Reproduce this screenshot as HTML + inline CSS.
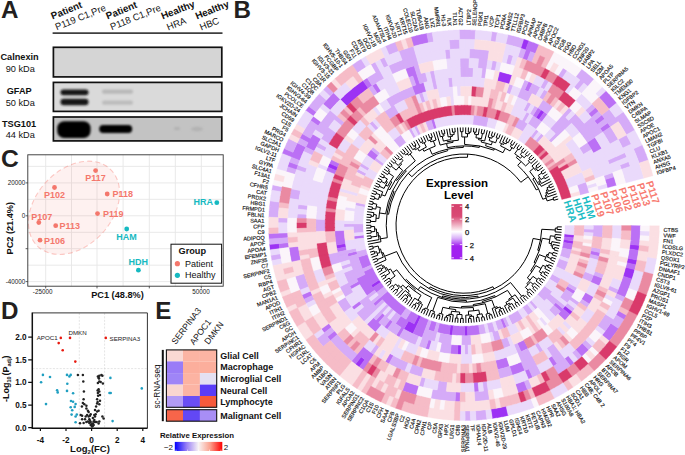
<!DOCTYPE html><html><head><meta charset="utf-8"><style>html,body{margin:0;padding:0;background:#fff;}svg{display:block;font-family:"Liberation Sans",sans-serif;}</style></head><body><svg width="685" height="455" viewBox="0 0 685 455" font-family="Liberation Sans, sans-serif">
<rect width="685" height="455" fill="#fff"/>

<text x="0.9" y="17.9" font-size="24.2" font-weight="bold" fill="#231f20">A</text>
<g font-size="9.5" fill="#111">
<text transform="translate(52.6 19.6) rotate(-22)" font-weight="bold" font-size="9.8">Patient</text>
<text transform="translate(56.8 30.3) rotate(-22)">P119 C1,Pre</text>
<text transform="translate(107.6 19.6) rotate(-22)" font-weight="bold" font-size="9.8">Patient</text>
<text transform="translate(111.8 30.3) rotate(-22)">P118 C1,Pre</text>
<text transform="translate(162.8 19.6) rotate(-22)" font-weight="bold" font-size="9.8">Healthy</text>
<text transform="translate(168.3 30.6) rotate(-22)">HRA</text>
<text transform="translate(196.9 19.6) rotate(-22)" font-weight="bold" font-size="9.8">Healthy</text>
<text transform="translate(201.3 30.6) rotate(-22)">HBC</text>
</g>
<rect x="52.6" y="32.4" width="169.9" height="1.4" fill="#111"/>
<defs>
<filter id="blur1" x="-20%" y="-50%" width="140%" height="200%"><feGaussianBlur stdDeviation="1.2"/></filter>
<filter id="blur2" x="-20%" y="-50%" width="140%" height="200%"><feGaussianBlur stdDeviation="0.9"/></filter>
</defs>
<rect x="53.4" y="47.3" width="168.4" height="29.6" fill="#d5d5d5" stroke="#111" stroke-width="1.7"/>
<rect x="53.4" y="82.4" width="168.4" height="29.0" fill="#dadada" stroke="#111" stroke-width="1.7"/>
<rect x="53.4" y="117.0" width="168.4" height="23.9" fill="#c3c3c3" stroke="#111" stroke-width="1.7"/>
<g filter="url(#blur2)">
<rect x="60.5" y="89.4" width="28" height="5.8" rx="2.9" fill="#151515"/>
<rect x="60.5" y="98.8" width="28" height="6.4" rx="3.2" fill="#151515"/>
<rect x="102" y="89.6" width="31" height="4.2" rx="2" fill="#b8b8b8"/>
<rect x="102" y="100.4" width="31" height="4.4" rx="2" fill="#bcbcbc"/>
</g>
<g filter="url(#blur1)">
<rect x="57.2" y="121.2" width="33.4" height="16.8" rx="7" fill="#000"/>
<rect x="99.2" y="125.1" width="33" height="8" rx="4" fill="#050505"/>
<ellipse cx="177" cy="128.5" rx="3" ry="1.6" fill="#b0b0b0"/>
<ellipse cx="197" cy="129" rx="6" ry="2.2" fill="#b2b2b2"/>
</g>
<g font-size="9.2" fill="#111" text-anchor="middle">
<text x="19.6" y="59.8" font-weight="bold">Calnexin</text>
<text x="20.2" y="71.5">90 kDa</text>
<text x="19.2" y="94.4" font-weight="bold">GFAP</text>
<text x="20.2" y="105.8">50 kDa</text>
<text x="19.1" y="127.1" font-weight="bold">TSG101</text>
<text x="20.2" y="138">44 kDa</text>
</g>

<text x="1.0" y="167.1" font-size="24.6" font-weight="bold" fill="#231f20">C</text>
<rect x="27.8" y="154.8" width="195.39999999999998" height="131.39999999999998" fill="#fff"/>
<path d="M45.7 154.8V286.2M97.0 154.8V286.2M149.3 154.8V286.2M201.3 154.8V286.2M71.5 154.8V286.2M123.1 154.8V286.2M175.3 154.8V286.2M27.8 166.4H223.2M27.8 182.9H223.2M27.8 199.3H223.2M27.8 215.8H223.2M27.8 232.3H223.2M27.8 248.7H223.2M27.8 265.2H223.2M27.8 281.6H223.2" stroke="#e6e6e6" stroke-width="0.9" fill="none"/>
<ellipse cx="74" cy="207.8" rx="53" ry="38" transform="rotate(-47 74 207.8)" fill="#f8766d" fill-opacity="0.1" stroke="#f8766d" stroke-opacity="0.38" stroke-width="1.1" stroke-dasharray="5 3.2"/>
<rect x="27.8" y="154.8" width="195.39999999999998" height="131.39999999999998" fill="none" stroke="#333" stroke-width="0.9"/>
<g font-size="6.3" fill="#222" text-anchor="end"><text x="25.3" y="185.1">20000</text><text x="25.3" y="218">0</text><text x="25.3" y="284">-40000</text></g>
<path d="M25.6 182.9H27.8M25.6 215.8H27.8M25.6 248.7H27.8M25.6 281.6H27.8M45.7 286.2V288.4M97 286.2V288.4M149.3 286.2V288.4M201.3 286.2V288.4" stroke="#333" stroke-width="0.8"/>
<g font-size="6.3" fill="#222" text-anchor="middle"><text x="42.6" y="294">-25000</text><text x="201.1" y="293.8">50000</text></g>
<text x="117.5" y="298" font-size="9.2" font-weight="bold" text-anchor="middle" fill="#111">PC1 (48.8%)</text>
<text transform="translate(13.0 228.2) rotate(-90)" font-size="9.2" font-weight="bold" text-anchor="middle" fill="#111">PC2 (21.4%)</text>
<g fill="#f4776c" font-size="9" font-weight="bold">
<circle cx="95.6" cy="170.6" r="2.4"/><text x="95.5" y="181.4" text-anchor="middle">P117</text>
<circle cx="54.5" cy="187.5" r="2.4"/><text x="54.6" y="198.4" text-anchor="middle">P102</text>
<circle cx="107.2" cy="194" r="2.4"/><text x="112.5" y="197.1" text-anchor="start">P118</text>
<circle cx="97.5" cy="213.6" r="2.4"/><text x="102.9" y="217.2" text-anchor="start">P119</text>
<circle cx="38.8" cy="222.5" r="2.4"/><text x="41.7" y="219.6" text-anchor="middle">P107</text>
<circle cx="55.7" cy="225.7" r="2.4"/><text x="59.6" y="229" text-anchor="start">P113</text>
<circle cx="40.0" cy="240.2" r="2.4"/><text x="43.9" y="243.6" text-anchor="start">P106</text>
</g>
<g fill="#16b9c1" font-size="9" font-weight="bold">
<circle cx="126.7" cy="229" r="2.4"/><text x="126.5" y="240" text-anchor="middle">HAM</text>
<circle cx="216.8" cy="202.7" r="2.4"/><text x="213" y="205.2" text-anchor="end">HRA</text>
<circle cx="138.4" cy="270.2" r="2.4"/><text x="138.3" y="265.2" text-anchor="middle">HDH</text>
</g>
<rect x="171" y="244.2" width="50.6" height="39" fill="#fff" stroke="#111" stroke-width="1"/>
<text x="192.3" y="253.8" font-size="9.2" font-weight="bold" text-anchor="middle" fill="#111">Group</text>
<circle cx="177.4" cy="263.7" r="2.6" fill="#f4776c"/><circle cx="177.4" cy="275.3" r="2.6" fill="#16b9c1"/>
<g font-size="9" fill="#111"><text x="184.9" y="266.8">Patient</text><text x="184.9" y="278.4">Healthy</text></g>
<text x="1.0" y="318.7" font-size="24.2" font-weight="bold" fill="#231f20">D</text>
<path d="M79.3 313V428M104.6 313V428M32.5 368.6H147.6" stroke="#d2d2d2" stroke-width="0.6" stroke-dasharray="2 1.4" fill="none"/>
<path d="M32.5 312.9H147.4V428.3" stroke="#333" stroke-width="1" fill="none"/>
<path d="M32.3 312.4V428.3H147.5" stroke="#111" stroke-width="1.5" fill="none"/>
<path d="M28.2 337.1H32.3M28.2 359.8H32.3M28.2 382.4H32.3M28.2 405.1H32.3M28.2 427.7H32.3M40.4 428.3V431M66.0 428.3V431M91.6 428.3V431M117.2 428.3V431M142.8 428.3V431" stroke="#111" stroke-width="1.2"/>
<g font-size="8.2" font-weight="bold" fill="#111" text-anchor="end">
<text x="26.6" y="340.1">2.0</text>
<text x="26.6" y="362.8">1.5</text>
<text x="26.6" y="385.4">1.0</text>
<text x="26.6" y="408.1">0.5</text>
<text x="26.6" y="430.7">0.0</text>
</g><g font-size="8.2" font-weight="bold" fill="#111" text-anchor="middle">
<text x="40.4" y="442.6">-4</text>
<text x="66.0" y="442.6">-2</text>
<text x="91.6" y="442.6">0</text>
<text x="117.2" y="442.6">2</text>
<text x="142.8" y="442.6">4</text>
</g>
<text x="90" y="451.5" font-size="9.5" font-weight="bold" text-anchor="middle" fill="#111">Log<tspan font-size="6" dy="2">2</tspan><tspan dy="-2">(FC)</tspan></text>
<text transform="translate(9.0 378.8) rotate(-90)" font-size="9" font-weight="bold" text-anchor="middle" fill="#111">-Log<tspan font-size="5.6" dy="2">10</tspan><tspan dy="-2" dx="0.8">(P</tspan><tspan font-size="5.6" dy="2">adj</tspan><tspan dy="-2">)</tspan></text>
<g fill="#e8190f"><circle cx="60.8" cy="337.9" r="1.3"/><circle cx="58.7" cy="343.1" r="1.3"/><circle cx="62.7" cy="350.2" r="1.3"/><circle cx="70" cy="337.9" r="1.3"/><circle cx="75.3" cy="361.6" r="1.3"/><circle cx="105.8" cy="337.9" r="1.3"/></g>
<g fill="#1f9fc1"><circle cx="42.9" cy="374.9" r="1.3"/><circle cx="41.1" cy="382.3" r="1.3"/><circle cx="50" cy="377" r="1.3"/><circle cx="46" cy="404.1" r="1.3"/><circle cx="57.1" cy="390.3" r="1.3"/><circle cx="57.7" cy="392.4" r="1.3"/><circle cx="67" cy="374.9" r="1.3"/><circle cx="69.4" cy="376.4" r="1.3"/><circle cx="70.7" cy="374.9" r="1.3"/><circle cx="67.3" cy="383.8" r="1.3"/><circle cx="67" cy="390.9" r="1.3"/><circle cx="73.1" cy="393.3" r="1.3"/><circle cx="71" cy="401" r="1.3"/><circle cx="73.1" cy="401.7" r="1.3"/><circle cx="75.6" cy="404.1" r="1.3"/><circle cx="74.7" cy="406.9" r="1.3"/><circle cx="70.7" cy="407.2" r="1.3"/><circle cx="72.2" cy="410.3" r="1.3"/><circle cx="71.6" cy="414.6" r="1.3"/><circle cx="75.6" cy="416.5" r="1.3"/><circle cx="76.8" cy="414.6" r="1.3"/><circle cx="75.6" cy="422.3" r="1.3"/><circle cx="110.4" cy="377.9" r="1.3"/><circle cx="110.7" cy="393" r="1.3"/><circle cx="109.5" cy="393" r="1.3"/><circle cx="141.8" cy="388.4" r="1.3"/><circle cx="112.6" cy="421.1" r="1.3"/></g>
<g fill="#222"><circle cx="77.9" cy="375.0" r="1.25"/><circle cx="82.9" cy="375.0" r="1.25"/><circle cx="83.3" cy="381.4" r="1.25"/><circle cx="83.9" cy="391.4" r="1.25"/><circle cx="83.6" cy="399.3" r="1.25"/><circle cx="82.9" cy="402.9" r="1.25"/><circle cx="84.3" cy="404.3" r="1.25"/><circle cx="86.4" cy="405.7" r="1.25"/><circle cx="87.9" cy="410.7" r="1.25"/><circle cx="88.6" cy="412.1" r="1.25"/><circle cx="87.1" cy="415.0" r="1.25"/><circle cx="88.6" cy="416.4" r="1.25"/><circle cx="90.0" cy="415.7" r="1.25"/><circle cx="89.3" cy="419.3" r="1.25"/><circle cx="87.9" cy="421.4" r="1.25"/><circle cx="86.4" cy="422.1" r="1.25"/><circle cx="83.6" cy="422.9" r="1.25"/><circle cx="80.0" cy="423.3" r="1.25"/><circle cx="90.7" cy="422.1" r="1.25"/><circle cx="91.4" cy="424.3" r="1.25"/><circle cx="92.1" cy="426.4" r="1.25"/><circle cx="92.9" cy="423.6" r="1.25"/><circle cx="93.6" cy="421.4" r="1.25"/><circle cx="94.3" cy="420.0" r="1.25"/><circle cx="95.0" cy="416.4" r="1.25"/><circle cx="95.7" cy="414.3" r="1.25"/><circle cx="95.0" cy="410.0" r="1.25"/><circle cx="97.1" cy="411.4" r="1.25"/><circle cx="98.6" cy="410.7" r="1.25"/><circle cx="96.1" cy="406.4" r="1.25"/><circle cx="97.1" cy="403.6" r="1.25"/><circle cx="99.3" cy="404.3" r="1.25"/><circle cx="100.0" cy="400.7" r="1.25"/><circle cx="97.1" cy="399.3" r="1.25"/><circle cx="97.9" cy="392.9" r="1.25"/><circle cx="99.3" cy="391.4" r="1.25"/><circle cx="98.6" cy="389.3" r="1.25"/><circle cx="100.0" cy="395.0" r="1.25"/><circle cx="97.9" cy="382.9" r="1.25"/><circle cx="99.3" cy="381.4" r="1.25"/><circle cx="100.7" cy="382.1" r="1.25"/><circle cx="102.9" cy="383.6" r="1.25"/><circle cx="98.6" cy="377.9" r="1.25"/><circle cx="99.3" cy="375.7" r="1.25"/><circle cx="101.4" cy="375.0" r="1.25"/><circle cx="97.9" cy="376.4" r="1.25"/><circle cx="102.4" cy="416.4" r="1.25"/><circle cx="103.6" cy="418.6" r="1.25"/><circle cx="99.3" cy="421.4" r="1.25"/><circle cx="98.6" cy="423.6" r="1.25"/><circle cx="82.1" cy="415.7" r="1.25"/><circle cx="80.7" cy="415.0" r="1.25"/><circle cx="85.0" cy="419.3" r="1.25"/><circle cx="90.7" cy="425.0" r="1.25"/><circle cx="91.9" cy="425.7" r="1.25"/><circle cx="92.9" cy="425.7" r="1.25"/><circle cx="93.6" cy="425.0" r="1.25"/><circle cx="89.3" cy="422.9" r="1.25"/><circle cx="95.0" cy="422.1" r="1.25"/><circle cx="96.7" cy="422.1" r="1.25"/><circle cx="82.1" cy="419.3" r="1.25"/><circle cx="85.7" cy="416.4" r="1.25"/><circle cx="90.7" cy="414.3" r="1.25"/><circle cx="94.3" cy="415.0" r="1.25"/><circle cx="97.6" cy="402.1" r="1.25"/><circle cx="98.1" cy="395.7" r="1.25"/><circle cx="97.6" cy="390.4" r="1.25"/><circle cx="81.9" cy="406.4" r="1.25"/><circle cx="86.4" cy="408.6" r="1.25"/><circle cx="92.9" cy="417.9" r="1.25"/><circle cx="90.0" cy="420.7" r="1.25"/><circle cx="99.0" cy="378.6" r="1.25"/><circle cx="102.4" cy="375.7" r="1.25"/></g>
<g font-size="6.2" fill="#222"><text x="57.7" y="340" text-anchor="end">APOC1</text><text x="68.5" y="334.5">DMKN</text><text x="109.5" y="340.7">SERPINA3</text></g>
<text x="155.2" y="318.5" font-size="24.2" font-weight="bold" fill="#231f20">E</text>
<g font-size="8.7" fill="#111">
<text transform="translate(175.8 345.0) rotate(-53)">SERPINA3</text>
<text transform="translate(194.0 345.6) rotate(-53)">APOC1</text>
<text transform="translate(208.6 345.0) rotate(-53)">DMKN</text>
</g>
<rect x="166.4" y="349.9" width="16.65" height="11.55" fill="#fad9d3"/>
<rect x="183.0" y="349.9" width="16.95" height="11.55" fill="#fcb4a3"/>
<rect x="199.9" y="349.9" width="16.85" height="11.55" fill="#fcb4a3"/>
<rect x="166.4" y="361.4" width="16.65" height="11.75" fill="#9a7cf7"/>
<rect x="183.0" y="361.4" width="16.95" height="11.75" fill="#fcae9c"/>
<rect x="199.9" y="361.4" width="16.85" height="11.75" fill="#fcae9c"/>
<rect x="166.4" y="373.1" width="16.65" height="11.55" fill="#9f85f7"/>
<rect x="183.0" y="373.1" width="16.95" height="11.55" fill="#fcb3a2"/>
<rect x="199.9" y="373.1" width="16.85" height="11.55" fill="#e4e0f2"/>
<rect x="166.4" y="384.6" width="16.65" height="11.45" fill="#f9d6d0"/>
<rect x="183.0" y="384.6" width="16.95" height="11.45" fill="#fcb4a4"/>
<rect x="199.9" y="384.6" width="16.85" height="11.45" fill="#5a3cf8"/>
<rect x="166.4" y="396.0" width="16.65" height="11.35" fill="#b29bf6"/>
<rect x="183.0" y="396.0" width="16.95" height="11.35" fill="#6a4ef5"/>
<rect x="199.9" y="396.0" width="16.85" height="11.35" fill="#f65a3c"/>
<rect x="166.4" y="409.7" width="16.65" height="11.5" fill="#f7654a"/>
<rect x="183.0" y="409.7" width="16.95" height="11.5" fill="#6248f5"/>
<rect x="199.9" y="409.7" width="16.85" height="11.5" fill="#a88ef6"/>
<rect x="166.4" y="349.9" width="50.3" height="57.4" fill="none" stroke="#111" stroke-width="1.1"/>
<rect x="166.4" y="409.7" width="50.3" height="11.5" fill="none" stroke="#111" stroke-width="1.1"/>
<rect x="161.8" y="349.9" width="2" height="71.3" fill="#111"/>
<text transform="translate(159.5 386.5) rotate(-90)" font-size="8.2" text-anchor="middle" fill="#111">sc-RNA-seq</text>
<g font-size="9" font-weight="bold" fill="#111">
<text x="220.2" y="358.8">Glial Cell</text>
<text x="220.2" y="370.4">Macrophage</text>
<text x="220.2" y="382.1">Microglial Cell</text>
<text x="220.2" y="393.5">Neural Cell</text>
<text x="220.2" y="404.9">Lymphocyte</text>
<text x="220.2" y="418.6">Malignant Cell</text>
</g>
<defs><linearGradient id="gE" x1="0" x2="1" y1="0" y2="0">
<stop offset="0" stop-color="#0000ff"/><stop offset="0.25" stop-color="#9a80f5"/><stop offset="0.5" stop-color="#f8f4f4"/>
<stop offset="0.75" stop-color="#fb9e8a"/><stop offset="1" stop-color="#ff0000"/></linearGradient></defs>
<text x="159.9" y="438.2" font-size="7.8" font-weight="bold" fill="#111">Relative Expression</text>
<rect x="174.8" y="441.9" width="47.5" height="9.1" fill="url(#gE)"/>
<path d="M176 451V449.6M187.6 451V449.6M198.5 451V449.6M209.5 451V449.6M221 451V449.6" stroke="#fff" stroke-width="0.6"/>
<g font-size="8" fill="#111"><text x="163.9" y="449.6">−2</text><text x="223.7" y="449.6">2</text></g>
<text x="233.6" y="18.1" font-size="24.2" font-weight="bold" fill="#231f20">B</text>
<g><path d="M564.7 233.9L574.2 234.7L573.8 238.0L564.4 236.9ZM564.0 239.5L573.5 240.9L572.9 244.1L563.6 242.5ZM467.5 326.2L467.8 335.7L464.5 335.8L464.5 326.2ZM453.4 325.7L452.4 335.2L449.2 334.8L450.4 325.3ZM421.0 316.6L417.0 325.3L414.0 323.8L418.3 315.3ZM380.7 282.4L372.8 287.8L371.0 285.0L379.0 279.9ZM417.0 325.2L412.9 333.8L409.7 332.2L414.1 323.7ZM414.2 323.8L409.9 332.3L406.8 330.7L411.3 322.3ZM411.5 322.4L407.0 330.8L403.9 329.0L408.6 320.8ZM461.5 345.1L461.2 354.6L457.4 354.4L457.9 344.9ZM346.1 247.0L336.8 248.8L336.1 245.0L345.5 243.5ZM565.2 305.7L572.7 311.6L570.1 314.8L562.8 308.7ZM535.8 117.6L541.0 109.7L544.4 112.0L538.9 119.8ZM336.4 170.9L327.6 167.1L329.4 163.1L338.0 167.1ZM497.2 80.8L499.3 71.5L503.8 72.6L501.4 81.9ZM501.2 81.8L503.6 72.6L508.1 73.8L505.4 83.0ZM505.2 82.9L507.8 73.7L512.3 75.1L509.4 84.2ZM629.9 244.2L639.4 245.3L638.7 250.5L629.3 249.1ZM627.7 258.0L637.1 259.9L636.0 265.0L626.7 262.9ZM625.6 267.1L634.9 269.5L633.5 274.5L624.3 271.9ZM624.4 271.6L633.6 274.2L632.0 279.2L623.0 276.3ZM365.0 359.7L359.3 367.3L355.2 364.2L361.0 356.7ZM346.8 106.3L340.1 99.5L343.9 95.9L350.4 102.8ZM350.2 103.0L343.7 96.1L347.5 92.6L353.8 99.7ZM353.6 99.9L347.3 92.8L351.3 89.4L357.4 96.7ZM357.1 96.9L351.1 89.6L355.1 86.3L361.0 93.8ZM360.8 93.9L354.9 86.5L359.0 83.3L364.7 90.9ZM364.5 91.1L358.8 83.5L363.0 80.4L368.5 88.2ZM506.3 406.1L508.5 415.4L502.8 416.7L500.9 407.3ZM501.3 407.3L503.2 416.6L497.5 417.7L495.8 408.3ZM496.2 408.2L497.8 417.6L492.1 418.5L490.7 409.1ZM279.7 248.8L270.2 250.0L269.6 244.3L279.1 243.3ZM520.6 48.2L523.5 39.1L529.0 41.0L525.8 50.0Z" fill="#9c32f4" stroke="#9c32f4" stroke-width="0.3" stroke-linejoin="round"/>
<path d="M564.4 236.7L573.9 237.8L573.4 241.0L564.0 239.7ZM563.6 242.3L573.0 243.9L572.4 247.1L563.0 245.2ZM563.1 245.1L572.4 246.9L571.7 250.1L562.4 248.0ZM503.1 318.4L506.8 327.2L503.7 328.4L500.3 319.5ZM478.7 325.2L480.1 334.6L476.8 335.0L475.7 325.6ZM475.9 325.5L477.0 335.0L473.8 335.3L472.9 325.9ZM473.1 325.8L474.0 335.3L470.7 335.6L470.1 326.1ZM470.3 326.1L470.9 335.6L467.6 335.7L467.3 326.2ZM464.7 326.2L464.7 335.8L461.5 335.7L461.7 326.2ZM461.9 326.2L461.6 335.7L458.4 335.6L458.9 326.1ZM459.0 326.1L458.6 335.6L455.3 335.4L456.0 325.9ZM456.2 326.0L455.5 335.4L452.2 335.1L453.2 325.7ZM450.6 325.4L449.4 334.8L446.1 334.3L447.7 324.9ZM447.8 324.9L446.3 334.3L443.1 333.8L444.9 324.4ZM445.1 324.5L443.3 333.8L440.1 333.1L442.1 323.9ZM442.3 323.9L440.3 333.2L437.1 332.4L439.4 323.2ZM436.8 322.5L434.3 331.7L431.1 330.8L434.0 321.7ZM434.1 321.7L431.3 330.8L428.2 329.8L431.3 320.8ZM428.8 319.9L425.5 328.8L422.4 327.7L426.0 318.8ZM426.2 318.9L422.6 327.7L419.6 326.5L423.4 317.7ZM423.6 317.8L419.8 326.5L416.8 325.2L420.8 316.6ZM418.5 315.4L414.2 323.9L411.3 322.4L415.8 314.0ZM416.0 314.1L411.4 322.5L408.6 320.9L413.4 312.6ZM413.5 312.7L408.8 321.0L405.9 319.3L410.9 311.2ZM406.4 308.2L400.9 316.0L398.3 314.1L403.9 306.5ZM404.1 306.6L398.4 314.2L395.8 312.3L401.7 304.8ZM401.8 304.9L396.0 312.4L393.4 310.3L399.5 303.0ZM399.6 303.1L393.6 310.4L391.1 308.3L397.4 301.2ZM397.5 301.3L391.2 308.4L388.8 306.3L395.3 299.3ZM395.4 299.4L388.9 306.4L386.6 304.1L393.2 297.3ZM393.4 297.5L386.7 304.3L384.4 301.9L391.2 295.3ZM391.4 295.5L384.5 302.1L382.3 299.7L389.3 293.3ZM389.4 293.4L382.4 299.8L380.2 297.4L387.4 291.2ZM384.0 286.9L376.5 292.7L374.5 290.1L382.2 284.5ZM382.3 284.7L374.6 290.3L372.7 287.6L380.6 282.2ZM379.1 280.0L371.1 285.2L369.4 282.4L377.5 277.5ZM377.6 277.6L369.5 282.6L367.8 279.8L376.1 275.1ZM376.2 275.2L367.9 279.9L366.3 277.1L374.8 272.6ZM374.8 272.7L366.4 277.2L364.9 274.3L373.5 270.1ZM373.5 270.2L365.0 274.5L363.6 271.5L372.3 267.5ZM371.2 265.1L362.4 268.9L361.2 265.9L370.0 262.4ZM370.1 262.5L361.3 266.0L360.1 263.0L369.0 259.7ZM369.1 259.9L360.2 263.2L359.1 260.1L368.1 257.1ZM368.2 257.2L359.1 260.3L358.1 257.1L367.3 254.4ZM363.8 238.0L354.3 239.2L354.0 236.0L363.4 235.1ZM433.8 128.8L430.9 119.7L434.0 118.8L436.6 127.9ZM425.5 328.7L422.2 337.7L418.9 336.4L422.5 327.6ZM422.6 327.6L419.1 336.5L415.8 335.1L419.6 326.4ZM419.8 326.4L416.0 335.2L412.8 333.7L416.8 325.1ZM408.8 320.9L404.0 329.1L401.0 327.3L406.0 319.2ZM406.2 319.3L401.2 327.4L398.2 325.5L403.4 317.6ZM403.6 317.7L398.3 325.6L395.4 323.6L400.8 315.8ZM382.5 299.8L375.5 306.2L373.1 303.5L380.3 297.3ZM374.7 290.2L367.0 295.8L364.9 292.9L372.8 287.5ZM372.9 287.7L365.1 293.1L363.1 290.1L371.1 285.0ZM371.2 285.1L363.2 290.3L361.3 287.3L369.5 282.4ZM369.6 282.5L361.4 287.5L359.6 284.4L367.9 279.7ZM368.0 279.9L359.7 284.6L358.0 281.5L366.4 277.0ZM366.5 277.2L358.1 281.7L356.5 278.5L365.0 274.3ZM357.4 254.3L348.3 256.8L347.4 253.4L356.6 251.2ZM374.4 160.5L366.7 154.9L368.9 152.1L376.4 157.9ZM376.3 158.0L368.7 152.3L370.9 149.5L378.3 155.5ZM567.3 286.1L575.5 290.9L573.5 294.2L565.4 289.1ZM555.7 302.4L563.0 308.5L560.5 311.4L553.4 305.1ZM458.1 344.9L457.6 354.5L453.8 354.2L454.6 344.7ZM454.8 344.7L454.0 354.2L450.2 353.9L451.2 344.4ZM431.8 340.7L429.2 349.8L425.5 348.8L428.4 339.7ZM404.1 329.1L399.3 337.3L396.0 335.3L401.0 327.2ZM392.9 321.7L387.3 329.4L384.2 327.1L390.1 319.6ZM385.1 315.5L378.8 322.6L376.0 320.1L382.5 313.1ZM359.8 284.5L351.6 289.3L349.7 285.9L358.1 281.4ZM346.8 250.3L337.5 252.3L336.7 248.6L346.1 246.8ZM345.6 243.7L336.1 245.2L335.6 241.4L345.1 240.2ZM345.1 240.4L335.6 241.6L335.2 237.8L344.7 236.9ZM344.7 237.1L335.2 238.1L334.9 234.2L344.4 233.6ZM344.4 233.8L334.9 234.5L334.7 230.6L344.2 230.2ZM590.8 250.6L600.1 252.5L599.3 256.5L590.0 254.4ZM562.9 308.5L570.2 314.6L567.5 317.7L560.4 311.4ZM560.6 311.2L567.7 317.5L564.9 320.6L558.0 314.0ZM523.8 339.9L528.2 348.3L524.5 350.1L520.4 341.6ZM520.6 341.5L524.7 350.0L521.0 351.8L517.1 343.1ZM381.6 324.9L375.6 332.2L372.4 329.6L378.7 322.4ZM378.9 322.6L372.6 329.7L369.6 327.0L376.0 320.0ZM376.2 320.1L369.7 327.1L366.8 324.3L373.4 317.5ZM361.6 304.2L354.1 310.0L351.6 306.7L359.3 301.1ZM532.7 115.7L537.8 107.6L541.3 109.8L536.0 117.8ZM538.7 119.7L544.2 111.9L547.6 114.3L541.8 121.9ZM593.6 274.7L602.5 278.1L600.8 282.2L592.1 278.6ZM592.2 278.3L600.9 282.0L599.2 286.0L590.5 282.1ZM585.4 292.3L593.8 296.9L591.6 300.7L583.4 295.8ZM583.5 295.6L591.7 300.5L589.4 304.2L581.4 299.1ZM506.8 357.2L509.7 366.2L505.5 367.5L502.8 358.4ZM503.1 358.3L505.7 367.5L501.5 368.6L499.1 359.4ZM499.3 359.4L501.8 368.6L497.5 369.6L495.4 360.3ZM334.9 174.4L326.0 171.0L327.7 166.9L336.4 170.6ZM337.9 167.3L329.3 163.4L331.2 159.4L339.7 163.6ZM415.2 95.3L411.8 86.4L415.9 85.0L419.0 94.0ZM418.8 94.0L415.7 85.0L419.9 83.7L422.7 92.8ZM422.5 92.8L419.6 83.7L423.8 82.5L426.4 91.7ZM521.3 361.8L525.0 370.6L520.6 372.3L517.2 363.5ZM517.5 363.4L520.9 372.2L516.5 373.9L513.3 364.9ZM513.6 364.8L516.8 373.8L512.3 375.3L509.4 366.2ZM393.6 355.5L389.1 363.9L385.0 361.6L389.8 353.4ZM415.7 85.1L412.6 76.1L417.1 74.7L419.9 83.8ZM524.6 90.0L528.4 81.3L532.7 83.3L528.5 91.8ZM586.9 142.5L594.8 137.2L597.4 141.1L589.3 146.2ZM589.2 146.0L597.2 140.9L599.7 144.9L591.5 149.7ZM591.4 149.5L599.5 144.6L601.9 148.7L593.5 153.3ZM604.9 179.6L614.0 176.6L615.4 181.1L606.2 183.7ZM606.2 183.5L615.3 180.8L616.5 185.3L607.3 187.7ZM552.0 355.9L557.3 363.8L553.1 366.5L548.0 358.5ZM529.0 368.8L532.9 377.4L528.3 379.4L524.7 370.6ZM478.2 382.1L479.1 391.6L474.1 392.0L473.6 382.5ZM374.1 354.6L368.7 362.5L364.7 359.6L370.3 351.9ZM370.6 352.1L364.9 359.7L361.0 356.8L366.8 349.3ZM367.1 349.4L361.2 356.9L357.4 353.8L363.4 346.5ZM377.3 93.6L372.0 85.7L376.2 83.0L381.2 91.1ZM408.5 77.7L405.2 68.8L409.8 67.1L412.9 76.1ZM412.7 76.2L409.6 67.2L414.3 65.7L417.1 74.8ZM631.0 225.6L640.5 225.7L640.4 230.9L630.9 230.6ZM630.9 230.3L640.4 230.6L640.2 235.8L630.7 235.2ZM630.7 234.9L640.2 235.5L639.8 240.7L630.3 239.9ZM630.4 239.6L639.9 240.4L639.3 245.6L629.9 244.5ZM629.3 248.8L638.7 250.2L637.9 255.4L628.5 253.7ZM628.6 253.4L638.0 255.0L637.0 260.2L627.7 258.3ZM626.8 262.6L636.0 264.7L634.8 269.8L625.6 267.4ZM623.1 276.0L632.1 278.9L630.5 283.9L621.5 280.7ZM621.6 280.5L630.6 283.6L628.8 288.5L619.9 285.1ZM620.0 284.8L628.9 288.2L626.9 293.1L618.1 289.4ZM618.3 289.2L627.1 292.8L625.0 297.6L616.3 293.7ZM582.3 343.0L589.1 349.8L585.3 353.4L578.8 346.5ZM579.0 346.3L585.5 353.2L581.7 356.7L575.3 349.6ZM568.5 355.5L574.4 362.9L570.3 366.1L564.6 358.5ZM524.3 380.9L527.7 389.8L522.8 391.6L519.6 382.7ZM519.9 382.6L523.1 391.5L518.1 393.2L515.2 384.1ZM460.5 392.2L460.2 401.7L455.0 401.5L455.5 392.0ZM419.1 386.0L416.5 395.2L411.5 393.7L414.4 384.6ZM414.6 384.7L411.8 393.8L406.8 392.2L409.9 383.2ZM410.2 383.3L407.1 392.3L402.2 390.5L405.5 381.6ZM368.8 362.4L363.3 370.2L359.1 367.1L364.7 359.5ZM361.3 356.9L355.4 364.4L351.3 361.1L357.4 353.8ZM337.7 334.4L330.5 340.7L327.1 336.6L334.5 330.6ZM331.8 327.2L324.3 333.0L321.1 328.8L328.8 323.3ZM312.5 295.4L303.9 299.4L301.7 294.7L310.5 290.9ZM300.7 260.2L291.4 262.2L290.4 257.0L299.8 255.3ZM299.8 255.6L290.4 257.4L289.6 252.2L299.0 250.7ZM299.0 251.0L289.6 252.5L288.9 247.3L298.3 246.1ZM314.2 151.3L305.7 147.1L308.1 142.5L316.5 146.9ZM316.4 147.2L307.9 142.7L310.4 138.2L318.7 142.9ZM318.6 143.1L310.3 138.4L312.9 133.9L321.1 138.8ZM368.2 88.4L362.8 80.6L367.1 77.7L372.3 85.6ZM588.3 113.7L595.4 107.3L598.8 111.2L591.5 117.4ZM594.3 120.8L601.7 114.8L604.9 118.9L597.3 124.7ZM599.9 128.2L607.7 122.7L610.6 127.0L602.7 132.3ZM618.4 310.5L626.8 315.1L624.0 319.9L615.8 315.0ZM610.8 323.1L618.7 328.4L615.6 332.9L607.8 327.4ZM608.0 327.1L615.7 332.6L612.5 337.1L604.9 331.4ZM605.1 331.1L612.7 336.8L609.3 341.2L601.9 335.2ZM289.0 247.6L279.6 248.8L279.0 243.4L288.4 242.4ZM288.0 237.8L278.5 238.5L278.2 233.0L287.7 232.6ZM296.5 169.9L287.4 166.9L289.2 161.7L298.2 165.0ZM299.8 160.7L291.0 157.2L293.0 152.1L301.8 155.8ZM301.7 156.1L292.9 152.4L295.2 147.3L303.8 151.3ZM303.7 151.6L295.0 147.6L297.4 142.7L305.9 146.9ZM308.0 142.8L299.6 138.3L302.2 133.5L310.5 138.2ZM318.2 125.9L310.3 120.6L313.5 116.1L321.2 121.7ZM330.1 110.3L322.9 104.1L326.5 100.0L333.6 106.4ZM333.4 106.6L326.3 100.2L330.1 96.2L336.9 102.8ZM336.7 103.0L329.9 96.4L333.7 92.5L340.4 99.3ZM522.4 58.7L525.5 49.8L530.7 51.7L527.3 60.5ZM278.6 238.5L269.2 239.2L268.8 233.4L278.3 233.0ZM291.1 157.2L282.2 153.7L284.4 148.4L293.1 152.1ZM313.4 116.4L305.6 110.8L309.1 106.2L316.6 112.0ZM413.3 46.4L410.8 37.2L416.3 35.8L418.7 45.0ZM418.4 45.1L416.0 35.8L421.6 34.5L423.7 43.8ZM423.4 43.9L421.3 34.6L427.0 33.4L428.8 42.7ZM525.5 49.8L528.7 40.9L534.1 42.9L530.7 51.7ZM530.4 51.6L533.8 42.7L539.2 44.9L535.5 53.7ZM598.8 97.3L605.7 90.7L609.6 95.0L602.5 101.3ZM602.3 101.1L609.4 94.7L613.2 99.1L605.9 105.2ZM605.7 105.0L613.0 98.8L616.6 103.3L609.2 109.2Z" fill="#bb70f5" stroke="#bb70f5" stroke-width="0.3" stroke-linejoin="round"/>
<path d="M562.5 247.8L571.8 249.9L571.0 253.1L561.8 250.7ZM561.8 250.6L571.0 252.9L570.2 256.1L561.0 253.4ZM561.1 253.3L570.2 255.9L569.3 259.0L560.2 256.1ZM559.4 258.6L568.3 261.8L567.2 264.9L558.3 261.4ZM558.4 261.3L567.3 264.7L566.1 267.7L557.3 264.1ZM557.3 263.9L566.1 267.5L564.8 270.6L556.2 266.6ZM552.5 274.0L560.8 278.7L559.2 281.5L551.0 276.6ZM551.1 276.5L559.3 281.3L557.6 284.1L549.5 279.1ZM544.8 285.9L552.4 291.6L550.4 294.2L543.0 288.2ZM543.1 288.1L550.5 294.0L548.5 296.6L541.2 290.4ZM541.3 290.3L548.6 296.4L546.4 298.9L539.3 292.5ZM539.5 292.4L546.6 298.7L544.4 301.2L537.4 294.6ZM531.5 300.4L537.9 307.5L535.4 309.6L529.3 302.4ZM527.2 304.0L533.2 311.5L530.6 313.5L524.9 305.9ZM525.0 305.8L530.7 313.4L528.1 315.3L522.6 307.5ZM518.0 310.6L523.1 318.6L520.3 320.3L515.5 312.1ZM515.6 312.1L520.5 320.2L517.7 321.9L513.0 313.5ZM513.2 313.5L517.8 321.8L515.0 323.3L510.6 314.9ZM510.7 314.8L515.1 323.2L512.2 324.7L508.0 316.1ZM505.7 317.3L509.6 325.9L506.6 327.2L502.9 318.5ZM500.5 319.4L503.9 328.3L500.8 329.5L497.7 320.5ZM497.8 320.4L501.0 329.4L497.9 330.4L495.0 321.4ZM492.5 322.2L495.1 331.3L492.0 332.2L489.6 323.0ZM489.7 322.9L492.2 332.1L489.0 332.9L486.8 323.6ZM484.3 324.2L486.2 333.5L482.9 334.1L481.3 324.8ZM481.5 324.7L483.1 334.1L479.9 334.6L478.5 325.2ZM439.6 323.2L437.3 332.5L434.1 331.6L436.7 322.5ZM431.4 320.9L428.4 329.9L425.3 328.8L428.6 319.9ZM411.1 311.3L406.1 319.4L403.3 317.6L408.6 309.7ZM408.7 309.8L403.5 317.8L400.8 315.9L406.2 308.1ZM387.6 291.3L380.4 297.5L378.3 295.0L385.6 289.0ZM385.8 289.1L378.4 295.2L376.3 292.6L383.9 286.8ZM372.3 267.7L363.7 271.7L362.4 268.7L371.1 265.0ZM367.3 254.6L358.2 257.3L357.3 254.2L366.5 251.7ZM366.5 251.8L357.3 254.4L356.5 251.2L365.8 248.9ZM363.2 232.4L353.7 233.1L353.5 229.8L363.0 229.4ZM363.0 229.6L353.5 230.0L353.4 226.8L363.0 226.6ZM363.0 226.8L353.4 227.0L353.4 223.7L363.0 223.8ZM364.6 207.2L355.2 205.5L355.8 202.3L365.1 204.2ZM382.1 166.0L374.4 160.5L376.3 157.8L383.9 163.6ZM399.3 147.5L393.2 140.2L395.8 138.2L401.7 145.7ZM401.5 145.8L395.6 138.3L398.2 136.3L403.9 144.0ZM403.8 144.1L398.1 136.4L400.8 134.5L406.2 142.3ZM413.2 137.9L408.4 129.6L411.2 128.0L415.8 136.4ZM418.1 135.2L413.8 126.7L416.7 125.2L420.8 133.8ZM428.4 130.6L425.1 121.7L428.2 120.6L431.2 129.6ZM431.1 129.7L428.0 120.7L431.1 119.6L433.9 128.7ZM472.7 124.5L473.5 115.0L476.8 115.4L475.7 124.8ZM475.5 124.8L476.6 115.4L479.9 115.8L478.5 125.2ZM478.3 125.2L479.7 115.7L482.9 116.3L481.3 125.6ZM481.1 125.6L482.7 116.2L485.9 116.8L484.0 126.2ZM483.9 126.1L485.7 116.8L488.9 117.5L486.8 126.8ZM550.5 294.0L557.9 299.9L555.7 302.6L548.4 296.5ZM548.5 296.3L555.8 302.5L553.5 305.2L546.4 298.8ZM498.1 330.3L501.0 339.3L497.6 340.4L494.9 331.3ZM495.1 331.2L497.8 340.3L494.4 341.3L492.0 332.1ZM470.9 335.5L471.5 345.0L467.9 345.1L467.6 335.6ZM467.8 335.6L468.1 345.1L464.6 345.2L464.5 335.7ZM464.7 335.7L464.8 345.2L461.2 345.2L461.5 335.6ZM452.4 335.1L451.4 344.5L447.9 344.1L449.2 334.7ZM449.4 334.7L448.1 344.1L444.6 343.6L446.1 334.2ZM446.3 334.2L444.8 343.6L441.3 343.0L443.1 333.7ZM443.3 333.7L441.5 343.1L438.0 342.3L440.1 333.1ZM437.3 332.4L435.0 341.6L431.5 340.7L434.1 331.6ZM434.3 331.6L431.7 340.8L428.3 339.8L431.2 330.7ZM431.3 330.7L428.5 339.8L425.1 338.7L428.2 329.7ZM428.4 329.8L425.3 338.8L422.0 337.6L425.3 328.7ZM401.0 315.9L395.6 323.8L392.7 321.7L398.3 314.0ZM398.5 314.2L392.9 321.8L390.0 319.7L395.9 312.2ZM393.6 310.4L387.6 317.7L384.9 315.4L391.1 308.2ZM389.0 306.3L382.5 313.3L380.0 310.8L386.6 304.1ZM384.6 302.0L377.8 308.6L375.3 306.0L382.4 299.6ZM380.4 297.5L373.2 303.7L371.0 301.0L378.3 295.0ZM376.5 292.7L369.0 298.5L366.9 295.7L374.6 290.1ZM365.1 274.4L356.6 278.7L355.1 275.5L363.7 271.5ZM363.8 271.7L355.1 275.7L353.7 272.4L362.4 268.7ZM362.5 268.9L353.8 272.6L352.4 269.3L361.3 265.8ZM361.3 266.0L352.5 269.5L351.2 266.2L360.2 262.9ZM360.2 263.1L351.3 266.4L350.1 263.0L359.2 260.0ZM359.2 260.2L350.2 263.2L349.1 259.9L358.2 257.1ZM358.3 257.3L349.2 260.1L348.2 256.6L357.4 254.1ZM356.7 251.3L347.4 253.6L346.6 250.1L355.9 248.2ZM353.5 227.0L344.0 227.1L344.0 223.5L353.5 223.7ZM364.9 176.3L356.4 172.1L358.0 169.0L366.4 173.4ZM367.8 170.9L359.5 166.2L361.3 163.1L369.5 168.1ZM378.2 155.6L370.8 149.6L373.1 146.9L380.3 153.1ZM514.7 127.1L519.1 118.6L522.2 120.3L517.6 128.6ZM517.4 128.5L522.0 120.2L525.1 121.9L520.3 130.1ZM520.1 130.0L524.9 121.8L528.0 123.7L522.9 131.7ZM530.3 136.9L536.1 129.3L538.9 131.4L532.9 138.9ZM535.2 140.7L541.3 133.4L544.0 135.7L537.6 142.8ZM583.8 228.9L593.3 229.1L593.2 233.0L583.7 232.4ZM569.0 283.2L577.3 287.8L575.4 291.1L567.2 286.2ZM565.6 288.9L573.6 294.0L571.5 297.2L563.6 291.9ZM563.7 291.7L571.7 297.0L569.5 300.2L561.7 294.6ZM561.8 294.5L569.6 300.0L567.4 303.1L559.8 297.3ZM557.8 299.8L565.3 305.7L562.9 308.7L555.6 302.6ZM553.5 304.9L560.6 311.3L558.0 314.1L551.1 307.6ZM551.3 307.4L558.2 313.9L555.5 316.7L548.8 310.0ZM507.3 337.0L510.7 345.9L507.1 347.2L503.9 338.2ZM504.1 338.2L507.3 347.1L503.7 348.4L500.8 339.3ZM468.1 345.0L468.5 354.5L464.6 354.6L464.6 345.1ZM451.4 344.4L450.4 353.9L446.6 353.4L447.9 344.0ZM448.1 344.0L446.9 353.5L443.1 352.9L444.6 343.5ZM444.8 343.5L443.3 352.9L439.5 352.3L441.3 342.9ZM428.6 339.7L425.7 348.8L422.1 347.6L425.2 338.6ZM425.4 338.7L422.3 347.7L418.7 346.4L422.0 337.5ZM419.1 336.4L415.5 345.2L412.0 343.7L415.8 335.0ZM416.0 335.1L412.2 343.8L408.7 342.2L412.8 333.6ZM413.0 333.7L408.9 342.3L405.5 340.6L409.8 332.1ZM410.0 332.2L405.7 340.7L402.3 339.0L406.8 330.6ZM407.0 330.7L402.5 339.1L399.1 337.2L403.9 328.9ZM401.2 327.3L396.2 335.5L393.0 333.4L398.2 325.4ZM398.4 325.6L393.2 333.5L390.0 331.4L395.5 323.6ZM395.6 323.7L390.2 331.5L387.1 329.3L392.7 321.6ZM390.2 319.7L384.4 327.2L381.4 324.8L387.5 317.5ZM387.6 317.6L381.6 325.0L378.7 322.5L384.9 315.3ZM382.6 313.2L376.1 320.2L373.4 317.6L380.0 310.8ZM377.8 308.6L371.0 315.2L368.4 312.4L375.4 306.0ZM375.5 306.1L368.5 312.5L366.0 309.7L373.2 303.5ZM373.3 303.6L366.1 309.8L363.6 306.9L371.0 300.9ZM371.2 301.1L363.8 307.1L361.4 304.1L369.0 298.3ZM369.1 298.4L361.5 304.3L359.2 301.2L367.0 295.6ZM358.2 281.6L349.8 286.1L348.1 282.7L356.6 278.5ZM356.7 278.6L348.2 282.9L346.5 279.4L355.1 275.4ZM355.2 275.6L346.6 279.6L345.0 276.1L353.8 272.4ZM353.9 272.6L345.1 276.3L343.7 272.8L352.5 269.3ZM351.4 266.4L342.5 269.6L341.2 266.0L350.2 263.0ZM349.3 260.0L340.2 262.8L339.1 259.1L348.3 256.6ZM348.4 256.8L339.2 259.3L338.2 255.6L347.5 253.4ZM347.5 253.6L338.3 255.8L337.4 252.1L346.7 250.1ZM522.0 120.3L526.6 111.9L529.9 113.8L525.1 122.0ZM527.7 123.7L532.8 115.6L536.0 117.7L530.7 125.6ZM530.5 125.5L535.8 117.5L539.0 119.7L533.5 127.5ZM533.3 127.4L538.8 119.6L541.9 121.9L536.2 129.5ZM548.6 140.3L555.3 133.5L558.0 136.3L551.1 142.8ZM577.0 185.1L586.0 181.9L587.2 185.5L578.1 188.5ZM578.1 188.3L587.1 185.3L588.2 189.0L579.1 191.7ZM579.0 191.5L588.2 188.8L589.2 192.5L580.0 194.9ZM593.3 225.5L602.8 225.6L602.8 229.7L593.2 229.4ZM593.2 229.1L602.8 229.4L602.6 233.5L593.1 233.0ZM593.1 232.7L602.6 233.3L602.3 237.4L592.8 236.6ZM591.4 247.1L600.8 248.7L600.1 252.7L590.7 250.8ZM590.0 254.1L599.3 256.3L598.3 260.3L589.1 257.9ZM584.8 271.4L593.7 274.8L592.2 278.6L583.4 274.9ZM583.5 274.7L592.2 278.4L590.6 282.1L581.9 278.2ZM571.6 296.9L579.5 302.2L577.2 305.6L569.4 300.1ZM567.4 302.8L575.0 308.6L572.5 311.8L565.1 305.9ZM517.3 343.0L521.2 351.7L517.5 353.3L513.8 344.5ZM371.1 315.1L364.2 321.7L361.4 318.7L368.4 312.3ZM368.6 312.5L361.6 318.9L358.8 315.8L366.0 309.6ZM366.2 309.8L359.0 316.0L356.3 312.9L363.7 306.8ZM353.5 292.3L345.3 297.3L343.2 293.7L351.5 289.0ZM351.6 289.2L343.4 293.9L341.4 290.3L349.8 285.8ZM349.9 286.0L341.5 290.5L339.6 286.9L348.1 282.6ZM340.3 262.8L331.2 265.5L330.0 261.6L339.2 259.1ZM339.3 259.3L330.1 261.8L329.1 257.8L338.3 255.6ZM338.4 255.8L329.1 258.1L328.2 254.0L337.5 252.1ZM375.8 130.6L369.4 123.6L372.4 120.9L378.7 128.0ZM389.8 119.3L384.4 111.5L387.8 109.2L393.0 117.1ZM392.8 117.2L387.6 109.3L391.1 107.1L396.1 115.2ZM395.9 115.3L390.9 107.2L394.4 105.1L399.2 113.3ZM421.9 102.9L418.8 93.9L422.7 92.7L425.5 101.8ZM523.3 110.3L527.7 101.9L531.3 103.8L526.7 112.1ZM529.7 113.8L534.5 105.6L538.0 107.7L532.9 115.8ZM550.0 128.7L556.4 121.5L559.4 124.3L552.8 131.2ZM552.7 131.1L559.2 124.2L562.2 127.0L555.4 133.8ZM555.3 133.6L562.0 126.9L564.9 129.8L557.9 136.3ZM594.9 271.1L603.9 274.3L602.4 278.4L593.5 275.0ZM581.5 298.9L589.6 304.0L587.2 307.7L579.3 302.4ZM538.2 342.4L543.3 350.5L539.5 352.8L534.7 344.6ZM528.1 348.2L532.5 356.7L528.6 358.6L524.5 350.1ZM524.7 350.0L528.9 358.5L524.9 360.4L521.0 351.7ZM521.2 351.6L525.1 360.3L521.1 362.0L517.4 353.2ZM351.8 306.9L344.2 312.5L341.6 308.9L349.5 303.5ZM349.6 303.7L341.8 309.1L339.3 305.4L347.3 300.3ZM347.5 300.5L339.5 305.6L337.1 301.9L345.3 297.0ZM325.4 231.3L315.9 231.7L315.8 227.3L325.3 227.2ZM325.3 227.4L315.8 227.6L315.8 223.2L325.3 223.3ZM325.3 223.5L315.8 223.4L315.9 219.0L325.4 219.4ZM390.9 107.3L385.9 99.2L389.7 96.9L394.4 105.2ZM394.2 105.3L389.4 97.1L393.3 94.9L397.8 103.3ZM397.6 103.4L393.0 95.0L396.9 93.0L401.2 101.5ZM401.0 101.6L396.7 93.1L400.6 91.2L404.7 99.8ZM404.5 99.9L400.4 91.3L404.4 89.5L408.2 98.2ZM408.0 98.3L404.2 89.6L408.2 87.9L411.8 96.7ZM411.6 96.8L408.0 87.9L412.1 86.3L415.4 95.3ZM433.7 89.8L431.6 80.5L435.9 79.6L437.7 89.0ZM448.9 87.3L447.9 77.8L452.3 77.4L453.0 86.9ZM506.3 93.1L509.2 84.0L513.3 85.4L510.2 94.4ZM517.1 97.1L520.8 88.3L524.8 90.0L520.9 98.7ZM520.7 98.6L524.6 89.9L528.6 91.8L524.4 100.3ZM524.2 100.2L528.3 91.6L532.3 93.6L527.9 102.1ZM537.7 107.7L542.8 99.6L546.5 102.0L541.2 109.9ZM541.0 109.8L546.3 101.9L549.9 104.4L544.4 112.1ZM544.2 112.0L549.7 104.2L553.2 106.8L547.5 114.4ZM556.3 121.6L562.6 114.5L565.9 117.5L559.3 124.4ZM559.1 124.2L565.7 117.3L568.8 120.4L562.1 127.1ZM561.9 126.9L568.6 120.2L571.7 123.3L564.8 129.9ZM579.1 147.8L587.0 142.5L589.4 146.1L581.4 151.2ZM581.2 151.0L589.3 145.9L591.6 149.7L583.4 154.5ZM553.4 343.3L559.2 350.9L555.4 353.7L549.9 345.9ZM550.1 345.8L555.6 353.5L551.8 356.2L546.5 348.3ZM532.5 356.6L536.9 365.0L532.7 367.1L528.6 358.5ZM528.8 358.4L533.0 367.0L528.7 369.0L524.8 360.3ZM525.1 360.2L529.0 368.9L524.7 370.7L521.0 361.9ZM509.7 366.1L512.6 375.2L508.1 376.6L505.5 367.4ZM505.7 367.4L508.4 376.5L503.9 377.7L501.5 368.5ZM501.7 368.5L504.2 377.7L499.6 378.8L497.5 369.5ZM424.2 367.9L421.6 377.1L417.1 375.7L420.0 366.7ZM420.2 366.7L417.4 375.8L412.9 374.4L416.0 365.4ZM416.3 365.5L413.2 374.5L408.8 372.9L412.1 364.0ZM408.5 362.6L405.0 371.4L400.7 369.6L404.5 360.9ZM404.7 361.0L400.9 369.7L396.7 367.8L400.7 359.2ZM401.0 359.3L396.9 367.9L392.7 365.8L397.0 357.3ZM397.2 357.5L393.0 366.0L388.8 363.8L393.4 355.4ZM379.5 346.9L374.1 354.7L370.3 352.0L375.9 344.3ZM411.8 86.5L408.5 77.6L412.9 76.0L416.0 85.0ZM419.7 83.8L416.8 74.8L421.3 73.4L423.9 82.6ZM423.6 82.7L421.0 73.5L425.5 72.3L427.9 81.5ZM431.6 80.6L429.5 71.3L434.1 70.4L435.9 79.7ZM460.3 77.1L460.0 67.6L464.7 67.5L464.7 77.1ZM464.4 77.1L464.4 67.5L469.1 67.6L468.8 77.1ZM468.5 77.1L468.8 67.6L473.5 67.8L472.9 77.3ZM480.9 78.0L482.0 68.6L486.6 69.2L485.3 78.6ZM520.8 88.4L524.4 79.6L528.7 81.4L524.8 90.1ZM528.3 91.7L532.4 83.2L536.6 85.2L532.2 93.7ZM532.0 93.6L536.4 85.1L540.5 87.3L535.9 95.6ZM539.2 97.6L544.1 89.4L548.0 91.8L543.0 99.9ZM562.6 114.6L568.9 107.5L572.3 110.6L565.8 117.6ZM568.6 120.2L575.3 113.5L578.5 116.9L571.6 123.4ZM571.4 123.2L578.4 116.7L581.5 120.1L574.4 126.4ZM574.3 126.2L581.3 119.9L584.4 123.4L577.1 129.5ZM577.0 129.4L584.2 123.2L587.2 126.8L579.8 132.7ZM579.6 132.5L587.0 126.6L589.9 130.3L582.3 136.0ZM582.1 135.8L589.7 130.1L592.5 133.8L584.7 139.3ZM584.6 139.1L592.3 133.6L595.0 137.4L587.1 142.7ZM603.6 175.6L612.6 172.5L614.1 176.9L605.0 179.8ZM609.6 285.5L618.4 289.2L616.4 293.7L607.7 289.8ZM559.1 350.8L564.9 358.4L560.9 361.4L555.3 353.6ZM555.6 353.4L561.1 361.2L557.0 364.0L551.7 356.1ZM536.9 364.9L541.3 373.4L536.8 375.6L532.7 367.0ZM532.9 366.9L537.1 375.5L532.6 377.6L528.7 368.9ZM486.9 381.1L488.3 390.5L483.4 391.2L482.3 381.7ZM447.5 381.9L446.5 391.4L441.6 390.8L442.9 381.3ZM443.1 381.4L441.9 390.8L437.0 390.1L438.5 380.7ZM425.9 378.1L423.6 387.3L418.8 386.1L421.4 376.9ZM306.6 218.9L297.0 218.5L297.3 213.6L306.8 214.3ZM307.2 210.1L297.7 209.2L298.2 204.3L307.7 205.5ZM324.7 151.6L316.3 147.1L318.6 142.8L326.9 147.5ZM329.0 143.9L320.8 139.0L323.5 134.8L331.5 140.0ZM331.3 140.2L323.3 135.1L326.0 130.9L333.9 136.3ZM333.7 136.5L325.9 131.2L328.7 127.1L336.4 132.7ZM341.6 126.0L334.2 120.0L337.4 116.2L344.6 122.4ZM373.6 96.1L368.2 88.3L372.3 85.5L377.5 93.5ZM416.8 74.9L414.0 65.8L418.7 64.4L421.3 73.5ZM460.0 67.7L459.8 58.2L464.8 58.1L464.7 67.6ZM464.4 67.6L464.5 58.1L469.4 58.2L469.1 67.7ZM477.6 68.2L478.4 58.7L483.3 59.2L482.2 68.7ZM482.0 68.7L483.1 59.2L488.0 59.8L486.6 69.3ZM490.7 69.9L492.3 60.5L497.1 61.4L495.3 70.8ZM540.2 87.3L544.8 78.9L549.1 81.4L544.2 89.6ZM584.2 123.3L591.4 117.1L594.6 120.9L587.1 126.9ZM586.9 126.6L594.4 120.7L597.4 124.6L589.8 130.3ZM589.6 130.1L597.2 124.4L600.2 128.4L592.4 133.9ZM592.2 133.7L600.0 128.1L602.8 132.2L594.9 137.5ZM607.6 160.3L616.2 156.3L618.2 160.9L609.4 164.5ZM616.4 293.4L625.1 297.3L622.9 302.1L614.3 297.9ZM605.5 313.9L613.5 319.0L610.7 323.4L602.8 318.1ZM602.9 317.9L610.8 323.1L607.9 327.4L600.1 321.9ZM600.3 321.7L608.1 327.2L605.0 331.4L597.4 325.7ZM585.6 339.7L592.5 346.2L588.8 350.0L582.1 343.2ZM575.6 349.5L581.9 356.5L578.0 360.0L571.8 352.7ZM564.8 358.3L570.5 365.9L566.3 369.0L560.8 361.3ZM561.0 361.1L566.6 368.8L562.3 371.8L557.0 363.9ZM557.2 363.8L562.5 371.7L558.1 374.5L553.1 366.5ZM528.6 379.2L532.3 388.0L527.4 389.9L524.0 381.0ZM488.3 390.4L489.7 399.8L484.5 400.5L483.4 391.1ZM483.7 391.0L484.8 400.5L479.6 401.0L478.8 391.5ZM479.1 391.5L479.9 401.0L474.7 401.4L474.1 391.9ZM455.8 392.0L455.3 401.5L450.1 401.2L450.9 391.7ZM451.1 391.7L450.4 401.2L445.2 400.7L446.2 391.2ZM446.5 391.3L445.5 400.7L440.3 400.1L441.6 390.7ZM441.9 390.7L440.6 400.2L435.5 399.4L437.0 390.0ZM437.3 390.0L435.8 399.4L430.6 398.5L432.4 389.2ZM357.6 353.9L351.6 361.3L347.6 357.9L353.9 350.7ZM354.1 350.9L347.8 358.1L343.9 354.6L350.4 347.6ZM350.6 347.8L344.2 354.8L340.4 351.2L347.0 344.4ZM347.3 344.6L340.6 351.4L336.9 347.7L343.8 341.1ZM344.0 341.3L337.1 347.9L333.5 344.1L340.6 337.7ZM340.8 337.9L333.8 344.3L330.3 340.4L337.5 334.2ZM334.7 330.9L327.3 336.9L324.1 332.8L331.6 327.0ZM314.5 299.6L306.0 303.9L303.7 299.2L312.4 295.2ZM308.8 286.9L300.0 290.4L298.1 285.5L307.1 282.3ZM307.2 282.5L298.2 285.8L296.5 280.9L305.5 277.9ZM305.6 278.1L296.6 281.2L295.0 276.2L304.1 273.4ZM298.9 200.0L289.5 198.6L290.4 193.4L299.7 195.1ZM299.7 195.4L290.3 193.7L291.3 188.6L300.6 190.6ZM305.4 172.9L296.4 169.9L298.1 164.9L307.0 168.2ZM312.2 155.5L303.6 151.6L305.8 146.9L314.4 151.1ZM323.4 135.1L315.4 130.0L318.3 125.6L326.1 131.0ZM326.0 131.2L318.1 125.9L321.1 121.6L328.8 127.2ZM328.6 127.4L320.9 121.9L324.0 117.7L331.6 123.5ZM331.4 123.7L323.8 117.9L327.1 113.8L334.5 119.8ZM334.3 120.0L326.9 114.0L330.2 110.0L337.5 116.2ZM372.1 85.8L366.9 77.8L371.3 75.0L376.3 83.1ZM376.0 83.3L371.0 75.2L375.5 72.5L380.3 80.7ZM380.0 80.9L375.2 72.6L379.8 70.1L384.3 78.4ZM392.4 74.4L388.3 65.8L393.0 63.6L396.9 72.3ZM396.6 72.4L392.8 63.7L397.6 61.7L401.2 70.5ZM400.9 70.6L397.3 61.8L402.2 59.9L405.5 68.8ZM405.2 68.9L401.9 60.0L406.8 58.2L409.9 67.2ZM409.6 67.3L406.5 58.3L411.5 56.7L414.3 65.8ZM414.0 65.9L411.2 56.8L416.2 55.3L418.8 64.5ZM445.9 59.2L444.8 49.7L450.0 49.2L450.8 58.7ZM469.1 58.3L469.4 48.8L474.6 49.0L474.1 58.5ZM473.8 58.5L474.3 49.0L479.5 49.4L478.7 58.9ZM478.4 58.8L479.2 49.3L484.4 49.9L483.3 59.3ZM483.0 59.3L484.1 49.8L489.3 50.5L488.0 59.9ZM505.9 63.6L508.3 54.3L513.4 55.7L510.7 64.9ZM585.1 110.2L592.0 103.7L595.6 107.5L588.5 113.9ZM591.3 117.2L598.6 111.0L601.9 115.0L594.5 121.0ZM597.2 124.4L604.7 118.7L607.8 122.9L600.1 128.4ZM602.6 132.0L610.5 126.7L613.3 131.1L605.3 136.2ZM605.1 135.9L613.2 130.8L615.9 135.3L607.7 140.1ZM607.5 139.9L615.7 135.0L618.3 139.5L610.0 144.2ZM616.2 156.4L624.8 152.5L626.9 157.3L618.1 160.9ZM619.8 165.0L628.6 161.5L630.4 166.4L621.5 169.6ZM616.0 314.8L624.2 319.6L621.3 324.3L613.3 319.2ZM613.4 319.0L621.5 324.0L618.5 328.6L610.6 323.3ZM330.6 340.6L323.4 346.8L319.8 342.6L327.2 336.6ZM327.4 336.8L320.0 342.8L316.6 338.5L324.1 332.7ZM288.5 242.7L279.0 243.7L278.5 238.2L288.0 237.5ZM287.6 223.1L278.1 223.0L278.2 217.5L287.7 217.9ZM295.0 174.6L285.9 171.9L287.5 166.6L296.6 169.6ZM298.1 165.3L289.1 162.0L291.1 156.9L299.9 160.4ZM305.8 147.2L297.2 143.0L299.8 138.1L308.2 142.5ZM310.4 138.5L302.1 133.8L304.9 129.0L313.0 134.0ZM312.9 134.2L304.7 129.3L307.6 124.6L315.6 129.8ZM315.5 130.0L307.4 124.9L310.5 120.3L318.3 125.7ZM375.3 72.7L370.5 64.5L375.3 61.8L379.8 70.2ZM383.9 68.0L379.6 59.5L384.5 57.1L388.6 65.7ZM401.9 60.1L398.5 51.2L403.7 49.3L406.8 58.3ZM406.5 58.4L403.4 49.4L408.7 47.7L411.5 56.8ZM411.2 56.9L408.4 47.8L413.6 46.2L416.2 55.4ZM449.7 49.4L449.0 39.9L454.5 39.5L455.0 49.0ZM454.7 49.0L454.2 39.5L459.7 39.3L459.9 48.8ZM517.7 57.2L520.6 48.1L525.9 49.9L522.7 58.8ZM527.0 60.4L530.4 51.5L535.5 53.6L531.9 62.4ZM557.8 75.8L562.8 67.7L567.5 70.7L562.2 78.6ZM573.8 87.1L579.8 79.7L584.0 83.2L577.9 90.5ZM601.6 114.9L609.1 108.9L612.5 113.3L604.9 119.0ZM604.7 118.7L612.3 113.0L615.5 117.4L607.8 123.0ZM607.6 122.7L615.3 117.2L618.5 121.7L610.6 127.0ZM618.1 139.3L626.4 134.7L629.0 139.5L620.6 143.9ZM620.4 143.7L628.9 139.3L631.3 144.2L622.8 148.3ZM485.9 409.7L487.0 419.2L481.3 419.8L480.4 410.3ZM480.8 410.3L481.6 419.8L475.8 420.2L475.3 410.7ZM470.4 410.9L470.7 420.4L465.0 420.5L464.9 411.0ZM281.3 259.1L271.9 260.8L270.9 255.1L280.4 253.6ZM279.1 243.7L269.6 244.6L269.1 238.8L278.6 238.2ZM278.3 217.8L268.8 217.4L269.1 211.6L278.6 212.3ZM278.6 212.6L269.1 212.0L269.6 206.2L279.1 207.1ZM279.0 207.4L269.5 206.5L270.2 200.8L279.6 202.0ZM281.1 192.1L271.8 190.4L272.9 184.7L282.2 186.7ZM293.0 152.4L284.3 148.7L286.6 143.4L295.2 147.4ZM295.1 147.7L286.5 143.7L288.9 138.5L297.5 142.7ZM316.4 112.2L308.9 106.5L312.5 101.9L319.9 107.9ZM319.7 108.2L312.3 102.2L316.0 97.7L323.2 103.9ZM323.0 104.2L315.7 98.0L319.6 93.7L326.6 100.1ZM329.9 96.5L323.1 89.9L327.1 85.8L333.8 92.6ZM357.4 73.0L352.0 65.2L356.8 61.9L362.0 69.9ZM361.7 70.0L356.5 62.1L361.4 59.0L366.4 67.1ZM389.0 55.2L385.1 46.5L390.5 44.2L394.1 53.0ZM393.8 53.2L390.2 44.3L395.6 42.2L398.9 51.2ZM428.5 42.8L426.6 33.5L432.3 32.4L433.9 41.8ZM459.3 39.4L459.1 29.9L464.9 29.9L464.8 39.4ZM464.5 39.4L464.5 29.9L470.3 30.0L470.0 39.5ZM469.7 39.5L470.0 29.9L475.8 30.2L475.2 39.7ZM490.3 41.2L491.7 31.8L497.4 32.7L495.8 42.1ZM505.6 44.1L507.7 34.8L513.4 36.2L511.0 45.4ZM510.6 45.3L513.0 36.1L518.6 37.6L516.0 46.8ZM515.6 46.7L518.3 37.5L523.8 39.2L520.9 48.3ZM575.6 76.6L581.3 69.0L585.9 72.5L579.9 80.0ZM579.7 79.8L585.6 72.3L590.1 76.0L583.9 83.3ZM583.7 83.1L589.8 75.8L594.2 79.6L587.9 86.7ZM615.2 117.2L623.0 111.7L626.3 116.5L618.4 121.8ZM618.2 121.5L626.1 116.2L629.3 121.0L621.2 126.1ZM621.0 125.8L629.1 120.7L632.1 125.7L623.9 130.5ZM623.7 130.3L631.9 125.4L634.8 130.4L626.5 135.0ZM633.3 148.6L642.0 144.7L644.3 150.0L635.5 153.7ZM635.4 153.4L644.2 149.7L646.3 155.1L637.4 158.5ZM637.3 158.2L646.2 154.7L648.2 160.2L639.2 163.3Z" fill="#d5abf8" stroke="#d5abf8" stroke-width="0.3" stroke-linejoin="round"/>
<path d="M565.0 225.5L574.6 225.5L574.5 228.8L565.0 228.5ZM565.0 228.3L574.5 228.6L574.4 231.8L564.9 231.3ZM564.9 231.1L574.4 231.7L574.1 234.9L564.7 234.1ZM560.3 256.0L569.3 258.9L568.3 262.0L559.3 258.8ZM556.2 266.5L564.9 270.4L563.5 273.3L555.0 269.2ZM555.0 269.0L563.6 273.2L562.2 276.1L553.7 271.7ZM553.8 271.6L562.2 275.9L560.7 278.8L552.4 274.2ZM549.6 278.9L557.7 284.0L555.9 286.7L548.0 281.4ZM548.1 281.3L556.0 286.6L554.1 289.2L546.4 283.7ZM546.5 283.6L554.2 289.1L552.3 291.7L544.7 286.0ZM537.6 294.5L544.5 301.0L542.2 303.4L535.5 296.6ZM535.6 296.5L542.3 303.2L540.0 305.5L533.5 298.6ZM533.6 298.5L540.1 305.4L537.7 307.6L531.4 300.5ZM529.4 302.2L535.5 309.5L533.0 311.6L527.1 304.1ZM522.7 307.4L528.3 315.2L525.6 317.0L520.3 309.1ZM520.4 309.0L525.7 316.9L523.0 318.7L517.9 310.7ZM508.2 316.1L512.4 324.6L509.4 326.0L505.5 317.3ZM495.1 321.3L498.1 330.4L495.0 331.3L492.3 322.2ZM487.0 323.6L489.2 332.9L486.0 333.6L484.1 324.2ZM365.8 249.1L356.6 251.4L355.8 248.2L365.2 246.2ZM365.2 246.4L355.9 248.4L355.2 245.2L364.6 243.4ZM364.6 243.6L355.3 245.3L354.7 242.1L364.1 240.7ZM364.2 240.8L354.8 242.3L354.3 239.1L363.7 237.9ZM363.5 235.2L354.0 236.2L353.7 232.9L363.2 232.3ZM363.0 224.0L353.4 223.9L353.5 220.6L363.0 221.0ZM363.0 221.2L353.5 220.8L353.7 217.5L363.2 218.2ZM363.2 218.4L353.7 217.7L354.0 214.4L363.4 215.4ZM363.4 215.5L353.9 214.6L354.3 211.4L363.7 212.6ZM363.7 212.7L354.3 211.6L354.7 208.3L364.1 209.8ZM364.1 210.0L354.7 208.5L355.2 205.3L364.6 207.0ZM373.4 180.5L364.8 176.3L366.3 173.4L374.7 177.8ZM374.7 178.0L366.2 173.5L367.8 170.7L376.1 175.4ZM376.0 175.5L367.7 170.8L369.4 168.0L377.5 172.9ZM383.8 163.8L376.2 158.0L378.2 155.4L385.6 161.4ZM385.5 161.6L378.1 155.6L380.2 153.1L387.4 159.3ZM415.6 136.5L411.1 128.1L414.0 126.6L418.3 135.1ZM436.5 128.0L433.9 118.8L437.0 118.0L439.3 127.2ZM439.2 127.2L436.8 118.0L440.0 117.3L442.1 126.6ZM441.9 126.6L439.8 117.3L443.0 116.6L444.8 126.0ZM444.7 126.0L442.9 116.7L446.1 116.1L447.6 125.5ZM447.4 125.5L445.9 116.1L449.1 115.6L450.4 125.1ZM450.2 125.1L448.9 115.7L452.2 115.3L453.2 124.7ZM453.0 124.7L452.0 115.3L455.3 115.0L456.0 124.5ZM455.8 124.5L455.1 115.0L458.3 114.8L458.8 124.3ZM458.6 124.3L458.1 114.8L461.4 114.7L461.6 124.2ZM461.5 124.2L461.2 114.7L464.5 114.6L464.5 124.2ZM464.3 124.2L464.3 114.6L467.6 114.7L467.3 124.2ZM467.1 124.2L467.4 114.7L470.7 114.8L470.1 124.3ZM469.9 124.3L470.5 114.8L473.7 115.1L472.9 124.5ZM486.6 126.7L488.8 117.4L491.9 118.2L489.5 127.4ZM489.4 127.4L491.8 118.2L494.9 119.0L492.3 128.2ZM492.1 128.1L494.7 119.0L497.9 119.9L494.9 129.0ZM517.7 139.6L522.8 131.5L525.5 133.3L520.2 141.2ZM520.1 141.1L525.4 133.2L528.1 135.1L522.5 142.8ZM522.4 142.7L527.9 135.0L530.6 136.9L524.8 144.5ZM564.8 270.3L573.5 274.2L572.0 277.4L563.4 273.3ZM563.5 273.1L572.1 277.3L570.5 280.4L562.1 276.1ZM562.2 275.9L570.6 280.3L568.9 283.4L560.6 278.8ZM555.9 286.5L563.8 291.8L561.8 294.7L554.0 289.2ZM554.2 289.0L561.9 294.5L559.8 297.4L552.2 291.7ZM552.3 291.5L560.0 297.2L557.8 300.1L550.3 294.1ZM546.5 298.7L553.6 305.0L551.2 307.6L544.3 301.1ZM544.4 300.9L551.3 307.5L548.9 310.0L542.1 303.3ZM542.3 303.2L549.0 309.9L546.5 312.4L539.9 305.4ZM540.1 305.3L546.6 312.2L544.0 314.6L537.7 307.5ZM515.1 323.2L519.5 331.6L516.3 333.2L512.2 324.6ZM512.3 324.5L516.5 333.1L513.3 334.6L509.4 325.9ZM509.5 325.8L513.5 334.5L510.2 335.9L506.5 327.2ZM492.1 332.0L494.6 341.2L491.1 342.1L489.0 332.8ZM440.3 333.1L438.2 342.4L434.8 341.6L437.1 332.3ZM396.0 312.3L390.2 319.8L387.4 317.6L393.5 310.2ZM391.3 308.4L385.0 315.5L382.4 313.2L388.9 306.2ZM386.8 304.2L380.1 311.0L377.6 308.5L384.5 301.9ZM378.5 295.1L371.1 301.1L368.9 298.3L376.4 292.5ZM356.0 248.3L346.7 250.3L346.0 246.9L355.3 245.1ZM355.4 245.3L346.0 247.1L345.4 243.6L354.8 242.1ZM354.9 242.3L345.5 243.8L345.0 240.2L354.4 239.0ZM353.6 230.0L344.1 230.4L344.0 226.9L353.5 226.8ZM353.5 223.9L344.0 223.8L344.1 220.2L353.6 220.6ZM354.4 211.6L344.9 210.4L345.4 206.9L354.8 208.3ZM357.3 196.5L348.1 194.0L349.1 190.6L358.2 193.3ZM366.3 173.6L357.9 169.1L359.6 166.0L367.9 170.7ZM369.4 168.2L361.2 163.3L363.1 160.3L371.1 165.5ZM371.0 165.6L363.0 160.5L364.9 157.5L372.8 162.9ZM372.7 163.0L364.8 157.7L366.8 154.8L374.6 160.4ZM393.3 140.3L387.2 133.0L390.0 130.8L395.9 138.3ZM395.7 138.4L389.8 130.9L392.6 128.7L398.3 136.4ZM398.2 136.5L392.5 128.9L395.4 126.8L400.8 134.6ZM522.7 131.6L527.8 123.6L530.8 125.5L525.5 133.4ZM525.3 133.3L530.6 125.4L533.5 127.4L528.0 135.2ZM527.8 135.1L533.4 127.3L536.2 129.4L530.5 137.0ZM532.8 138.7L538.7 131.3L541.4 133.6L535.3 140.8ZM564.7 179.7L573.3 175.8L574.7 179.0L566.0 182.7ZM565.9 182.5L574.7 178.8L576.0 182.1L567.1 185.5ZM567.0 185.4L575.9 181.9L577.1 185.3L568.2 188.4ZM583.9 225.5L593.4 225.5L593.3 229.4L583.8 229.1ZM583.7 232.2L593.2 232.8L592.9 236.6L583.4 235.7ZM573.4 274.2L582.1 278.1L580.5 281.5L571.9 277.4ZM572.0 277.2L580.6 281.3L578.9 284.8L570.4 280.4ZM570.5 280.2L579.0 284.6L577.2 288.0L568.8 283.3ZM559.9 297.2L567.5 302.9L565.1 305.9L557.7 300.0ZM548.9 309.8L555.7 316.5L552.9 319.2L546.4 312.3ZM546.6 312.1L553.1 319.0L550.3 321.6L543.9 314.5ZM541.6 316.6L547.7 323.9L544.8 326.3L538.8 318.9ZM510.4 335.8L514.0 344.5L510.5 346.0L507.1 337.1ZM471.5 344.9L472.1 354.4L468.2 354.5L467.9 345.0ZM464.8 345.1L464.9 354.6L461.0 354.6L461.2 345.1ZM438.3 342.3L436.2 351.6L432.5 350.7L434.8 341.5ZM435.0 341.5L432.7 350.8L429.0 349.8L431.6 340.6ZM422.2 337.6L418.9 346.5L415.3 345.1L418.9 336.3ZM380.2 310.9L373.5 317.7L370.8 315.0L377.7 308.4ZM367.1 295.8L359.4 301.4L357.2 298.2L365.0 292.9ZM365.1 293.0L357.3 298.4L355.2 295.2L363.2 290.1ZM363.3 290.3L355.3 295.4L353.3 292.2L361.4 287.2ZM361.5 287.4L353.4 292.4L351.4 289.1L359.7 284.4ZM352.6 269.5L343.7 273.0L342.4 269.4L351.3 266.2ZM350.3 263.2L341.3 266.2L340.1 262.6L349.2 259.8ZM344.2 230.4L334.7 230.9L334.6 227.0L344.1 226.9ZM344.1 227.1L334.6 227.3L334.6 223.4L344.1 223.6ZM344.1 223.8L334.6 223.6L334.7 219.8L344.2 220.2ZM348.2 194.0L339.0 191.6L340.1 187.9L349.2 190.6ZM451.0 106.0L450.0 96.6L453.8 96.2L454.5 105.7ZM509.9 114.5L513.6 105.7L517.1 107.2L513.2 115.9ZM513.0 115.8L516.9 107.1L520.4 108.7L516.2 117.3ZM516.0 117.2L520.2 108.6L523.6 110.3L519.2 118.8ZM519.0 118.7L523.4 110.2L526.8 112.0L522.2 120.4ZM524.9 121.9L529.7 113.7L533.0 115.7L527.9 123.8ZM543.8 135.7L550.1 128.6L552.9 131.2L546.4 138.1ZM546.2 137.9L552.7 131.0L555.5 133.7L548.8 140.4ZM573.2 175.8L581.9 171.9L583.4 175.4L574.7 179.1ZM574.6 178.9L583.4 175.2L584.8 178.7L575.9 182.2ZM575.8 182.0L584.7 178.5L586.0 182.1L577.1 185.3ZM589.2 257.6L598.4 260.0L597.3 264.0L588.2 261.3ZM588.2 261.1L597.4 263.8L596.2 267.7L587.1 264.8ZM587.2 264.6L596.2 267.5L594.9 271.4L586.0 268.2ZM586.0 268.0L595.0 271.1L593.6 275.0L584.7 271.6ZM569.5 299.9L577.3 305.4L574.9 308.7L567.3 303.0ZM514.0 344.5L517.7 353.2L513.9 354.8L510.4 345.9ZM510.7 345.8L514.1 354.7L510.2 356.1L507.1 347.1ZM507.3 347.1L510.5 356.0L506.6 357.3L503.6 348.3ZM503.9 348.2L506.8 357.3L502.9 358.5L500.2 349.3ZM500.4 349.3L503.1 358.4L499.1 359.5L496.7 350.3ZM496.9 350.2L499.4 359.4L495.4 360.4L493.2 351.2ZM472.1 354.3L472.7 363.8L468.5 364.0L468.2 354.4ZM468.5 354.4L468.8 363.9L464.7 364.0L464.6 354.5ZM464.9 354.5L464.9 364.0L460.8 364.0L461.0 354.5ZM418.9 346.4L415.6 355.3L411.8 353.8L415.4 345.0ZM415.6 345.1L412.0 353.9L408.2 352.3L412.1 343.6ZM412.3 343.7L408.5 352.4L404.7 350.7L408.8 342.1ZM402.5 339.0L398.0 347.3L394.4 345.3L399.2 337.1ZM390.3 331.4L384.8 339.2L381.5 336.8L387.1 329.2ZM387.3 329.3L381.7 337.0L378.4 334.5L384.3 327.0ZM384.5 327.1L378.6 334.7L375.4 332.1L381.5 324.7ZM373.6 317.7L366.9 324.5L364.0 321.5L370.9 314.9ZM363.9 307.0L356.5 313.0L353.9 309.8L361.5 304.0ZM359.5 301.3L351.8 306.9L349.4 303.6L357.3 298.2ZM357.4 298.4L349.5 303.8L347.3 300.3L355.3 295.2ZM355.4 295.4L347.4 300.5L345.2 297.0L353.4 292.1ZM348.2 282.8L339.7 287.1L337.9 283.4L346.6 279.4ZM346.7 279.6L338.0 283.6L336.4 279.8L345.1 276.1ZM345.2 276.3L336.5 280.1L334.9 276.3L343.8 272.8ZM343.8 273.0L335.0 276.5L333.5 272.6L342.5 269.4ZM359.2 149.5L351.5 143.9L353.9 140.6L361.5 146.4ZM361.3 146.6L353.8 140.8L356.3 137.6L363.7 143.6ZM363.6 143.8L356.2 137.8L358.8 134.6L366.0 140.8ZM373.2 133.1L366.6 126.3L369.5 123.5L376.0 130.4ZM378.5 128.2L372.2 121.0L375.4 118.4L381.4 125.7ZM399.0 113.4L394.2 105.2L397.8 103.2L402.3 111.6ZM402.1 111.7L397.5 103.3L401.2 101.4L405.5 109.9ZM405.3 110.0L401.0 101.5L404.7 99.7L408.7 108.3ZM418.5 104.2L415.1 95.3L419.0 93.9L422.1 102.9ZM425.3 101.8L422.4 92.7L426.4 91.6L429.0 100.7ZM439.3 98.3L437.5 88.9L441.5 88.2L443.0 97.6ZM442.8 97.6L441.3 88.2L445.3 87.6L446.6 97.1ZM446.4 97.1L445.1 87.7L449.2 87.2L450.2 96.6ZM450.0 96.7L448.9 87.2L453.0 86.8L453.8 96.3ZM457.2 96.1L456.6 86.6L460.8 86.4L461.0 95.9ZM513.5 105.8L517.2 97.0L521.0 98.6L517.1 107.3ZM516.9 107.2L520.7 98.5L524.5 100.2L520.3 108.8ZM520.1 108.7L524.3 100.1L527.9 102.0L523.5 110.4ZM526.5 112.0L531.1 103.7L534.7 105.7L529.9 113.9ZM541.7 121.8L547.4 114.2L550.6 116.7L544.7 124.1ZM544.5 124.0L550.4 116.6L553.6 119.2L547.5 126.4ZM547.3 126.3L553.4 119.0L556.5 121.7L550.2 128.8ZM564.9 144.3L572.3 138.4L574.8 141.6L567.2 147.3ZM567.1 147.2L574.7 141.4L577.1 144.7L569.4 150.3ZM569.2 150.1L577.0 144.5L579.3 147.9L571.4 153.2ZM571.3 153.0L579.2 147.7L581.4 151.2L573.4 156.2ZM573.3 156.1L581.3 151.0L583.5 154.5L575.3 159.3ZM575.2 159.1L583.3 154.3L585.4 157.8L577.1 162.5ZM577.0 162.3L585.3 157.6L587.2 161.2L578.8 165.6ZM578.7 165.4L587.1 161.0L589.0 164.7L580.4 168.9ZM580.3 168.6L588.8 164.5L590.6 168.2L581.9 172.1ZM587.0 185.4L596.1 182.4L597.3 186.4L588.1 189.0ZM590.6 281.9L599.3 285.8L597.5 289.8L588.9 285.6ZM589.0 285.4L597.6 289.5L595.6 293.4L587.2 289.1ZM587.3 288.9L595.7 293.2L593.7 297.1L585.3 292.5ZM565.0 320.3L571.9 326.8L568.9 330.0L562.1 323.3ZM559.5 325.8L566.1 332.7L562.9 335.7L556.5 328.6ZM547.7 335.8L553.5 343.4L549.9 346.0L544.4 338.2ZM544.6 338.1L550.1 345.8L546.5 348.3L541.2 340.4ZM541.4 340.3L546.8 348.2L543.1 350.6L538.0 342.5ZM534.9 344.4L539.8 352.6L536.0 354.8L531.3 346.5ZM531.5 346.4L536.2 354.7L532.3 356.8L527.9 348.3ZM405.0 350.7L400.9 359.4L397.0 357.4L401.3 348.9ZM401.5 349.0L397.2 357.5L393.3 355.5L397.8 347.1ZM398.1 347.3L393.5 355.6L389.7 353.5L394.5 345.3ZM359.1 315.9L351.9 322.2L349.0 318.8L356.4 312.8ZM356.6 313.0L349.2 319.0L346.5 315.6L354.0 309.8ZM354.2 310.0L346.6 315.8L344.0 312.3L351.7 306.7ZM325.4 219.7L315.9 219.3L316.1 214.9L325.6 215.6ZM325.6 215.8L316.1 215.2L316.5 210.8L325.9 211.7ZM325.9 211.9L316.4 211.0L316.9 206.7L326.4 207.9ZM326.3 208.1L316.9 206.9L317.5 202.6L326.9 204.0ZM326.9 204.3L317.4 202.8L318.2 198.5L327.5 200.2ZM327.5 200.5L318.1 198.8L319.0 194.4L328.3 196.4ZM328.2 196.7L318.9 194.7L319.9 190.4L329.1 192.6ZM329.1 192.9L319.8 190.7L320.9 186.4L330.1 188.9ZM330.0 189.1L320.8 186.7L322.1 182.4L331.2 185.2ZM331.1 185.4L322.0 182.7L323.3 178.5L332.3 181.5ZM332.3 181.7L323.2 178.7L324.7 174.6L333.6 177.8ZM333.5 178.1L324.6 174.8L326.1 170.7L335.0 174.2ZM345.1 153.7L337.0 148.7L339.3 145.0L347.3 150.2ZM347.2 150.4L339.2 145.2L341.6 141.6L349.4 146.9ZM349.3 147.1L341.4 141.8L344.0 138.2L351.7 143.8ZM358.7 134.9L351.5 128.7L354.4 125.4L361.4 131.8ZM361.3 132.0L354.2 125.6L357.2 122.4L364.1 129.0ZM363.9 129.1L357.0 122.5L360.1 119.4L366.8 126.2ZM378.2 116.2L372.4 108.7L375.8 106.0L381.5 113.7ZM384.4 111.5L379.0 103.7L382.6 101.3L387.8 109.2ZM387.6 109.4L382.4 101.4L386.1 99.1L391.1 107.2ZM426.2 91.7L423.6 82.6L427.8 81.4L430.2 90.7ZM429.9 90.7L427.6 81.5L431.9 80.5L433.9 89.8ZM437.5 89.0L435.6 79.7L440.0 78.9L441.5 88.3ZM441.3 88.3L439.7 79.0L444.1 78.3L445.3 87.7ZM445.1 87.8L443.8 78.3L448.2 77.8L449.2 87.3ZM452.8 86.9L452.0 77.4L456.4 77.1L456.9 86.7ZM456.7 86.7L456.1 77.2L460.5 77.0L460.8 86.5ZM460.5 86.5L460.3 77.0L464.7 77.0L464.6 86.5ZM464.4 86.5L464.4 77.0L468.8 77.0L468.5 86.5ZM468.3 86.5L468.5 77.0L472.9 77.2L472.4 86.7ZM472.1 86.7L472.7 77.2L477.1 77.5L476.2 87.0ZM476.0 87.0L476.8 77.5L481.2 77.9L480.1 87.4ZM479.8 87.4L480.9 77.9L485.3 78.5L483.9 87.9ZM509.9 94.3L513.1 85.3L517.2 86.8L513.8 95.7ZM513.6 95.6L517.0 86.7L521.0 88.4L517.4 97.1ZM564.6 129.7L571.5 123.1L574.5 126.4L567.4 132.7ZM567.2 132.5L574.3 126.2L577.2 129.5L569.9 135.6ZM569.8 135.4L577.0 129.3L579.8 132.7L572.4 138.6ZM583.3 154.3L591.4 149.5L593.6 153.3L585.3 157.9ZM585.2 157.7L593.5 153.0L595.6 156.9L587.1 161.3ZM587.0 161.1L595.5 156.7L597.4 160.6L588.9 164.7ZM588.8 164.5L597.3 160.4L599.2 164.3L590.5 168.3ZM590.4 168.0L599.1 164.1L600.8 168.1L592.0 171.8ZM591.9 171.6L600.7 167.9L602.4 172.0L593.5 175.4ZM593.4 175.2L602.3 171.7L603.8 175.9L594.8 179.0ZM597.1 186.2L606.3 183.5L607.4 187.7L598.2 190.1ZM612.1 225.6L621.7 225.6L621.6 230.3L612.1 230.0ZM612.1 229.7L621.6 230.0L621.4 234.7L611.9 234.1ZM611.9 233.8L621.4 234.4L621.1 239.1L611.6 238.2ZM587.3 307.4L595.2 312.7L592.5 316.5L584.8 311.0ZM584.9 310.8L592.7 316.3L589.9 320.1L582.3 314.4ZM582.5 314.1L590.1 319.9L587.2 323.6L579.8 317.6ZM546.7 348.1L552.0 356.0L548.1 358.6L543.0 350.5ZM412.4 364.1L409.1 373.0L404.7 371.3L408.3 362.5ZM386.4 351.4L381.4 359.5L377.5 357.0L382.7 349.1ZM376.2 344.5L370.5 352.2L366.8 349.3L372.7 341.8ZM372.9 342.0L367.0 349.5L363.4 346.6L369.4 339.2ZM326.3 279.9L317.5 283.4L315.8 279.1L324.8 275.8ZM324.9 276.1L315.9 279.3L314.4 274.9L323.4 271.9ZM323.5 272.2L314.5 275.2L313.0 270.7L322.2 268.0ZM317.0 206.9L307.5 205.8L308.2 201.1L317.6 202.6ZM317.5 202.8L308.1 201.4L308.9 196.8L318.3 198.5ZM318.2 198.8L308.9 197.1L309.8 192.5L319.1 194.5ZM319.0 194.7L309.7 192.8L310.7 188.2L320.0 190.4ZM319.9 190.7L310.7 188.5L311.8 183.9L321.0 186.4ZM320.9 186.7L311.8 184.2L313.0 179.7L322.1 182.5ZM326.1 171.0L317.3 167.5L319.0 163.2L327.8 166.9ZM331.1 159.7L322.6 155.5L324.7 151.3L333.1 155.8ZM333.0 156.0L324.6 151.5L326.8 147.4L335.1 152.1ZM335.0 152.4L326.7 147.7L329.1 143.7L337.2 148.6ZM389.5 97.2L384.7 88.9L388.8 86.6L393.3 95.0ZM393.1 95.1L388.5 86.8L392.7 84.6L397.0 93.1ZM396.7 93.2L392.4 84.7L396.6 82.7L400.7 91.3ZM427.6 81.6L425.3 72.4L429.8 71.3L431.9 80.6ZM435.7 79.8L433.8 70.4L438.4 69.6L440.0 79.0ZM439.7 79.1L438.2 69.7L442.8 69.0L444.1 78.4ZM443.8 78.4L442.5 69.0L447.2 68.4L448.2 77.9ZM447.9 77.9L446.9 68.5L451.5 68.0L452.3 77.5ZM452.0 77.5L451.3 68.0L455.9 67.7L456.4 77.2ZM456.2 77.3L455.6 67.8L460.3 67.6L460.5 77.1ZM472.7 77.3L473.2 67.8L477.9 68.1L477.0 77.6ZM476.8 77.6L477.6 68.1L482.3 68.6L481.2 78.0ZM535.6 95.5L540.2 87.2L544.3 89.5L539.4 97.7ZM565.6 117.4L572.1 110.4L575.5 113.7L568.7 120.4ZM593.4 153.1L601.7 148.4L603.9 152.6L595.5 156.9ZM595.4 156.7L603.8 152.3L605.9 156.5L597.3 160.6ZM597.2 160.4L605.8 156.2L607.8 160.5L599.1 164.4ZM599.0 164.1L607.7 160.2L609.5 164.5L600.7 168.2ZM600.6 167.9L609.4 164.3L611.2 168.6L602.3 172.0ZM602.2 171.8L611.1 168.3L612.7 172.7L603.7 175.9ZM612.7 277.3L621.7 280.5L620.0 285.1L611.1 281.7ZM611.2 281.5L620.1 284.9L618.2 289.5L609.5 285.8ZM606.0 293.6L614.5 297.7L612.3 302.1L603.9 297.7ZM569.3 342.4L575.6 349.5L571.9 352.8L565.8 345.5ZM566.0 345.3L572.1 352.6L568.3 355.7L562.4 348.3ZM562.6 348.1L568.5 355.6L564.6 358.6L558.9 351.0ZM548.3 358.3L553.4 366.4L549.1 369.0L544.3 360.8ZM544.5 360.6L549.4 368.8L545.1 371.3L540.5 363.0ZM540.7 362.8L545.4 371.1L541.0 373.5L536.6 365.0ZM524.9 370.5L528.6 379.3L524.0 381.1L520.6 372.3ZM520.9 372.2L524.3 381.0L519.6 382.8L516.5 373.8ZM516.7 373.7L519.9 382.7L515.2 384.2L512.3 375.2ZM499.9 378.6L502.0 387.9L497.2 389.0L495.3 379.6ZM495.6 379.6L497.5 388.9L492.6 389.8L491.0 380.4ZM491.3 380.4L492.9 389.8L488.0 390.6L486.7 381.1ZM482.6 381.7L483.7 391.1L478.8 391.6L477.9 382.2ZM473.8 382.5L474.4 392.0L469.5 392.2L469.2 382.7ZM469.4 382.7L469.8 392.2L464.8 392.3L464.8 382.8ZM465.0 382.8L465.1 392.3L460.2 392.2L460.4 382.7ZM438.8 380.7L437.3 390.1L432.4 389.3L434.2 379.9ZM434.5 380.0L432.7 389.3L427.8 388.3L429.9 379.0ZM430.2 379.1L428.1 388.4L423.3 387.3L425.6 378.0ZM306.8 214.5L297.3 213.9L297.7 208.9L307.2 209.9ZM307.6 205.8L298.2 204.6L298.9 199.7L308.3 201.2ZM308.2 201.4L298.8 200.0L299.6 195.1L309.0 196.8ZM309.0 197.1L299.6 195.4L300.5 190.5L309.9 192.5ZM309.8 192.8L300.5 190.8L301.6 186.0L310.8 188.2ZM310.8 188.5L301.5 186.3L302.7 181.5L311.9 184.0ZM311.8 184.2L302.7 181.8L304.0 177.0L313.1 179.7ZM313.0 180.0L303.9 177.3L305.4 172.6L314.5 175.6ZM314.4 175.8L305.3 172.8L306.9 168.2L315.9 171.4ZM315.8 171.7L306.8 168.4L308.6 163.8L317.5 167.3ZM322.7 155.5L314.1 151.3L316.4 146.9L324.8 151.3ZM326.8 147.7L318.5 143.1L321.0 138.8L329.1 143.7ZM336.3 132.9L328.5 127.4L331.5 123.4L339.1 129.2ZM338.9 129.4L331.3 123.6L334.4 119.7L341.8 125.8ZM381.0 91.3L376.0 83.2L380.2 80.6L385.0 88.9ZM384.7 89.0L380.0 80.8L384.3 78.4L388.8 86.7ZM388.6 86.9L384.0 78.5L388.4 76.2L392.7 84.7ZM392.5 84.8L388.1 76.3L392.6 74.1L396.7 82.7ZM446.9 68.6L445.9 59.1L450.8 58.6L451.5 68.1ZM451.3 68.1L450.5 58.7L455.4 58.3L455.9 67.8ZM455.7 67.9L455.1 58.3L460.1 58.2L460.3 67.7ZM468.8 67.7L469.1 58.2L474.1 58.4L473.5 67.9ZM473.2 67.9L473.8 58.4L478.7 58.8L477.9 68.2ZM486.3 69.2L487.7 59.8L492.6 60.6L490.9 70.0ZM495.0 70.7L496.9 61.4L501.7 62.4L499.6 71.7ZM532.4 83.2L536.5 74.7L540.9 76.9L536.6 85.3ZM536.3 85.2L540.7 76.7L545.1 79.1L540.4 87.4ZM544.0 89.5L548.8 81.3L553.1 83.8L548.0 91.9ZM578.3 116.7L585.2 110.2L588.5 113.8L581.4 120.2ZM581.3 119.9L588.3 113.6L591.6 117.3L584.3 123.5ZM594.8 137.3L602.7 132.0L605.4 136.1L597.3 141.2ZM597.2 140.9L605.2 135.9L607.8 140.1L599.6 144.9ZM599.4 144.7L607.6 139.8L610.1 144.1L601.8 148.7ZM601.6 148.5L610.0 143.9L612.3 148.2L603.9 152.6ZM603.7 152.4L612.2 148.0L614.4 152.4L605.8 156.5ZM605.7 156.3L614.3 152.1L616.4 156.6L607.7 160.5ZM609.3 164.3L618.1 160.6L619.9 165.2L611.1 168.6ZM611.0 168.4L619.8 164.9L621.6 169.6L612.6 172.7ZM614.5 297.7L623.0 301.8L620.7 306.5L612.2 302.1ZM612.4 301.8L620.8 306.2L618.4 310.8L610.0 306.2ZM610.2 305.9L618.5 310.5L615.9 315.1L607.7 310.2ZM607.9 310.0L616.1 314.8L613.4 319.3L605.3 314.2ZM597.5 325.5L605.2 331.2L602.0 335.3L594.5 329.4ZM588.7 336.3L595.8 342.6L592.3 346.4L585.4 339.9ZM572.1 352.5L578.2 359.8L574.2 363.1L568.2 355.7ZM316.7 303.8L308.3 308.3L305.9 303.6L314.4 299.4ZM310.6 291.2L301.9 295.0L299.9 290.1L308.7 286.6ZM297.1 218.5L287.6 218.2L287.9 212.9L297.4 213.6ZM297.4 213.9L287.9 213.2L288.3 208.0L297.8 209.0ZM297.8 209.2L288.3 208.3L288.9 203.1L298.3 204.3ZM298.3 204.6L288.8 203.4L289.6 198.3L299.0 199.7ZM300.6 190.8L291.3 188.9L292.4 183.8L301.7 186.0ZM301.6 186.3L292.3 184.1L293.6 179.0L302.8 181.5ZM302.8 181.8L293.6 179.3L295.0 174.3L304.1 177.0ZM304.0 177.3L294.9 174.6L296.5 169.6L305.5 172.6ZM306.9 168.5L298.0 165.2L299.8 160.3L308.7 163.8ZM308.6 164.1L299.7 160.6L301.7 155.8L310.5 159.5ZM310.3 159.8L301.6 156.1L303.7 151.3L312.4 155.3ZM320.9 139.1L312.8 134.2L315.5 129.7L323.5 134.9ZM337.3 116.5L330.0 110.3L333.5 106.3L340.5 112.8ZM340.3 113.0L333.3 106.6L336.9 102.8L343.7 109.4ZM343.5 109.6L336.7 103.0L340.3 99.3L347.0 106.0ZM384.1 78.6L379.5 70.2L384.1 67.8L388.4 76.3ZM388.2 76.4L383.9 67.9L388.6 65.6L392.6 74.2ZM418.5 64.5L415.9 55.4L420.9 54.0L423.3 63.3ZM423.0 63.3L420.6 54.1L425.7 52.9L427.8 62.2ZM427.5 62.2L425.4 53.0L430.5 51.9L432.4 61.2ZM432.1 61.3L430.2 51.9L435.4 51.0L436.9 60.4ZM436.6 60.5L435.1 51.1L440.3 50.3L441.5 59.7ZM441.3 59.8L440.0 50.3L445.1 49.7L446.2 59.2ZM450.5 58.8L449.7 49.3L455.0 48.9L455.4 58.4ZM455.2 58.4L454.6 48.9L459.9 48.7L460.1 58.3ZM459.8 58.3L459.6 48.7L464.8 48.7L464.8 58.2ZM464.5 58.2L464.5 48.7L469.7 48.8L469.4 58.3ZM501.4 62.5L503.5 53.2L508.6 54.4L506.2 63.6ZM510.4 64.8L513.1 55.6L518.1 57.2L515.1 66.2ZM564.3 91.7L570.0 84.1L574.1 87.3L568.2 94.7ZM575.1 100.5L581.4 93.4L585.3 96.9L578.7 103.9ZM578.5 103.7L585.0 96.7L588.8 100.4L582.1 107.1ZM581.9 106.9L588.6 100.2L592.2 103.9L585.3 110.4ZM609.9 143.9L618.2 139.3L620.7 143.9L612.2 148.3ZM612.1 148.0L620.5 143.6L622.9 148.3L614.3 152.4ZM614.2 152.2L622.7 148.0L625.0 152.7L616.3 156.7ZM618.0 160.7L626.8 157.0L628.7 161.8L619.9 165.2ZM621.4 169.3L630.3 166.2L632.0 171.1L623.0 174.0ZM622.9 173.7L631.9 170.8L633.5 175.8L624.3 178.5ZM624.2 178.2L633.4 175.5L634.8 180.6L625.6 183.0ZM640.3 230.6L649.8 230.9L649.6 236.4L640.1 235.8ZM634.8 269.5L644.0 271.8L642.5 277.2L633.4 274.5ZM633.5 274.2L642.6 276.8L641.0 282.1L631.9 279.2ZM632.0 278.9L641.1 281.8L639.3 287.0L630.4 283.9ZM630.5 283.6L639.5 286.7L637.6 291.9L628.7 288.5ZM324.3 333.0L316.8 338.8L313.5 334.4L321.2 328.8ZM287.8 232.9L278.2 233.3L278.1 227.8L287.6 227.7ZM287.6 228.0L278.1 228.2L278.1 222.6L287.6 222.8ZM327.0 114.1L319.6 108.1L323.1 103.9L330.3 110.1ZM340.2 99.5L333.5 92.8L337.5 89.0L344.0 95.9ZM343.7 96.1L337.2 89.2L341.3 85.5L347.6 92.6ZM347.4 92.8L341.1 85.7L345.3 82.1L351.4 89.4ZM379.6 70.3L375.0 62.0L379.9 59.4L384.2 67.9ZM388.3 65.8L384.2 57.2L389.2 55.0L393.1 63.7ZM392.8 63.8L388.9 55.1L394.0 52.9L397.6 61.8ZM397.3 61.9L393.7 53.1L398.9 51.1L402.2 60.0ZM415.9 55.5L413.3 46.3L418.6 44.9L421.0 54.1ZM420.7 54.2L418.3 45.0L423.7 43.7L425.7 53.0ZM425.4 53.1L423.4 43.8L428.8 42.6L430.6 52.0ZM430.3 52.0L428.4 42.7L433.9 41.7L435.4 51.1ZM435.1 51.2L433.5 41.8L439.0 41.0L440.3 50.4ZM440.0 50.4L438.7 41.0L444.1 40.3L445.2 49.8ZM444.9 49.8L443.8 40.4L449.3 39.9L450.1 49.3ZM459.6 48.8L459.3 39.3L464.8 39.3L464.8 48.8ZM464.5 48.8L464.5 39.3L470.0 39.4L469.7 48.9ZM469.4 48.9L469.7 39.4L475.2 39.6L474.6 49.1ZM503.5 53.3L505.6 44.0L511.0 45.3L508.6 54.5ZM508.3 54.4L510.7 45.2L516.0 46.7L513.3 55.8ZM513.0 55.7L515.7 46.6L520.9 48.2L518.0 57.3ZM561.9 78.5L567.2 70.5L571.7 73.7L566.2 81.4ZM566.0 81.2L571.5 73.5L575.9 76.7L570.2 84.3ZM569.9 84.1L575.7 76.5L580.0 79.9L574.1 87.3ZM577.6 90.3L583.8 83.0L587.9 86.6L581.6 93.7ZM622.6 148.1L631.2 143.9L633.5 148.9L624.9 152.8ZM624.7 152.5L633.4 148.6L635.6 153.6L626.8 157.3ZM626.7 157.0L635.5 153.3L637.5 158.4L628.6 161.9ZM628.5 161.6L637.4 158.1L639.3 163.3L630.3 166.5ZM630.2 166.2L639.2 163.0L641.0 168.2L631.9 171.1ZM631.8 170.8L640.9 167.9L642.5 173.2L633.4 175.8ZM633.3 175.5L642.4 172.9L643.9 178.2L634.7 180.6ZM647.2 256.6L656.5 258.2L655.5 263.9L646.1 262.0ZM646.2 261.7L655.5 263.6L654.3 269.2L645.0 267.1ZM645.1 266.8L654.4 268.9L653.0 274.5L643.8 272.1ZM563.4 382.2L568.5 390.3L563.5 393.3L558.7 385.1ZM559.0 384.9L563.8 393.1L558.8 396.0L554.2 387.7ZM554.5 387.5L559.1 395.8L554.0 398.6L549.6 390.1ZM531.0 398.5L534.5 407.4L529.1 409.4L525.9 400.4ZM526.2 400.3L529.4 409.3L523.9 411.1L521.0 402.1ZM521.3 402.0L524.2 411.0L518.7 412.7L516.0 403.6ZM516.3 403.5L519.0 412.6L513.4 414.2L511.0 405.0ZM511.3 404.9L513.8 414.1L508.1 415.5L506.0 406.2ZM491.0 409.1L492.4 418.5L486.7 419.2L485.6 409.8ZM475.6 410.7L476.2 420.2L470.4 420.4L470.1 410.9ZM465.2 411.0L465.3 420.5L459.5 420.5L459.7 411.0ZM282.3 264.1L273.0 266.1L271.9 260.4L281.2 258.7ZM280.4 253.9L271.0 255.4L270.2 249.7L279.6 248.5ZM279.6 202.3L270.1 201.1L270.9 195.4L280.3 196.8ZM280.3 197.2L270.9 195.7L271.8 190.0L281.2 191.7ZM286.0 171.9L276.9 169.2L278.6 163.7L287.6 166.7ZM287.5 167.0L278.5 164.0L280.4 158.5L289.3 161.8ZM289.2 162.1L280.3 158.8L282.3 153.4L291.2 156.9ZM304.8 129.4L296.6 124.5L299.7 119.5L307.7 124.7ZM307.5 125.0L299.5 119.8L302.7 115.0L310.6 120.4ZM310.4 120.6L302.5 115.3L305.8 110.5L313.5 116.1ZM326.4 100.3L319.3 93.9L323.3 89.7L330.2 96.3ZM366.1 67.3L361.1 59.2L366.0 56.2L370.8 64.4ZM384.3 57.3L380.2 48.7L385.5 46.3L389.3 55.1ZM433.6 41.9L432.0 32.5L437.7 31.6L439.0 41.1ZM438.7 41.1L437.4 31.7L443.1 31.0L444.1 40.4ZM443.8 40.5L442.8 31.0L448.6 30.5L449.3 40.0ZM449.0 40.0L448.2 30.5L454.0 30.1L454.5 39.6ZM454.2 39.6L453.7 30.1L459.4 29.9L459.7 39.4ZM474.9 39.7L475.4 30.2L481.2 30.6L480.4 40.1ZM480.0 40.1L480.9 30.6L486.6 31.2L485.5 40.6ZM485.2 40.6L486.3 31.1L492.0 31.9L490.7 41.3ZM495.5 42.1L497.1 32.7L502.8 33.7L500.9 43.1ZM500.5 43.0L502.4 33.7L508.1 34.9L505.9 44.2ZM595.2 93.6L601.9 86.8L605.9 91.0L599.0 97.5ZM609.0 109.0L616.4 103.0L620.0 107.6L612.4 113.3ZM612.2 113.1L619.8 107.3L623.2 112.0L615.4 117.5ZM626.3 134.7L634.6 130.1L637.4 135.2L628.9 139.6ZM628.8 139.3L637.2 134.9L639.8 140.1L631.3 144.2ZM631.1 143.9L639.7 139.8L642.1 145.0L633.5 148.9Z" fill="#eadafb" stroke="#eadafb" stroke-width="0.3" stroke-linejoin="round"/>
<path d="M367.2 196.2L358.1 193.5L359.1 190.4L368.1 193.4ZM368.0 193.5L359.0 190.5L360.1 187.5L369.0 190.7ZM393.1 153.2L386.4 146.4L388.8 144.2L395.2 151.2ZM395.1 151.3L388.6 144.3L391.1 142.1L397.3 149.3ZM397.2 149.4L390.9 142.2L393.4 140.1L399.5 147.4ZM406.1 142.4L400.6 134.6L403.3 132.8L408.5 140.7ZM408.4 140.8L403.1 132.9L405.9 131.1L410.9 139.2ZM410.8 139.3L405.7 131.2L408.6 129.5L413.3 137.8ZM494.8 129.0L497.7 119.9L500.8 120.9L497.6 129.9ZM497.5 129.8L500.6 120.9L503.7 122.0L500.3 130.9ZM500.1 130.8L503.5 121.9L506.5 123.1L502.9 131.9ZM537.8 307.4L544.2 314.5L541.5 316.8L535.3 309.5ZM535.5 309.4L541.6 316.7L538.9 318.9L533.0 311.5ZM489.2 332.8L491.3 342.0L487.8 342.8L486.0 333.5ZM486.1 333.4L488.1 342.8L484.6 343.4L482.9 334.0ZM483.1 334.0L484.8 343.4L481.3 343.9L479.9 334.5ZM461.7 335.6L461.4 345.2L457.9 345.0L458.4 335.5ZM458.6 335.5L458.1 345.0L454.6 344.8L455.3 335.3ZM455.5 335.3L454.8 344.8L451.2 344.5L452.2 335.0ZM353.6 220.8L344.1 220.4L344.3 216.9L353.8 217.5ZM353.8 217.7L344.3 217.1L344.6 213.5L354.1 214.5ZM354.0 214.6L344.6 213.7L345.0 210.2L354.4 211.4ZM354.8 208.5L345.4 207.1L346.0 203.6L355.3 205.3ZM355.3 205.5L345.9 203.8L346.6 200.3L355.9 202.3ZM386.5 146.5L379.8 139.7L382.4 137.3L388.8 144.2ZM388.7 144.4L382.2 137.4L384.8 135.0L391.1 142.2ZM391.0 142.3L384.7 135.2L387.4 132.9L393.5 140.2ZM568.1 188.2L577.1 185.1L578.2 188.4L569.2 191.3ZM569.1 191.2L578.2 188.2L579.2 191.6L570.1 194.3ZM583.4 235.5L592.9 236.4L592.5 240.2L583.1 239.1ZM582.7 242.2L592.1 243.5L591.5 247.3L582.1 245.7ZM544.1 314.4L550.5 321.5L547.6 324.0L541.4 316.7ZM539.0 318.7L545.0 326.2L541.9 328.5L536.2 320.9ZM528.1 326.5L533.2 334.5L529.9 336.5L525.1 328.4ZM525.3 328.2L530.1 336.4L526.8 338.3L522.2 330.0ZM522.4 329.9L527.0 338.2L523.6 340.1L519.2 331.6ZM441.5 343.0L439.7 352.3L436.0 351.5L438.0 342.2ZM345.0 210.4L335.6 209.3L336.1 205.5L345.5 206.9ZM345.5 207.1L336.1 205.7L336.7 201.9L346.1 203.6ZM346.0 203.8L336.7 202.1L337.4 198.4L346.7 200.3ZM346.7 200.5L337.4 198.6L338.2 194.8L347.5 197.1ZM361.3 163.4L353.1 158.5L355.2 155.2L363.2 160.4ZM363.0 160.5L355.0 155.4L357.1 152.2L365.0 157.6ZM364.9 157.7L357.0 152.4L359.2 149.2L366.9 154.8ZM379.9 139.8L373.2 133.0L375.9 130.4L382.4 137.3ZM382.3 137.5L375.8 130.5L378.6 128.0L384.9 135.1ZM384.7 135.2L378.5 128.1L381.4 125.6L387.4 132.9ZM441.1 107.5L439.3 98.2L443.0 97.5L444.6 106.9ZM444.4 106.9L442.8 97.5L446.6 97.0L447.9 106.4ZM454.3 105.7L453.5 96.2L457.4 96.0L457.9 105.5ZM457.6 105.5L457.1 96.0L461.0 95.8L461.2 105.3ZM461.0 105.3L460.8 95.8L464.6 95.8L464.5 105.3ZM467.7 105.4L468.0 95.9L471.8 96.0L471.2 105.5ZM536.0 129.3L541.7 121.7L544.7 124.1L538.8 131.5ZM538.6 131.4L544.6 123.9L547.5 126.4L541.4 133.6ZM541.2 133.5L547.4 126.2L550.3 128.7L543.9 135.8ZM551.0 142.7L557.9 136.1L560.5 138.9L553.4 145.3ZM553.2 145.1L560.3 138.8L562.8 141.6L555.6 147.8ZM577.2 287.7L585.5 292.3L583.5 295.9L575.3 291.0ZM575.4 290.8L583.6 295.7L581.5 299.2L573.4 294.1ZM573.5 293.9L581.6 299.0L579.4 302.4L571.5 297.1ZM547.7 323.8L553.8 331.0L550.7 333.7L544.7 326.2ZM544.9 326.1L550.8 333.5L547.6 336.0L541.9 328.4ZM482.8 353.1L484.2 362.6L480.1 363.1L479.0 353.6ZM479.2 353.6L480.4 363.1L476.3 363.5L475.4 354.0ZM475.7 354.0L476.5 363.5L472.4 363.8L471.8 354.3ZM450.5 353.8L449.5 363.3L445.4 362.8L446.7 353.3ZM446.9 353.4L445.6 362.8L441.5 362.2L443.1 352.8ZM443.3 352.8L441.8 362.2L437.7 361.5L439.5 352.2ZM429.2 349.7L426.7 358.9L422.7 357.8L425.6 348.7ZM425.8 348.7L423.0 357.8L419.0 356.6L422.1 347.5ZM409.0 342.2L404.9 350.8L401.2 349.0L405.5 340.5ZM342.6 269.6L333.6 272.9L332.3 269.0L341.3 266.0ZM341.4 266.2L332.3 269.2L331.1 265.3L340.2 262.5ZM453.6 96.3L452.8 86.8L456.9 86.6L457.4 96.1ZM503.4 102.0L506.3 93.0L510.2 94.3L507.0 103.3ZM510.2 104.4L513.6 95.5L517.4 97.1L513.7 105.8ZM557.8 136.2L564.7 129.6L567.5 132.6L560.4 139.0ZM560.2 138.8L567.3 132.5L570.0 135.6L562.7 141.7ZM585.9 181.9L594.8 178.8L596.2 182.7L587.1 185.6ZM588.1 188.8L597.2 186.1L598.3 190.1L589.1 192.5ZM517.6 353.1L521.3 361.9L517.2 363.6L513.8 354.7ZM514.1 354.6L517.5 363.5L513.4 365.0L510.2 356.0ZM510.4 355.9L513.6 364.9L509.5 366.3L506.5 357.2ZM345.4 297.2L337.3 302.1L335.1 298.4L343.3 293.7ZM341.6 290.5L333.2 295.0L331.2 291.1L339.7 286.8ZM353.8 140.9L346.3 135.1L349.0 131.6L356.4 137.6ZM356.2 137.8L348.8 131.8L351.7 128.5L358.9 134.7ZM381.3 113.8L375.6 106.2L379.2 103.6L384.6 111.4ZM547.3 114.3L553.0 106.7L556.5 109.3L550.6 116.8ZM550.4 116.6L556.3 109.2L559.7 112.0L553.5 119.2ZM553.4 119.1L559.5 111.8L562.8 114.7L556.5 121.8ZM572.2 138.4L579.7 132.5L582.4 135.9L574.8 141.7ZM574.6 141.5L582.2 135.7L584.8 139.3L577.1 144.8ZM576.9 144.6L584.7 139.1L587.2 142.7L579.3 148.0ZM594.7 178.8L603.7 175.6L605.1 179.8L596.1 182.7ZM596.0 182.5L605.0 179.5L606.3 183.7L597.2 186.4ZM611.6 238.0L621.1 238.8L620.6 243.4L611.2 242.3ZM611.2 242.1L620.6 243.2L620.0 247.8L610.6 246.4ZM610.7 246.2L620.1 247.5L619.4 252.1L610.0 250.5ZM571.8 326.8L578.8 333.3L575.5 336.7L568.8 329.9ZM569.0 329.7L575.7 336.5L572.4 339.7L565.8 332.8ZM357.5 328.2L350.7 334.8L347.5 331.4L354.5 325.0ZM354.7 325.2L347.7 331.6L344.6 328.1L351.8 321.9ZM331.4 291.2L322.9 295.5L320.8 291.3L329.5 287.3ZM329.6 287.5L321.0 291.5L319.1 287.3L327.8 283.5ZM322.2 268.2L313.1 271.0L311.8 266.5L321.0 264.0ZM321.1 264.3L311.9 266.8L310.7 262.3L320.0 260.0ZM320.1 260.3L310.8 262.5L309.8 258.0L319.1 256.0ZM316.0 219.3L306.5 218.9L306.7 214.2L316.2 214.9ZM316.2 215.2L306.7 214.5L307.1 209.9L316.6 210.8ZM316.5 211.0L307.1 210.1L307.6 205.5L317.0 206.7ZM322.1 182.7L313.0 180.0L314.4 175.5L323.4 178.5ZM323.3 178.8L314.3 175.8L315.8 171.4L324.7 174.6ZM324.7 174.9L315.7 171.6L317.4 167.3L326.2 170.8ZM327.7 167.2L318.9 163.5L320.8 159.2L329.5 163.2ZM329.4 163.4L320.7 159.4L322.7 155.2L331.2 159.4ZM379.0 103.8L373.6 96.0L377.5 93.4L382.7 101.4ZM382.5 101.5L377.2 93.6L381.2 91.0L386.2 99.1ZM385.9 99.3L380.9 91.2L384.9 88.8L389.7 97.0ZM485.0 78.5L486.3 69.1L491.0 69.9L489.3 79.2ZM489.1 79.2L490.7 69.8L495.3 70.7L493.4 80.0ZM513.0 85.4L516.2 76.4L520.6 78.0L517.2 86.9ZM516.9 86.8L520.3 77.9L524.7 79.7L521.0 88.5ZM620.0 247.5L629.4 248.9L628.6 253.7L619.3 252.1ZM619.3 251.8L628.7 253.5L627.8 258.3L618.4 256.4ZM617.6 260.5L626.9 262.6L625.7 267.4L616.5 265.0ZM604.0 297.5L612.5 301.9L610.1 306.2L601.8 301.6ZM396.4 82.9L392.3 74.3L396.8 72.2L400.6 80.9ZM400.4 81.0L396.6 72.3L401.1 70.4L404.7 79.2ZM404.4 79.3L400.8 70.5L405.5 68.7L408.8 77.6ZM433.9 70.5L432.0 61.2L436.9 60.3L438.5 69.7ZM438.2 69.8L436.6 60.4L441.5 59.6L442.8 69.1ZM442.5 69.1L441.2 59.7L446.2 59.1L447.2 68.5ZM499.3 71.6L501.4 62.4L506.2 63.5L503.8 72.7ZM503.6 72.7L505.9 63.5L510.7 64.8L508.1 73.9ZM507.8 73.8L510.4 64.7L515.2 66.1L512.3 75.2ZM524.4 79.7L528.0 70.9L532.6 72.8L528.7 81.5ZM568.8 107.5L575.2 100.4L578.8 103.8L572.3 110.7ZM572.1 110.5L578.6 103.6L582.1 107.0L575.4 113.8ZM612.5 172.5L621.5 169.3L623.1 174.0L614.0 176.9ZM613.9 176.7L623.0 173.7L624.4 178.4L615.3 181.1ZM615.2 180.8L624.3 178.2L625.7 182.9L616.4 185.3ZM594.7 329.1L602.1 335.1L598.8 339.1L591.6 333.0ZM591.7 332.7L599.0 338.9L595.6 342.8L588.5 336.5ZM502.0 387.8L504.2 397.1L499.1 398.2L497.2 388.9ZM497.5 388.8L499.4 398.1L494.2 399.1L492.6 389.7ZM432.7 389.2L430.9 398.6L425.8 397.5L427.9 388.2ZM428.1 388.3L426.1 397.6L421.0 396.4L423.3 387.2ZM423.6 387.2L421.3 396.5L416.2 395.1L418.8 386.0ZM321.3 311.9L313.1 316.8L310.5 312.3L318.8 307.6ZM318.9 307.9L310.6 312.6L308.1 308.0L316.5 303.5ZM297.2 232.5L287.7 232.9L287.5 227.7L297.0 227.6ZM297.0 227.8L287.5 228.0L287.5 222.8L297.0 222.9ZM297.0 223.2L287.5 223.1L287.6 217.9L297.2 218.2ZM568.0 94.5L573.9 87.1L577.9 90.4L571.8 97.7ZM571.6 97.5L577.7 90.2L581.6 93.6L575.3 100.7ZM640.4 225.7L649.9 225.7L649.8 231.2L640.3 230.9ZM640.1 235.5L649.6 236.0L649.2 241.5L639.7 240.7ZM628.8 288.2L637.7 291.6L635.6 296.7L626.8 293.0ZM627.0 292.8L635.8 296.4L633.6 301.5L624.9 297.6ZM592.4 346.2L599.3 352.7L595.5 356.6L588.8 349.9ZM585.5 353.1L592.0 360.0L588.0 363.8L581.6 356.7ZM445.5 400.6L444.5 410.1L439.1 409.4L440.3 400.0ZM435.8 399.3L434.3 408.7L428.8 407.8L430.6 398.4ZM300.1 290.4L291.2 293.9L289.3 288.7L298.2 285.5ZM298.3 285.8L289.4 289.0L287.6 283.8L296.6 280.8ZM296.7 281.1L287.7 284.1L286.0 278.9L295.1 276.1ZM291.5 262.2L282.2 264.2L281.1 258.7L290.5 257.0ZM290.5 257.3L281.2 259.1L280.3 253.6L289.7 252.2ZM289.7 252.5L280.3 254.0L279.5 248.5L289.0 247.3ZM291.4 188.9L282.0 186.9L283.3 181.6L292.5 183.8ZM292.4 184.1L283.2 181.9L284.5 176.6L293.7 179.0ZM293.7 179.3L284.5 176.9L286.0 171.6L295.1 174.3ZM321.0 121.9L313.3 116.3L316.6 111.9L324.1 117.7ZM323.9 118.0L316.4 112.2L319.8 107.9L327.2 113.9ZM362.8 80.7L357.4 72.9L361.9 69.8L367.2 77.7ZM366.9 77.9L361.7 70.0L366.3 67.0L371.3 75.1ZM371.1 75.3L366.0 67.2L370.8 64.3L375.5 72.6ZM545.0 68.5L549.3 60.0L554.2 62.6L549.6 70.9ZM553.6 73.2L558.4 65.0L563.1 67.9L558.0 75.9ZM581.4 93.5L587.7 86.4L591.7 90.1L585.2 97.0ZM585.0 96.8L591.5 89.9L595.5 93.7L588.7 100.4ZM588.5 100.2L595.2 93.5L599.1 97.4L592.2 104.0ZM535.9 396.6L539.5 405.4L534.2 407.5L530.7 398.6ZM282.1 187.0L272.8 185.0L274.1 179.4L283.4 181.6ZM284.6 176.9L275.4 174.4L277.0 168.9L286.1 171.6ZM549.3 60.1L553.7 51.6L558.8 54.4L554.1 62.7ZM553.9 62.5L558.5 54.2L563.5 57.1L558.6 65.3ZM558.4 65.1L563.2 56.9L568.1 59.9L563.1 68.0ZM562.8 67.8L567.8 59.7L572.7 62.9L567.4 70.8ZM567.1 70.6L572.4 62.7L577.2 66.0L571.7 73.7ZM571.4 73.6L576.9 65.8L581.6 69.2L575.8 76.8ZM587.6 86.4L593.9 79.3L598.2 83.3L591.7 90.2ZM591.4 89.9L598.0 83.0L602.1 87.1L595.4 93.8Z" fill="#fbf5fa" stroke="#fbf5fa" stroke-width="0.3" stroke-linejoin="round"/>
<path d="M365.1 204.4L355.8 202.5L356.5 199.3L365.8 201.5ZM365.7 201.7L356.5 199.4L357.3 196.3L366.5 198.8ZM366.4 198.9L357.2 196.5L358.1 193.3L367.2 196.1ZM369.0 190.9L360.0 187.6L361.2 184.6L370.0 188.1ZM377.4 173.1L369.3 168.2L371.0 165.4L379.0 170.5ZM378.9 170.7L370.9 165.6L372.7 162.8L380.6 168.2ZM380.5 168.3L372.6 163.0L374.5 160.3L382.2 165.9ZM420.6 133.9L416.6 125.3L419.5 124.0L423.4 132.7ZM425.8 131.6L422.2 122.8L425.3 121.6L428.6 130.6ZM502.7 131.9L506.4 123.1L509.4 124.4L505.5 133.0ZM510.4 135.4L514.7 127.0L517.6 128.5L513.0 136.8ZM512.9 136.7L517.5 128.4L520.3 130.0L515.5 138.2ZM515.3 138.1L520.1 129.9L522.9 131.6L517.9 139.7ZM574.1 234.7L583.5 235.5L583.2 239.1L573.7 238.0ZM573.8 237.8L583.2 238.9L582.8 242.4L573.3 241.0ZM572.3 246.9L581.7 248.8L580.9 252.3L571.6 250.1ZM570.9 252.9L580.2 255.3L579.2 258.7L570.1 256.1ZM570.1 255.9L579.3 258.5L578.2 261.9L569.2 259.0ZM569.2 258.8L578.3 261.7L577.2 265.1L568.2 261.9ZM568.2 261.8L577.2 264.9L576.0 268.2L567.1 264.8ZM567.2 264.6L576.1 268.0L574.8 271.3L566.0 267.7ZM566.0 267.5L574.8 271.2L573.4 274.4L564.7 270.5ZM533.1 311.4L539.1 318.8L536.3 321.0L530.5 313.4ZM530.7 313.3L536.4 320.9L533.6 323.0L528.0 315.2ZM525.7 316.9L531.0 324.8L528.0 326.7L522.9 318.6ZM523.1 318.5L528.2 326.6L525.1 328.4L520.3 320.3ZM517.8 321.7L522.4 330.0L519.3 331.7L514.9 323.2ZM501.0 329.3L504.2 338.3L500.8 339.4L497.9 330.3ZM480.1 334.5L481.5 343.9L477.9 344.4L476.8 334.9ZM477.0 334.9L478.1 344.4L474.6 344.7L473.8 335.2ZM474.0 335.2L474.8 344.7L471.3 345.0L470.7 335.5ZM354.4 239.2L345.0 240.4L344.6 236.9L354.1 236.0ZM354.1 236.2L344.6 237.1L344.3 233.6L353.8 232.9ZM353.8 233.1L344.3 233.8L344.1 230.2L353.6 229.8ZM355.9 202.5L346.6 200.5L347.4 197.0L356.6 199.3ZM356.6 199.5L347.3 197.3L348.2 193.8L357.4 196.3ZM358.2 193.5L349.1 190.8L350.1 187.4L359.2 190.4ZM359.1 190.6L350.1 187.6L351.2 184.2L360.2 187.5ZM363.6 179.1L354.9 175.1L356.5 171.9L365.0 176.2ZM380.2 153.3L372.9 147.1L375.3 144.4L382.3 150.8ZM382.2 151.0L375.2 144.6L377.6 142.0L384.4 148.6ZM384.3 148.7L377.4 142.1L379.9 139.6L386.6 146.4ZM403.2 133.0L398.0 125.0L401.0 123.1L406.0 131.2ZM537.5 142.7L543.8 135.6L546.4 138.0L539.9 144.9ZM539.8 144.8L546.3 137.9L548.8 140.3L542.1 147.1ZM542.0 146.9L548.7 140.2L551.2 142.7L544.3 149.3ZM544.1 149.1L551.0 142.6L553.4 145.2L546.3 151.6ZM546.2 151.4L553.3 145.1L555.6 147.7L548.4 153.9ZM548.2 153.7L555.5 147.6L557.8 150.3L550.3 156.3ZM550.2 156.1L557.6 150.2L559.8 153.0L552.2 158.7ZM552.1 158.5L559.7 152.8L561.8 155.7L554.0 161.2ZM553.9 161.0L561.7 155.5L563.7 158.4L555.8 163.7ZM560.5 171.4L568.8 166.8L570.5 169.9L562.0 174.3ZM562.0 174.1L570.4 169.7L572.0 172.9L563.4 177.1ZM563.3 176.9L571.9 172.7L573.4 175.9L564.7 179.9ZM570.0 194.1L579.1 191.4L580.1 194.9L570.9 197.3ZM583.1 238.9L592.6 239.9L592.1 243.7L582.7 242.4ZM580.1 255.3L589.3 257.7L588.3 261.4L579.1 258.7ZM536.4 320.8L542.1 328.4L539.0 330.6L533.5 322.9ZM530.9 324.7L536.2 332.6L533.0 334.7L527.9 326.6ZM519.4 331.5L523.8 339.9L520.4 341.7L516.3 333.1ZM516.4 333.0L520.6 341.6L517.1 343.2L513.2 334.5ZM513.4 334.4L517.3 343.1L513.8 344.6L510.2 335.8ZM481.4 343.8L482.8 353.2L479.0 353.7L477.9 344.3ZM478.1 344.3L479.3 353.7L475.4 354.1L474.6 344.6ZM344.2 220.4L334.7 220.0L334.9 216.2L344.4 216.9ZM344.4 217.1L334.9 216.4L335.2 212.6L344.7 213.5ZM344.7 213.7L335.2 212.8L335.6 209.0L345.0 210.2ZM347.4 197.3L338.1 195.1L339.1 191.3L348.3 193.8ZM349.1 190.8L340.0 188.1L341.2 184.4L350.2 187.4ZM350.1 187.6L341.1 184.6L342.4 181.0L351.3 184.3ZM351.2 184.5L342.3 181.2L343.6 177.6L352.5 181.1ZM366.8 155.0L359.1 149.4L361.4 146.4L368.9 152.2ZM368.8 152.3L361.2 146.5L363.6 143.5L371.0 149.5ZM370.9 149.7L363.5 143.7L365.9 140.8L373.1 147.0ZM373.0 147.1L365.8 140.9L368.3 138.1L375.4 144.5ZM377.5 142.2L370.6 135.6L373.3 132.9L380.0 139.7ZM424.9 111.9L421.8 102.9L425.5 101.7L428.3 110.7ZM431.3 109.8L428.7 100.7L432.4 99.7L434.8 108.9ZM437.8 108.2L435.7 98.9L439.5 98.1L441.3 107.5ZM447.7 106.4L446.4 97.0L450.2 96.5L451.2 106.0ZM464.3 105.3L464.4 95.8L468.2 95.9L467.9 105.4ZM471.0 105.5L471.6 96.0L475.4 96.3L474.6 105.8ZM474.3 105.8L475.2 96.3L479.0 96.7L477.9 106.1ZM477.7 106.1L478.8 96.6L482.6 97.1L481.2 106.5ZM481.0 106.5L482.3 97.1L486.1 97.7L484.5 107.1ZM484.3 107.0L485.9 97.7L489.7 98.4L487.8 107.7ZM494.1 109.1L496.5 99.9L500.2 101.0L497.5 110.1ZM497.3 110.0L500.0 100.9L503.6 102.0L500.7 111.1ZM503.7 112.1L506.8 103.1L510.4 104.4L507.0 113.3ZM506.8 113.2L510.2 104.3L513.8 105.8L510.1 114.5ZM555.4 147.6L562.7 141.5L565.1 144.4L557.7 150.4ZM557.5 150.2L565.0 144.3L567.3 147.3L559.7 153.0ZM559.6 152.9L567.2 147.1L569.5 150.2L561.7 155.7ZM561.6 155.5L569.3 150.0L571.5 153.2L563.6 158.5ZM568.7 166.8L577.0 162.2L578.9 165.6L570.4 170.0ZM570.3 169.8L578.8 165.4L580.5 168.8L571.9 173.0ZM571.8 172.8L580.4 168.6L582.0 172.1L573.3 176.0ZM582.0 278.0L590.7 281.9L589.0 285.7L580.4 281.5ZM580.5 281.3L589.1 285.4L587.2 289.1L578.8 284.7ZM578.9 284.5L587.4 288.9L585.4 292.5L577.1 287.9ZM558.1 313.9L565.1 320.4L562.2 323.3L555.5 316.6ZM555.6 316.5L562.4 323.2L559.4 326.0L552.9 319.1ZM553.0 319.0L559.6 325.9L556.6 328.7L550.2 321.6ZM550.4 321.4L556.8 328.5L553.6 331.2L547.5 323.9ZM493.4 351.1L495.6 360.4L491.6 361.3L489.7 351.9ZM489.9 351.9L491.8 361.2L487.8 362.0L486.2 352.6ZM486.4 352.6L488.0 361.9L484.0 362.6L482.6 353.2ZM461.3 354.5L461.0 364.0L456.9 363.9L457.4 354.3ZM457.6 354.4L457.2 363.9L453.1 363.6L453.8 354.1ZM454.0 354.1L453.3 363.6L449.2 363.2L450.2 353.8ZM439.8 352.2L438.0 361.6L433.9 360.7L436.0 351.4ZM436.2 351.5L434.2 360.8L430.2 359.8L432.5 350.6ZM432.7 350.7L430.4 359.9L426.4 358.9L429.0 349.7ZM422.3 347.6L419.3 356.6L415.4 355.2L418.7 346.3ZM405.7 340.6L401.4 349.1L397.8 347.2L402.3 338.9ZM399.4 337.2L394.6 345.5L391.1 343.4L396.1 335.2ZM396.3 335.4L391.3 343.5L387.8 341.3L393.1 333.3ZM393.2 333.4L388.0 341.4L384.6 339.1L390.1 331.3ZM337.6 252.3L328.3 254.3L327.4 250.3L336.8 248.5ZM336.9 248.8L327.5 250.5L326.8 246.4L336.2 245.0ZM336.2 245.2L326.8 246.7L326.3 242.6L335.7 241.4ZM428.8 100.8L426.2 91.6L430.1 90.6L432.5 99.8ZM432.2 99.9L429.9 90.6L433.9 89.7L436.0 99.0ZM435.7 99.0L433.7 89.7L437.7 88.9L439.5 98.2ZM460.8 95.9L460.5 86.4L464.6 86.4L464.6 95.9ZM464.4 95.9L464.4 86.4L468.5 86.4L468.2 96.0ZM468.0 96.0L468.3 86.4L472.4 86.6L471.8 96.1ZM482.3 97.2L483.7 87.8L487.7 88.4L486.1 97.8ZM485.9 97.8L487.5 88.4L491.5 89.1L489.7 98.5ZM496.5 100.0L498.8 90.8L502.8 91.9L500.2 101.0ZM506.8 103.2L510.0 94.2L513.8 95.6L510.4 104.5ZM562.6 141.5L569.9 135.4L572.5 138.6L565.0 144.5ZM581.8 171.9L590.5 168.0L592.1 171.8L583.3 175.4ZM583.3 175.2L592.0 171.5L593.6 175.4L584.7 178.8ZM602.2 237.2L611.7 238.0L611.3 242.3L601.8 241.2ZM601.8 241.0L611.3 242.1L610.7 246.4L601.3 245.1ZM601.3 244.8L610.8 246.2L610.1 250.5L600.7 248.9ZM600.0 252.5L609.4 254.3L608.4 258.6L599.2 256.5ZM577.2 305.4L585.0 310.9L582.4 314.4L574.8 308.7ZM574.9 308.5L582.6 314.2L579.9 317.7L572.4 311.7ZM570.1 314.5L577.4 320.7L574.5 324.0L567.4 317.6ZM567.6 317.5L574.7 323.8L571.7 327.0L564.8 320.5ZM562.3 323.1L569.0 329.8L565.9 332.9L559.3 326.0ZM472.7 363.7L473.2 373.2L468.9 373.4L468.5 363.9ZM461.1 363.9L460.8 373.4L456.5 373.3L456.9 363.8ZM394.7 345.4L389.9 353.6L386.2 351.4L391.2 343.3ZM391.4 343.4L386.4 351.5L382.7 349.1L387.9 341.2ZM388.1 341.3L382.9 349.3L379.2 346.8L384.7 339.0ZM381.7 336.9L376.1 344.6L372.6 341.9L378.5 334.4ZM375.6 332.2L369.6 339.5L366.2 336.6L372.5 329.5ZM372.7 329.6L366.4 336.8L363.2 333.9L369.6 326.9ZM369.8 327.1L363.4 334.0L360.2 331.0L366.8 324.2ZM367.0 324.4L360.4 331.2L357.3 328.1L364.1 321.5ZM364.3 321.7L357.4 328.3L354.4 325.1L361.5 318.7ZM361.6 318.8L354.6 325.3L351.7 322.0L358.9 315.8ZM343.5 293.9L335.2 298.6L333.1 294.7L341.5 290.3ZM336.6 280.0L327.8 283.8L326.1 279.7L335.0 276.2ZM326.4 242.8L317.0 244.0L316.5 239.7L325.9 238.7ZM326.0 239.0L316.5 239.9L316.1 235.6L325.6 234.9ZM325.6 235.1L316.1 235.8L315.9 231.4L325.4 231.0ZM341.3 160.4L332.9 155.9L335.0 152.1L343.3 156.8ZM351.5 144.0L343.8 138.4L346.4 134.9L354.0 140.7ZM369.4 123.7L362.9 116.7L366.2 113.8L372.5 120.9ZM372.3 121.1L366.0 114.0L369.3 111.1L375.4 118.4ZM375.2 118.6L369.1 111.3L372.6 108.5L378.4 116.0ZM483.7 87.9L485.0 78.4L489.3 79.1L487.7 88.5ZM487.5 88.5L489.1 79.1L493.4 79.9L491.5 89.2ZM491.3 89.2L493.2 79.8L497.5 80.8L495.3 90.0ZM502.6 91.9L505.2 82.8L509.4 84.1L506.5 93.1ZM527.7 101.9L532.0 93.5L535.9 95.6L531.3 103.9ZM531.1 103.8L535.7 95.4L539.5 97.6L534.7 105.8ZM534.4 105.7L539.3 97.5L543.0 99.8L538.0 107.8ZM610.0 250.3L619.4 251.9L618.5 256.5L609.2 254.6ZM609.3 254.3L618.6 256.2L617.6 260.8L608.3 258.6ZM608.4 258.4L617.7 260.5L616.6 265.0L607.3 262.6ZM607.4 262.4L616.6 264.8L615.4 269.3L606.2 266.6ZM606.3 266.4L615.5 269.0L614.1 273.5L605.0 270.5ZM605.1 270.3L614.2 273.2L612.7 277.6L603.7 274.5ZM603.8 274.2L612.8 277.4L611.2 281.8L602.3 278.3ZM602.4 278.1L611.3 281.5L609.5 285.8L600.8 282.2ZM600.9 281.9L609.6 285.6L607.8 289.9L599.1 286.0ZM593.7 296.8L602.0 301.4L599.7 305.5L591.5 300.6ZM591.6 300.4L599.8 305.2L597.4 309.2L589.4 304.2ZM589.5 303.9L597.6 309.0L595.0 312.9L587.1 307.6ZM580.0 317.4L587.4 323.3L584.4 327.0L577.2 320.8ZM577.3 320.6L584.6 326.7L581.6 330.3L574.5 323.9ZM574.6 323.7L581.7 330.1L578.6 333.5L571.7 327.0ZM566.0 332.6L572.6 339.5L569.1 342.7L562.8 335.6ZM556.7 340.8L562.6 348.2L558.9 351.1L553.2 343.5ZM456.7 373.2L456.3 382.7L451.6 382.4L452.3 372.9ZM436.2 370.7L434.4 380.1L429.9 379.1L431.9 369.8ZM432.2 369.9L430.1 379.2L425.6 378.1L427.9 368.9ZM428.2 368.9L425.9 378.2L421.3 377.0L423.9 367.8ZM390.0 353.5L385.2 361.8L381.2 359.4L386.2 351.3ZM382.9 349.2L377.7 357.2L373.9 354.6L379.3 346.8ZM360.4 331.1L353.8 337.9L350.5 334.6L357.3 328.0ZM351.9 322.1L344.7 328.3L341.7 324.8L349.1 318.7ZM349.3 318.9L341.9 325.0L339.0 321.3L346.6 315.5ZM346.7 315.7L339.2 321.5L336.4 317.8L344.1 312.2ZM344.2 312.4L336.5 318.0L333.8 314.2L341.7 308.8ZM341.8 309.0L334.0 314.4L331.4 310.5L339.4 305.4ZM339.6 305.6L331.6 310.8L329.1 306.8L337.2 301.9ZM333.3 294.9L324.9 299.4L322.7 295.2L331.3 291.0ZM327.9 283.7L319.2 287.5L317.4 283.2L326.2 279.7ZM317.6 248.1L308.2 249.6L307.6 245.0L317.0 243.8ZM317.1 244.0L307.6 245.2L307.1 240.6L316.6 239.7ZM316.6 239.9L307.1 240.9L306.7 236.2L316.2 235.5ZM316.2 235.8L306.7 236.5L306.5 231.8L316.0 231.4ZM400.4 91.4L396.4 82.8L400.6 80.8L404.4 89.6ZM404.2 89.7L400.4 80.9L404.7 79.1L408.2 87.9ZM408.0 88.0L404.4 79.2L408.8 77.5L412.1 86.4ZM493.1 79.9L495.0 70.6L499.6 71.6L497.4 80.9ZM509.1 84.1L512.0 75.0L516.5 76.5L513.3 85.5ZM553.0 106.7L558.7 99.1L562.4 102.0L556.4 109.4ZM559.4 111.9L565.6 104.6L569.1 107.7L562.7 114.8ZM621.0 238.8L630.5 239.6L630.0 244.5L620.5 243.4ZM620.5 243.1L630.0 244.2L629.4 249.1L619.9 247.8ZM618.5 256.2L627.8 258.0L626.8 262.9L617.5 260.7ZM616.5 264.7L625.7 267.1L624.4 271.9L615.3 269.2ZM615.4 269.0L624.5 271.6L623.1 276.3L614.0 273.4ZM614.1 273.2L623.2 276.1L621.6 280.8L612.6 277.6ZM607.8 289.6L616.5 293.5L614.4 298.0L605.8 293.8ZM599.8 305.2L608.0 310.0L605.4 314.2L597.3 309.2ZM512.6 375.1L515.5 384.2L510.8 385.6L508.1 376.5ZM508.4 376.4L511.1 385.5L506.3 386.9L503.9 377.6ZM504.1 377.6L506.6 386.8L501.8 388.0L499.6 378.7ZM460.7 382.7L460.4 392.3L455.5 392.1L456.0 382.6ZM456.3 382.6L455.8 392.1L450.9 391.8L451.6 382.3ZM451.9 382.3L451.1 391.8L446.2 391.3L447.2 381.9ZM421.6 377.0L419.1 386.1L414.3 384.7L417.2 375.6ZM417.4 375.7L414.6 384.8L409.9 383.3L413.0 374.3ZM413.2 374.4L410.2 383.4L405.5 381.7L408.8 372.8ZM397.0 367.8L392.9 376.4L388.5 374.2L392.8 365.7ZM393.0 365.9L388.7 374.4L384.3 372.1L388.9 363.7ZM344.8 328.3L337.6 334.5L334.4 330.7L341.8 324.7ZM342.0 324.9L334.6 330.9L331.5 327.0L339.1 321.2ZM339.3 321.5L331.7 327.3L328.7 323.3L336.5 317.7ZM321.0 291.5L312.4 295.5L310.4 291.0L319.1 287.2ZM309.9 258.2L300.6 260.2L299.7 255.3L309.0 253.6ZM308.3 249.6L298.9 251.0L298.2 246.1L307.7 244.9ZM307.7 245.2L298.3 246.4L297.7 241.5L307.2 240.6ZM307.2 240.9L297.7 241.8L297.3 236.9L306.8 236.2ZM306.8 236.5L297.3 237.2L297.1 232.2L306.6 231.8ZM317.4 167.6L308.5 164.1L310.4 159.5L319.1 163.2ZM421.0 73.6L418.5 64.4L423.2 63.2L425.6 72.4ZM425.3 72.5L423.0 63.2L427.8 62.1L429.8 71.4ZM429.6 71.4L427.5 62.1L432.3 61.1L434.1 70.5ZM512.0 75.1L514.9 66.0L519.6 67.6L516.4 76.6ZM516.2 76.5L519.3 67.5L524.0 69.2L520.5 78.1ZM528.4 81.4L532.3 72.7L536.8 74.8L532.6 83.4ZM575.2 113.6L581.9 106.8L585.4 110.4L578.5 116.9ZM537.1 375.4L541.2 383.9L536.5 386.1L532.6 377.5ZM532.8 377.3L536.8 386.0L532.0 388.1L528.3 379.3ZM515.5 384.1L518.4 393.1L513.4 394.7L510.7 385.5ZM511.0 385.4L513.7 394.6L508.7 396.0L506.3 386.8ZM506.5 386.7L509.0 395.9L503.9 397.1L501.7 387.9ZM492.9 389.7L494.5 399.0L489.4 399.9L488.0 390.5ZM474.4 391.9L475.0 401.4L469.8 401.6L469.5 392.1ZM469.8 392.1L470.1 401.6L464.9 401.7L464.8 392.2ZM401.5 380.0L397.9 388.9L393.1 386.8L396.9 378.1ZM388.8 374.3L384.5 382.8L379.8 380.4L384.4 372.0ZM384.6 372.1L380.1 380.5L375.5 377.9L380.3 369.7ZM329.0 323.5L321.3 329.1L318.3 324.8L326.1 319.4ZM326.3 319.7L318.5 325.1L315.6 320.7L323.6 315.6ZM323.7 315.8L315.7 321.0L313.0 316.5L321.1 311.6ZM304.2 273.7L295.1 276.5L293.7 271.4L302.8 269.0ZM302.9 269.2L293.7 271.7L292.4 266.7L301.7 264.4ZM301.8 264.7L292.5 267.0L291.3 261.9L300.7 259.9ZM298.4 246.4L288.9 247.6L288.3 242.4L297.8 241.5ZM297.4 237.2L287.9 237.8L287.6 232.6L297.2 232.2ZM487.7 59.9L489.0 50.5L494.2 51.3L492.6 60.7ZM492.3 60.6L493.9 51.2L499.0 52.2L497.1 61.5ZM496.8 61.5L498.7 52.1L503.8 53.2L501.7 62.5ZM514.9 66.1L517.8 57.1L522.7 58.7L519.6 67.7ZM639.8 240.4L649.2 241.2L648.7 246.7L639.2 245.6ZM638.6 250.2L648.1 251.5L647.2 257.0L637.8 255.3ZM637.9 255.0L647.3 256.6L646.2 262.1L636.9 260.2ZM602.1 335.0L609.5 340.9L606.0 345.2L598.8 339.0ZM589.0 349.7L595.7 356.4L591.8 360.3L585.2 353.3ZM499.4 398.0L501.3 407.4L495.9 408.4L494.2 399.0ZM489.7 399.7L491.1 409.2L485.6 409.9L484.5 400.4ZM484.8 400.4L485.9 409.8L480.4 410.4L479.6 400.9ZM479.9 400.9L480.8 410.4L475.3 410.8L474.7 401.3ZM475.0 401.3L475.6 410.8L470.1 411.0L469.8 401.5ZM470.1 401.5L470.4 411.0L464.9 411.1L464.9 401.6ZM465.2 401.6L465.2 411.1L459.7 411.1L459.9 401.6ZM455.3 401.4L454.9 410.9L449.4 410.6L450.1 401.1ZM450.4 401.1L449.7 410.6L444.2 410.1L445.2 400.6ZM440.6 400.1L439.4 409.5L433.9 408.7L435.5 399.3ZM402.5 390.6L399.2 399.5L394.1 397.5L397.7 388.7ZM388.9 384.8L384.9 393.5L379.9 391.0L384.2 382.5ZM380.2 380.4L375.6 388.8L370.8 386.1L375.6 377.9ZM371.6 375.5L366.6 383.6L362.0 380.7L367.2 372.7ZM363.4 370.1L358.0 377.9L353.5 374.7L359.1 367.1ZM359.4 367.3L353.8 374.9L349.4 371.6L355.2 364.1ZM355.5 364.3L349.6 371.8L345.3 368.3L351.4 361.0ZM313.2 316.8L305.1 321.7L302.3 316.9L310.6 312.2ZM310.7 312.5L302.4 317.2L299.8 312.4L308.2 307.9ZM308.3 308.2L299.9 312.7L297.4 307.8L305.9 303.6ZM295.2 276.4L286.1 279.2L284.6 273.9L293.8 271.4ZM292.6 267.0L283.4 269.2L282.1 263.8L291.4 261.9ZM287.7 218.2L278.2 217.8L278.5 212.3L288.0 212.9ZM288.0 213.3L278.5 212.6L279.0 207.1L288.4 208.0ZM351.1 89.6L345.0 82.3L349.3 78.9L355.2 86.3ZM354.9 86.5L349.1 79.1L353.4 75.7L359.1 83.4ZM474.3 49.1L474.9 39.6L480.4 40.0L479.5 49.5ZM479.2 49.4L480.0 40.0L485.5 40.5L484.4 50.0ZM484.1 49.9L485.2 40.5L490.7 41.2L489.3 50.6ZM489.0 50.6L490.3 41.1L495.8 42.0L494.2 51.4ZM493.9 51.3L495.5 42.0L500.9 43.0L499.0 52.3ZM498.7 52.2L500.6 42.9L506.0 44.1L503.8 53.3ZM549.3 70.8L553.9 62.5L558.7 65.2L553.8 73.4ZM610.4 126.8L618.3 121.4L621.3 126.1L613.2 131.1ZM613.1 130.9L621.1 125.8L624.0 130.5L615.8 135.3ZM615.6 135.1L623.8 130.2L626.6 135.0L618.2 139.6ZM649.8 225.7L659.3 225.7L659.2 231.5L649.7 231.2ZM649.7 230.9L659.3 231.2L659.0 236.9L649.5 236.4ZM649.5 236.0L659.0 236.6L658.6 242.4L649.1 241.5ZM649.1 241.2L658.6 242.0L658.0 247.8L648.6 246.7ZM648.6 246.4L658.1 247.5L657.3 253.2L647.9 251.8ZM648.0 251.5L657.4 252.9L656.5 258.6L647.1 256.9ZM576.2 373.4L581.9 381.0L577.2 384.4L571.7 376.6ZM572.0 376.4L577.5 384.2L572.8 387.5L567.5 379.6ZM454.9 410.8L454.4 420.3L448.6 419.9L449.4 410.5ZM449.7 410.5L449.0 420.0L443.2 419.4L444.2 410.0ZM444.5 410.0L443.5 419.5L437.8 418.8L439.1 409.4ZM439.4 409.4L438.1 418.8L432.4 418.0L433.9 408.6ZM434.3 408.6L432.7 418.0L427.0 417.0L428.8 407.7ZM394.4 397.5L390.9 406.3L385.5 404.1L389.3 395.4ZM366.7 383.5L361.7 391.6L356.8 388.5L362.1 380.6ZM358.0 377.9L352.6 385.7L347.9 382.3L353.5 374.6ZM353.8 374.8L348.2 382.5L343.6 379.0L349.4 371.5ZM349.7 371.7L343.8 379.2L339.3 375.6L345.4 368.3ZM313.8 334.6L306.1 340.2L302.7 335.5L310.6 330.1ZM310.8 330.4L302.9 335.7L299.7 330.9L307.7 325.8ZM307.9 326.0L299.9 331.2L296.8 326.3L305.0 321.4ZM297.7 308.0L289.1 312.3L286.6 307.1L295.3 303.1ZM291.3 293.8L282.5 297.4L280.4 292.0L289.4 288.7ZM286.2 279.2L277.1 281.9L275.5 276.4L284.7 273.9ZM284.7 274.2L275.6 276.7L274.1 271.1L283.4 268.9ZM283.4 269.2L274.2 271.4L272.9 265.8L282.2 263.8ZM278.2 228.1L268.7 228.3L268.7 222.5L278.2 222.6ZM278.2 223.0L268.7 222.9L268.8 217.1L278.3 217.5ZM283.3 181.9L274.0 179.7L275.5 174.1L284.6 176.6ZM297.3 143.0L288.8 138.8L291.4 133.6L299.8 138.1ZM302.2 133.8L293.9 129.2L296.8 124.2L305.0 129.1ZM337.3 89.2L330.8 82.3L335.1 78.4L341.4 85.6ZM370.5 64.6L365.7 56.4L370.8 53.5L375.3 61.9ZM375.0 62.0L370.5 53.7L375.6 51.0L379.9 59.5ZM379.6 59.6L375.3 51.1L380.5 48.6L384.6 57.2ZM403.5 49.5L400.4 40.5L405.9 38.7L408.7 47.8ZM639.1 163.0L648.1 159.9L650.0 165.3L640.9 168.3ZM640.8 167.9L649.8 165.0L651.5 170.5L642.4 173.2ZM642.3 172.9L651.5 170.2L653.0 175.8L643.8 178.2Z" fill="#fbdfe3" stroke="#fbdfe3" stroke-width="0.3" stroke-linejoin="round"/>
<path d="M370.0 188.2L361.1 184.8L362.3 181.7L371.1 185.5ZM371.0 185.6L362.3 181.9L363.6 178.9L372.2 182.9ZM372.2 183.0L363.5 179.1L364.9 176.1L373.5 180.3ZM387.3 159.4L380.1 153.2L382.3 150.7L389.3 157.2ZM389.2 157.3L382.1 150.9L384.4 148.5L391.2 155.1ZM423.2 132.7L419.4 124.0L422.4 122.8L426.0 131.6ZM505.3 133.0L509.2 124.3L512.2 125.7L508.0 134.2ZM507.9 134.2L512.0 125.6L514.9 127.1L510.5 135.5ZM541.1 159.8L548.3 153.7L550.4 156.2L543.0 162.1ZM542.8 162.0L550.3 156.0L552.3 158.6L544.7 164.4ZM546.2 166.5L554.0 161.0L555.9 163.7L547.9 169.0ZM574.5 225.5L584.0 225.5L583.9 229.1L574.4 228.8ZM574.4 228.6L583.9 228.9L583.8 232.4L574.3 231.8ZM574.3 231.6L583.8 232.2L583.5 235.7L574.0 234.9ZM573.4 240.8L582.8 242.2L582.2 245.7L572.8 244.1ZM572.9 243.9L582.3 245.5L581.6 249.0L572.3 247.1ZM571.7 249.9L580.9 252.1L580.1 255.5L570.9 253.1ZM560.7 278.6L569.0 283.2L567.3 286.3L559.1 281.4ZM559.2 281.3L567.4 286.1L565.5 289.1L557.5 284.1ZM528.2 315.1L533.7 322.9L530.8 324.9L525.5 317.0ZM520.5 320.2L525.3 328.3L522.2 330.1L517.6 321.8ZM506.7 327.1L510.4 335.9L507.1 337.2L503.7 328.3ZM503.9 328.2L507.3 337.1L504.0 338.3L500.8 329.4ZM360.1 187.7L351.1 184.4L352.4 181.1L361.3 184.6ZM361.2 184.8L352.3 181.3L353.7 178.0L362.4 181.8ZM362.4 181.9L353.6 178.2L355.0 175.0L363.7 178.9ZM400.7 134.7L395.2 126.9L398.1 124.9L403.4 132.9ZM405.8 131.3L400.8 123.2L403.8 121.4L408.6 129.6ZM473.5 115.1L474.4 105.7L477.9 106.0L476.8 115.5ZM506.3 123.2L510.0 114.4L513.2 115.8L509.3 124.5ZM509.2 124.4L513.0 115.7L516.3 117.2L512.1 125.8ZM557.4 166.1L565.4 161.0L567.3 164.1L559.1 168.9ZM582.2 245.5L591.5 247.1L590.8 250.9L581.5 249.0ZM581.6 248.8L590.9 250.6L590.1 254.4L580.8 252.2ZM579.2 258.5L588.3 261.1L587.2 264.8L578.1 261.9ZM577.1 264.9L586.1 268.0L584.8 271.6L575.9 268.2ZM576.0 268.0L584.9 271.4L583.5 275.0L574.7 271.3ZM533.7 322.8L539.2 330.5L536.0 332.7L530.7 324.8ZM491.3 341.9L493.5 351.2L489.7 352.0L487.8 342.7ZM488.0 342.7L489.9 352.0L486.2 352.7L484.5 343.3ZM484.7 343.3L486.4 352.7L482.6 353.3L481.2 343.8ZM474.8 344.6L475.7 354.1L471.8 354.4L471.3 344.9ZM352.4 181.3L343.6 177.9L345.0 174.3L353.8 178.1ZM353.7 178.2L344.9 174.5L346.5 171.0L355.1 175.0ZM355.0 175.2L346.4 171.2L348.0 167.8L356.6 172.0ZM356.5 172.2L347.9 168.0L349.7 164.5L358.1 169.0ZM359.6 166.3L351.3 161.6L353.2 158.3L361.4 163.2ZM387.3 133.1L381.2 125.8L384.2 123.3L390.0 130.8ZM389.9 131.0L384.0 123.5L387.0 121.2L392.7 128.8ZM392.5 128.9L386.9 121.3L390.0 119.1L395.4 126.9ZM403.7 121.6L398.9 113.4L402.3 111.5L406.8 119.8ZM406.6 119.9L402.1 111.6L405.4 109.8L409.8 118.3ZM409.6 118.4L405.2 109.9L408.7 108.2L412.8 116.8ZM412.6 116.9L408.5 108.3L412.0 106.7L415.8 115.4ZM415.6 115.5L411.8 106.8L415.3 105.3L418.9 114.1ZM421.8 113.0L418.4 104.1L422.1 102.8L425.1 111.8ZM428.1 110.8L425.3 101.7L428.9 100.6L431.5 109.8ZM434.5 109.0L432.2 99.8L435.9 98.9L438.0 108.2ZM490.8 108.4L493.0 99.1L496.7 100.0L494.3 109.2ZM500.5 111.0L503.4 101.9L507.1 103.2L503.9 112.1ZM563.5 158.3L571.4 153.0L573.5 156.2L565.4 161.3ZM565.3 161.1L573.4 156.0L575.4 159.3L567.2 164.1ZM592.8 236.3L602.3 237.2L601.9 241.3L592.4 240.2ZM592.5 239.9L601.9 241.0L601.4 245.1L592.0 243.7ZM592.0 243.5L601.4 244.9L600.8 248.9L591.4 247.3ZM533.2 334.5L538.3 342.5L534.7 344.7L529.9 336.5ZM335.7 241.6L326.3 242.8L325.8 238.8L335.3 237.8ZM335.3 238.0L325.9 239.0L325.5 234.9L335.0 234.2ZM335.0 234.5L325.5 235.1L325.3 231.0L334.8 230.6ZM348.0 168.0L339.5 163.8L341.4 160.1L349.8 164.6ZM349.7 164.8L341.2 160.3L343.2 156.7L351.5 161.4ZM351.4 161.6L343.1 156.9L345.2 153.4L353.3 158.3ZM353.2 158.5L345.1 153.6L347.2 150.1L355.2 155.3ZM355.1 155.5L347.1 150.3L349.4 146.9L357.2 152.3ZM357.1 152.4L349.2 147.1L351.6 143.7L359.3 149.3ZM365.9 141.0L358.6 134.8L361.4 131.7L368.4 138.1ZM368.2 138.3L361.2 131.9L364.0 128.9L370.9 135.5ZM370.7 135.7L363.8 129.1L366.7 126.1L373.4 132.9ZM381.3 125.8L375.2 118.5L378.4 115.9L384.2 123.4ZM384.1 123.6L378.2 116.1L381.4 113.6L387.1 121.2ZM386.9 121.4L381.2 113.7L384.6 111.3L390.0 119.1ZM408.5 108.4L404.4 99.8L408.2 98.1L412.0 106.8ZM411.8 106.9L408.0 98.2L411.7 96.6L415.3 105.4ZM489.4 98.4L491.3 89.1L495.3 90.0L493.2 99.2ZM493.0 99.2L495.1 89.9L499.1 90.9L496.7 100.1ZM499.9 101.0L502.6 91.8L506.5 93.0L503.6 102.1ZM584.6 178.6L593.5 175.1L594.9 179.0L585.9 182.2ZM602.7 225.6L612.2 225.6L612.2 230.0L602.7 229.7ZM602.7 229.4L612.2 229.7L612.0 234.1L602.5 233.5ZM602.5 233.3L612.0 233.9L611.7 238.2L602.2 237.4ZM600.7 248.7L610.1 250.3L609.3 254.6L600.0 252.7ZM598.3 260.0L607.5 262.4L606.3 266.6L597.2 264.0ZM597.3 263.7L606.4 266.4L605.1 270.6L596.1 267.7ZM596.1 267.4L605.2 270.3L603.8 274.5L594.8 271.3ZM579.4 302.2L587.3 307.5L584.8 311.1L577.1 305.6ZM572.6 311.6L580.0 317.5L577.2 320.9L570.0 314.7ZM556.7 328.4L563.0 335.5L559.7 338.4L553.6 331.1ZM553.8 331.0L559.9 338.2L556.5 341.0L550.6 333.6ZM550.8 333.4L556.7 340.9L553.3 343.6L547.5 336.0ZM495.6 360.3L497.8 369.6L493.5 370.5L491.6 361.2ZM491.8 361.1L493.7 370.4L489.4 371.3L487.8 361.9ZM488.0 361.8L489.7 371.2L485.3 371.9L483.9 362.5ZM484.2 362.5L485.6 371.9L481.2 372.4L480.1 363.0ZM476.5 363.4L477.4 372.8L473.0 373.2L472.4 363.7ZM468.8 363.8L469.1 373.4L464.7 373.4L464.7 363.9ZM464.9 363.9L465.0 373.4L460.6 373.4L460.8 363.9ZM457.2 363.8L456.7 373.3L452.3 373.0L453.1 363.5ZM453.3 363.5L452.6 373.0L448.2 372.6L449.2 363.1ZM449.5 363.2L448.5 372.6L444.1 372.1L445.4 362.7ZM445.6 362.7L444.4 372.1L440.0 371.5L441.6 362.1ZM423.0 357.7L420.2 366.8L416.0 365.5L419.1 356.5ZM415.7 355.2L412.3 364.2L408.3 362.6L411.8 353.7ZM412.1 353.8L408.5 362.7L404.4 361.0L408.3 352.2ZM408.5 352.3L404.7 361.1L400.7 359.2L404.7 350.6ZM384.9 339.2L379.5 347.0L375.9 344.4L381.5 336.8ZM339.8 287.0L331.3 291.3L329.4 287.3L338.0 283.3ZM338.1 283.6L329.5 287.6L327.7 283.5L336.5 279.8ZM335.1 276.4L326.2 280.0L324.7 275.9L333.6 272.6ZM339.6 163.8L331.0 159.6L333.0 155.7L341.5 160.2ZM343.2 157.0L334.9 152.3L337.1 148.5L345.3 153.4ZM366.6 126.4L359.9 119.6L363.1 116.6L369.6 123.5ZM495.1 90.0L497.2 80.7L501.5 81.8L499.1 91.0ZM498.8 90.9L501.2 81.7L505.4 82.9L502.8 92.0ZM599.2 285.7L607.9 289.6L605.9 293.9L597.4 289.7ZM595.6 293.2L604.1 297.5L601.9 301.7L593.6 297.0ZM559.9 338.2L566.0 345.4L562.4 348.4L556.5 340.9ZM543.2 350.4L548.3 358.4L544.3 360.9L539.5 352.7ZM539.7 352.5L544.6 360.7L540.5 363.1L535.9 354.7ZM536.1 354.6L540.8 362.9L536.7 365.1L532.3 356.7ZM497.7 369.5L499.9 378.7L495.3 379.7L493.4 370.4ZM493.7 370.3L495.6 379.7L491.0 380.5L489.4 371.2ZM489.6 371.1L491.3 380.5L486.7 381.2L485.3 371.8ZM460.9 373.3L460.6 382.8L456.0 382.7L456.5 373.2ZM452.6 372.9L451.9 382.4L447.2 382.0L448.2 372.5ZM448.5 372.5L447.5 382.0L442.9 381.4L444.1 372.0ZM444.4 372.0L443.1 381.5L438.5 380.8L440.0 371.4ZM440.3 371.4L438.8 380.8L434.2 380.0L436.0 370.7ZM369.6 339.4L363.6 346.8L360.0 343.7L366.3 336.6ZM366.5 336.7L360.2 343.9L356.8 340.8L363.2 333.8ZM363.4 334.0L357.0 341.0L353.6 337.7L360.2 330.9ZM337.4 302.1L329.2 307.0L326.9 303.0L335.1 298.3ZM335.3 298.5L327.0 303.2L324.7 299.1L333.2 294.7ZM319.1 256.2L309.8 258.2L308.9 253.6L318.3 251.9ZM318.3 252.2L309.0 253.9L308.2 249.3L317.6 247.9ZM316.0 231.7L306.5 232.1L306.3 227.4L315.9 227.3ZM315.9 227.6L306.3 227.7L306.3 223.0L315.9 223.2ZM315.9 223.4L306.3 223.3L306.5 218.6L316.0 219.0ZM363.0 116.8L356.5 109.8L360.0 106.7L366.3 113.9ZM542.8 99.7L547.8 91.7L551.7 94.2L546.4 102.1ZM549.6 104.3L555.1 96.5L558.9 99.3L553.2 106.9ZM556.2 109.3L562.2 101.8L565.8 104.8L559.6 112.0ZM621.5 230.0L631.0 230.3L630.8 235.2L621.3 234.7ZM621.3 234.4L630.8 235.0L630.4 239.9L621.0 239.1ZM601.9 301.4L610.3 306.0L607.8 310.3L599.6 305.4ZM597.5 308.9L605.5 314.0L602.8 318.2L594.9 312.9ZM595.1 312.6L603.0 317.9L600.2 322.0L592.4 316.5ZM592.6 316.3L600.4 321.8L597.4 325.7L589.8 320.0ZM590.0 319.8L597.6 325.5L594.6 329.4L587.2 323.5ZM587.3 323.3L594.8 329.2L591.6 333.0L584.4 326.9ZM584.5 326.7L591.8 332.8L588.6 336.5L581.5 330.2ZM581.7 330.0L588.8 336.3L585.4 340.0L578.5 333.4ZM578.7 333.2L585.6 339.8L582.2 343.3L575.4 336.6ZM575.6 336.4L582.4 343.1L578.8 346.6L572.3 339.7ZM572.5 339.5L579.1 346.4L575.4 349.7L569.1 342.6ZM409.1 372.9L405.8 381.8L401.2 380.0L404.7 371.2ZM405.0 371.3L401.4 380.1L396.9 378.2L400.7 369.5ZM389.1 363.8L384.6 372.2L380.3 369.8L385.0 361.6ZM385.3 361.7L380.5 369.9L376.3 367.4L381.3 359.3ZM377.8 357.1L372.6 365.1L368.5 362.3L373.9 354.5ZM363.6 346.7L357.6 354.0L353.8 350.8L360.1 343.6ZM357.0 340.9L350.6 347.9L347.0 344.5L353.6 337.7ZM350.7 334.7L343.9 341.4L340.5 337.8L347.5 331.3ZM347.7 331.5L340.7 338.0L337.4 334.3L344.6 328.1ZM336.6 317.9L328.9 323.6L326.1 319.5L333.9 314.1ZM334.1 314.4L326.2 319.7L323.5 315.6L331.5 310.5ZM331.6 310.7L323.6 315.9L321.0 311.7L329.2 306.7ZM329.3 307.0L321.2 311.9L318.7 307.7L326.9 303.0ZM327.1 303.2L318.8 307.9L316.4 303.6L324.8 299.1ZM325.0 299.3L316.6 303.8L314.3 299.4L322.8 295.2ZM323.0 295.4L314.4 299.7L312.3 295.2L320.9 291.2ZM319.3 287.5L310.5 291.2L308.6 286.7L317.5 283.2ZM317.6 283.4L308.7 286.9L307.0 282.3L315.9 279.0ZM316.0 279.3L307.1 282.6L305.4 277.9L314.5 274.9ZM314.6 275.2L305.5 278.2L304.0 273.5L313.1 270.7ZM313.2 271.0L304.1 273.7L302.7 269.0L311.9 266.5ZM312.0 266.7L302.8 269.3L301.6 264.5L310.8 262.2ZM310.9 262.5L301.7 264.7L300.6 259.9L309.9 257.9ZM309.1 253.9L299.7 255.6L298.9 250.8L308.3 249.3ZM306.6 232.1L297.1 232.5L296.9 227.6L306.4 227.4ZM319.0 163.5L310.3 159.8L312.3 155.2L320.9 159.2ZM320.8 159.5L312.1 155.5L314.3 151.0L322.8 155.3ZM344.4 122.6L337.2 116.4L340.5 112.7L347.5 119.1ZM350.3 116.1L343.5 109.5L346.9 106.0L353.6 112.8ZM363.2 104.1L357.1 96.8L360.9 93.7L366.8 101.2ZM366.6 101.3L360.7 93.9L364.6 90.9L370.3 98.5ZM370.1 98.7L364.4 91.0L368.4 88.1L373.9 96.0ZM520.3 78.0L523.7 69.1L528.3 71.0L524.6 79.8ZM541.2 373.3L545.6 381.7L540.9 384.1L536.8 375.5ZM465.1 392.2L465.2 401.7L459.9 401.7L460.2 392.1ZM405.8 381.7L402.5 390.7L397.6 388.8L401.2 379.9ZM397.2 378.2L393.4 387.0L388.6 384.8L392.7 376.2ZM392.9 376.3L388.9 384.9L384.2 382.6L388.5 374.1ZM297.8 241.8L288.4 242.7L287.9 237.5L297.4 236.9ZM519.3 67.6L522.4 58.6L527.3 60.4L523.9 69.3ZM639.3 245.3L648.7 246.4L648.0 251.8L638.6 250.5ZM637.0 259.9L646.3 261.7L645.1 267.1L635.9 265.0ZM635.9 264.7L645.2 266.8L643.9 272.2L634.7 269.8ZM620.7 306.1L629.2 310.5L626.6 315.4L618.3 310.7ZM599.0 338.8L606.2 344.9L602.6 349.1L595.5 342.8ZM595.7 342.5L602.8 348.9L599.1 352.9L592.2 346.4ZM532.2 387.9L535.9 396.7L530.8 398.7L527.4 389.8ZM518.4 393.0L521.3 402.1L516.0 403.7L513.4 394.6ZM513.7 394.5L516.4 403.6L511.1 405.1L508.6 395.9ZM508.9 395.8L511.4 405.0L506.0 406.3L503.9 397.0ZM504.2 397.0L506.3 406.2L501.0 407.4L499.1 398.1ZM494.5 398.9L496.2 408.3L490.7 409.2L489.4 399.8ZM460.2 401.6L460.0 411.1L454.5 410.9L455.0 401.4ZM430.9 398.5L429.1 407.8L423.8 406.7L425.8 397.4ZM426.1 397.5L424.1 406.8L418.7 405.5L421.0 396.3ZM421.3 396.4L419.0 405.6L413.7 404.2L416.3 395.0ZM398.0 388.8L394.4 397.6L389.3 395.5L393.1 386.7ZM393.4 386.9L389.6 395.6L384.6 393.3L388.7 384.7ZM384.5 382.7L380.2 391.2L375.3 388.6L379.9 380.3ZM375.9 378.0L371.1 386.3L366.4 383.4L371.4 375.3ZM367.5 372.9L362.3 380.8L357.7 377.7L363.1 369.9ZM351.6 361.2L345.6 368.5L341.4 365.0L347.7 357.8ZM347.9 358.0L341.6 365.2L337.5 361.5L344.0 354.5ZM344.2 354.7L337.8 361.7L333.8 357.9L340.5 351.1ZM340.7 351.3L334.0 358.1L330.1 354.2L337.0 347.6ZM337.2 347.8L330.4 354.5L326.6 350.5L333.6 344.0ZM333.8 344.3L326.8 350.7L323.1 346.6L330.4 340.4ZM321.4 329.0L313.7 334.6L310.5 330.1L318.4 324.8ZM318.5 325.0L310.7 330.4L307.6 325.8L315.7 320.7ZM315.8 320.9L307.8 326.1L304.9 321.4L313.0 316.5ZM306.1 303.8L297.6 308.1L295.2 303.1L303.8 299.1ZM304.0 299.4L295.3 303.4L293.1 298.4L301.8 294.6ZM301.9 294.9L293.2 298.7L291.1 293.6L300.0 290.1ZM293.8 271.7L284.6 274.2L283.3 268.9L292.5 266.7ZM288.4 208.3L278.9 207.4L279.5 202.0L289.0 203.2ZM358.8 83.6L353.2 75.9L357.6 72.7L363.1 80.5ZM531.6 62.2L535.2 53.5L540.3 55.6L536.4 64.3ZM540.6 66.3L544.7 57.7L549.6 60.2L545.2 68.6ZM591.9 103.7L598.9 97.2L602.6 101.2L595.5 107.6ZM595.3 107.4L602.4 101.0L606.0 105.2L598.7 111.3ZM598.5 111.1L605.8 104.9L609.3 109.2L601.8 115.1ZM588.2 363.5L594.5 370.6L590.1 374.4L584.0 367.1ZM584.2 366.9L590.4 374.1L585.9 377.8L580.0 370.4ZM580.2 370.2L586.2 377.6L581.6 381.2L575.9 373.6ZM567.7 379.4L573.0 387.3L568.2 390.4L563.1 382.4ZM549.9 390.0L554.3 398.4L549.2 401.0L545.0 392.4ZM545.3 392.3L549.5 400.9L544.2 403.3L540.3 394.6ZM540.6 394.5L544.5 403.2L539.2 405.5L535.6 396.7ZM460.0 411.0L459.8 420.5L454.1 420.3L454.5 410.8ZM429.2 407.7L427.4 417.1L421.7 415.9L423.8 406.6ZM424.1 406.7L422.0 416.0L416.4 414.7L418.7 405.4ZM419.0 405.5L416.7 414.7L411.1 413.3L413.7 404.1ZM414.0 404.2L411.5 413.4L405.9 411.7L408.8 402.6ZM409.1 402.7L406.3 411.8L400.7 410.0L403.8 401.0ZM399.3 399.4L395.9 408.3L390.5 406.2L394.1 397.4ZM389.6 395.5L385.8 404.2L380.6 401.8L384.6 393.2ZM371.2 386.2L366.4 394.4L361.4 391.5L366.4 383.4ZM362.3 380.7L357.1 388.7L352.3 385.5L357.8 377.7ZM345.6 368.5L339.6 375.8L335.2 372.0L341.4 364.9ZM341.7 365.1L335.4 372.3L331.1 368.4L337.6 361.4ZM337.8 361.6L331.4 368.6L327.2 364.6L333.9 357.8ZM334.1 358.1L327.4 364.9L323.4 360.8L330.2 354.2ZM330.4 354.4L323.6 361.0L319.6 356.8L326.7 350.4ZM326.9 350.6L319.9 357.0L316.0 352.7L323.2 346.5ZM323.4 346.8L316.2 353.0L312.5 348.5L319.9 342.5ZM320.1 342.8L312.7 348.8L309.1 344.3L316.7 338.5ZM316.9 338.7L309.3 344.5L305.9 339.9L313.6 334.3ZM305.2 321.6L297.0 326.6L294.1 321.6L302.4 316.9ZM302.5 317.2L294.3 321.9L291.5 316.8L299.9 312.4ZM300.0 312.6L291.6 317.1L289.0 312.0L297.5 307.7ZM295.4 303.4L286.8 307.4L284.4 302.1L293.2 298.3ZM293.3 298.6L284.6 302.4L282.3 297.0L291.2 293.5ZM289.5 289.0L280.5 292.3L278.6 286.8L287.7 283.8ZM287.8 284.1L278.7 287.1L277.0 281.6L286.1 278.9ZM278.3 233.3L268.8 233.7L268.7 228.0L278.2 227.8ZM299.7 138.4L291.3 133.9L294.1 128.9L302.3 133.6ZM341.2 85.8L334.9 78.6L339.3 74.9L345.3 82.2ZM345.1 82.4L339.0 75.1L343.5 71.4L349.4 78.9ZM349.1 79.1L343.2 71.7L347.8 68.1L353.5 75.8ZM353.2 76.0L347.6 68.3L352.3 65.0L357.7 72.8ZM398.6 51.3L395.2 42.4L400.7 40.4L403.8 49.4ZM408.4 47.9L405.5 38.8L411.1 37.2L413.7 46.3ZM535.2 53.5L538.8 44.8L544.2 47.1L540.2 55.7ZM540.0 55.6L543.8 46.9L549.1 49.4L544.9 57.9ZM544.7 57.8L548.8 49.2L554.0 51.8L549.6 60.2Z" fill="#f6bcc7" stroke="#f6bcc7" stroke-width="0.3" stroke-linejoin="round"/>
<path d="M391.1 155.2L384.2 148.6L386.5 146.3L393.2 153.1ZM524.7 144.4L530.4 136.8L533.0 138.8L527.0 146.2ZM526.9 146.1L532.8 138.7L535.4 140.7L529.2 148.0ZM529.1 147.9L535.2 140.6L537.7 142.8L531.4 149.9ZM531.2 149.8L537.6 142.6L540.0 144.9L533.4 151.8ZM537.3 155.6L544.2 149.1L546.4 151.5L539.3 157.8ZM544.6 164.2L552.2 158.5L554.1 161.1L546.3 166.6ZM547.9 168.8L555.8 163.5L557.5 166.2L549.5 171.3ZM557.6 283.9L565.6 289.0L563.7 292.0L555.8 286.7ZM408.4 129.7L403.6 121.5L406.7 119.8L411.3 128.1ZM452.0 115.4L451.0 105.9L454.5 105.6L455.3 115.1ZM470.5 114.9L471.0 105.4L474.6 105.7L473.7 115.2ZM476.6 115.5L477.7 106.0L481.2 106.5L479.8 115.9ZM479.7 115.8L481.0 106.4L484.5 107.0L482.9 116.4ZM485.7 116.9L487.6 107.6L491.1 108.3L488.9 117.6ZM488.7 117.5L490.9 108.3L494.3 109.1L491.9 118.3ZM491.7 118.3L494.1 109.1L497.5 110.0L494.9 119.1ZM497.6 120.0L500.5 110.9L503.9 112.0L500.8 121.0ZM500.6 121.0L503.7 112.0L507.1 113.2L503.6 122.1ZM503.5 122.0L506.9 113.1L510.2 114.4L506.5 123.2ZM511.9 125.7L516.1 117.1L519.3 118.7L514.9 127.1ZM555.7 163.6L563.6 158.2L565.5 161.2L557.5 166.3ZM580.8 252.0L590.1 254.2L589.2 257.9L580.0 255.5ZM578.2 261.7L587.3 264.6L586.0 268.2L577.1 265.1ZM574.7 271.1L583.5 274.8L582.0 278.3L573.3 274.4ZM501.0 339.3L503.9 348.3L500.2 349.4L497.6 340.3ZM497.8 340.2L500.4 349.4L496.7 350.4L494.3 341.2ZM494.5 341.1L497.0 350.3L493.2 351.3L491.1 342.0ZM358.0 169.2L349.6 164.7L351.4 161.4L359.7 166.1ZM375.2 144.6L368.2 138.2L370.8 135.4L377.7 142.0ZM395.3 127.0L389.8 119.2L393.0 117.0L398.2 125.0ZM398.0 125.1L392.8 117.2L396.0 115.1L401.0 123.2ZM418.7 114.2L415.1 105.4L418.7 104.0L422.0 112.9ZM487.6 107.7L489.5 98.3L493.2 99.1L491.1 108.4ZM567.1 163.9L575.2 159.1L577.2 162.4L568.8 167.0ZM542.0 328.3L547.8 335.9L544.5 338.3L539.0 330.6ZM539.1 330.4L544.7 338.2L541.3 340.5L536.0 332.6ZM536.2 332.5L541.5 340.4L538.0 342.6L533.0 334.6ZM530.1 336.3L535.0 344.5L531.4 346.6L526.8 338.3ZM527.0 338.1L531.6 346.5L528.0 348.4L523.6 340.0ZM335.3 212.8L325.8 211.9L326.3 207.9L335.7 209.0ZM336.8 202.1L327.4 200.4L328.2 196.4L337.5 198.4ZM341.2 184.7L332.2 181.7L333.5 177.8L342.5 181.1ZM343.7 177.9L334.8 174.4L336.4 170.6L345.1 174.4ZM345.0 174.6L336.3 170.8L337.9 167.1L346.6 171.1ZM346.5 171.3L337.8 167.3L339.6 163.6L348.1 167.8ZM415.1 105.5L411.5 96.7L415.4 95.2L418.7 104.1ZM475.2 96.4L476.0 86.9L480.1 87.3L479.0 96.8ZM478.7 96.7L479.8 87.3L483.9 87.8L482.5 97.2ZM599.2 256.2L608.5 258.4L607.4 262.6L598.2 260.2ZM480.4 363.0L481.5 372.4L477.1 372.9L476.3 363.4ZM441.8 362.1L440.3 371.5L436.0 370.8L437.8 361.4ZM438.0 361.5L436.2 370.8L431.9 369.9L434.0 360.6ZM434.2 360.7L432.2 370.0L427.9 369.0L430.2 359.8ZM430.4 359.8L428.1 369.0L423.9 367.9L426.5 358.8ZM426.7 358.8L424.1 368.0L419.9 366.7L422.8 357.7ZM419.3 356.5L416.2 365.5L412.1 364.1L415.4 355.2ZM378.7 334.6L372.8 342.1L369.4 339.3L375.5 332.0ZM333.7 272.8L324.8 276.1L323.3 272.0L332.4 269.0ZM332.4 269.2L323.4 272.2L322.1 268.0L331.2 265.3ZM597.5 289.5L606.1 293.6L604.0 297.8L595.5 293.4ZM563.0 335.4L569.3 342.5L565.8 345.6L559.7 338.3ZM473.2 373.1L473.8 382.6L469.2 382.8L468.9 373.3ZM469.1 373.3L469.4 382.8L464.8 382.9L464.7 373.3ZM343.9 138.5L336.2 132.9L339.0 129.1L346.5 134.9ZM346.4 135.1L338.8 129.4L341.7 125.7L349.1 131.7ZM348.9 131.9L341.5 125.9L344.5 122.3L351.7 128.5ZM351.6 128.7L344.3 122.5L347.4 119.0L354.5 125.4ZM357.1 122.6L350.2 116.0L353.5 112.7L360.2 119.5ZM360.0 119.7L353.3 112.9L356.7 109.7L363.2 116.6ZM366.1 114.0L359.8 106.9L363.3 103.9L369.4 111.2ZM369.2 111.4L363.1 104.0L366.7 101.1L372.6 108.6ZM372.4 108.8L366.5 101.3L370.2 98.4L375.9 106.1ZM375.7 106.2L370.0 98.6L373.8 95.9L379.3 103.7ZM546.2 102.0L551.5 94.0L555.4 96.7L549.8 104.5ZM621.6 225.6L631.1 225.6L631.0 230.6L621.5 230.3ZM401.0 369.6L397.1 378.3L392.6 376.3L396.7 367.7ZM381.5 359.4L376.5 367.6L372.3 364.9L377.6 356.9ZM360.3 343.8L354.0 351.0L350.3 347.7L356.8 340.7ZM353.8 337.9L347.2 344.7L343.7 341.2L350.6 334.6ZM306.4 223.3L296.9 223.2L297.1 218.2L306.6 218.6ZM347.3 119.3L340.3 112.9L343.7 109.3L350.5 115.9ZM356.6 109.9L350.1 103.0L353.8 99.6L360.0 106.8ZM359.8 107.0L353.5 99.8L357.3 96.6L363.4 103.9ZM547.8 91.7L552.8 83.7L557.0 86.4L551.7 94.3ZM551.5 94.1L556.7 86.2L560.8 89.0L555.3 96.8ZM555.1 96.6L560.6 88.8L564.6 91.8L558.8 99.4ZM553.3 366.3L558.4 374.3L553.9 377.1L549.1 368.9ZM549.3 368.7L554.2 376.9L549.7 379.5L545.1 371.2ZM380.6 369.9L375.8 378.1L371.3 375.4L376.3 367.3ZM372.6 365.0L367.4 372.9L363.1 370.0L368.5 362.2ZM523.6 69.2L527.1 60.3L531.9 62.3L528.2 71.1ZM528.0 71.0L531.6 62.2L536.4 64.2L532.5 72.9ZM532.3 72.8L536.1 64.1L540.9 66.3L536.7 74.9ZM536.5 74.8L540.6 66.2L545.3 68.5L540.9 77.0ZM544.7 79.0L549.4 70.7L553.9 73.3L549.0 81.5ZM548.8 81.3L553.6 73.1L558.1 75.9L553.0 83.9ZM625.0 297.3L633.7 301.2L631.4 306.2L622.8 302.0ZM622.9 301.7L631.5 305.9L629.1 310.8L620.6 306.4ZM574.4 362.8L580.3 370.3L576.0 373.6L570.2 366.0ZM570.5 365.9L576.2 373.4L571.8 376.7L566.3 368.9ZM558.4 374.3L563.4 382.3L558.7 385.2L553.9 377.0ZM554.2 376.8L559.0 385.0L554.2 387.8L549.6 379.4ZM549.9 379.3L554.5 387.6L549.7 390.2L545.3 381.8ZM527.6 389.7L531.1 398.6L525.9 400.5L522.7 391.5ZM416.6 395.1L414.0 404.3L408.7 402.7L411.6 393.6ZM411.8 393.7L409.0 402.8L403.8 401.1L406.9 392.1ZM407.2 392.2L404.1 401.2L398.9 399.4L402.2 390.4ZM288.9 203.5L279.5 202.3L280.2 196.8L289.7 198.3ZM289.6 198.6L280.2 197.2L281.1 191.7L290.5 193.4ZM290.4 193.7L281.1 192.0L282.1 186.6L291.4 188.6ZM536.1 64.2L540.0 55.5L545.0 57.8L540.8 66.4ZM643.9 271.8L653.1 274.2L651.6 279.8L642.4 277.1ZM642.5 276.8L651.7 279.5L650.0 285.0L640.9 282.1ZM641.0 281.8L650.1 284.7L648.2 290.2L639.3 287.0ZM639.4 286.7L648.3 289.8L646.4 295.3L637.5 291.9ZM629.1 310.5L637.6 314.8L634.8 319.9L626.5 315.3ZM626.7 315.0L635.0 319.6L632.1 324.7L623.9 319.8ZM624.1 319.5L632.3 324.4L629.3 329.3L621.2 324.2ZM621.4 324.0L629.5 329.0L626.3 333.9L618.4 328.6ZM618.6 328.3L626.5 333.6L623.2 338.4L615.5 332.8ZM615.7 332.6L623.4 338.1L620.0 342.8L612.4 337.0ZM612.6 336.8L620.2 342.5L616.7 347.1L609.2 341.1ZM599.3 352.6L606.2 359.1L602.2 363.3L595.4 356.6ZM595.7 356.3L602.4 363.1L598.3 367.1L591.7 360.2ZM592.0 360.0L598.5 366.9L594.3 370.8L587.9 363.7ZM404.1 401.1L401.1 410.1L395.6 408.2L399.0 399.3ZM384.9 393.4L380.9 402.0L375.7 399.4L380.0 391.0ZM380.3 391.1L376.0 399.6L370.9 396.9L375.4 388.5ZM375.7 388.7L371.2 397.1L366.1 394.2L370.9 386.0ZM333.6 92.8L326.9 86.0L331.1 82.0L337.6 89.0Z" fill="#ea8aa2" stroke="#ea8aa2" stroke-width="0.3" stroke-linejoin="round"/>
<path d="M533.3 151.7L539.8 144.7L542.2 147.0L535.4 153.7ZM535.3 153.6L542.0 146.9L544.3 149.2L537.4 155.8ZM539.2 157.7L546.3 151.3L548.4 153.8L541.2 160.0ZM549.4 171.2L557.4 166.1L559.1 168.9L551.0 173.7ZM550.9 173.6L559.0 168.7L560.7 171.5L552.4 176.2ZM552.3 176.0L560.6 171.4L562.1 174.3L553.7 178.6ZM553.6 178.5L562.0 174.1L563.5 177.0L555.0 181.2ZM554.9 181.0L563.4 176.8L564.8 179.8L556.1 183.7ZM556.1 183.6L564.7 179.6L566.1 182.6L557.3 186.3ZM557.2 186.1L566.0 182.5L567.2 185.5L558.3 188.9ZM558.2 188.8L567.1 185.3L568.3 188.4L559.3 191.6ZM559.2 191.4L568.2 188.2L569.3 191.3L560.2 194.2ZM560.1 194.1L569.2 191.1L570.2 194.3L561.0 196.9ZM561.0 196.8L570.1 194.1L571.0 197.2L561.8 199.6ZM411.1 128.2L406.6 119.9L409.7 118.2L414.0 126.7ZM413.8 126.8L409.5 118.3L412.7 116.7L416.8 125.3ZM416.6 125.4L412.5 116.8L415.8 115.3L419.6 124.1ZM419.4 124.1L415.6 115.4L418.8 114.0L422.4 122.9ZM422.2 122.9L418.6 114.1L422.0 112.8L425.3 121.7ZM425.1 121.8L421.8 112.9L425.1 111.7L428.2 120.7ZM428.0 120.8L424.9 111.8L428.3 110.6L431.1 119.7ZM430.9 119.8L428.1 110.7L431.5 109.7L434.1 118.9ZM433.9 118.9L431.3 109.8L434.7 108.8L437.0 118.1ZM436.9 118.1L434.5 108.9L438.0 108.1L440.0 117.4ZM439.9 117.4L437.8 108.1L441.3 107.4L443.1 116.7ZM442.9 116.8L441.1 107.4L444.6 106.8L446.1 116.2ZM445.9 116.2L444.3 106.8L447.9 106.3L449.1 115.7ZM449.0 115.8L447.7 106.3L451.2 105.9L452.2 115.4ZM455.1 115.1L454.3 105.6L457.9 105.4L458.3 114.9ZM458.1 114.9L457.6 105.4L461.2 105.2L461.4 114.8ZM461.2 114.8L461.0 105.2L464.5 105.2L464.5 114.7ZM464.3 114.7L464.3 105.2L467.9 105.3L467.6 114.8ZM467.4 114.8L467.7 105.3L471.2 105.4L470.7 114.9ZM482.7 116.3L484.3 106.9L487.8 107.6L485.9 116.9ZM494.7 119.1L497.3 109.9L500.7 111.0L497.8 120.0ZM559.0 168.8L567.1 163.9L568.9 167.0L560.6 171.6ZM400.8 123.3L395.8 115.2L399.1 113.2L403.9 121.5ZM334.8 230.9L325.3 231.3L325.2 227.2L334.7 227.0ZM334.7 227.3L325.2 227.4L325.2 223.3L334.7 223.4ZM334.7 223.6L325.2 223.5L325.3 219.4L334.8 219.8ZM334.8 220.0L325.3 219.7L325.5 215.6L335.0 216.2ZM335.0 216.4L325.5 215.8L325.8 211.7L335.3 212.6ZM335.7 209.3L326.2 208.1L326.8 204.0L336.2 205.5ZM336.2 205.7L326.8 204.3L327.4 200.2L336.8 201.9ZM337.5 198.6L328.1 196.6L329.0 192.6L338.3 194.9ZM338.2 195.1L329.0 192.9L330.0 188.9L339.2 191.4ZM339.1 191.6L329.9 189.1L331.1 185.2L340.2 187.9ZM340.1 188.1L331.0 185.4L332.2 181.5L341.3 184.5ZM342.4 181.3L333.4 178.0L334.9 174.2L343.7 177.7ZM471.6 96.1L472.1 86.6L476.2 86.9L475.4 96.4ZM331.3 265.5L322.1 268.3L320.9 264.0L330.1 261.5ZM330.2 261.8L321.0 264.3L319.9 260.0L329.2 257.8ZM329.2 258.0L320.0 260.3L319.0 256.0L328.3 254.0ZM328.3 254.3L319.0 256.3L318.2 252.0L327.5 250.2ZM327.6 250.5L318.2 252.2L317.5 247.9L326.9 246.4ZM326.9 246.7L317.5 248.1L316.9 243.8L326.4 242.6ZM485.6 371.8L486.9 381.2L482.3 381.8L481.2 372.3ZM481.5 372.3L482.6 381.8L477.9 382.3L477.1 372.8ZM477.4 372.7L478.2 382.2L473.6 382.6L473.0 373.1ZM465.0 373.3L465.0 382.9L460.4 382.8L460.6 373.3ZM337.1 148.8L328.9 143.9L331.4 139.9L339.4 145.1ZM339.2 145.3L331.2 140.2L333.8 136.3L341.7 141.6ZM341.5 141.8L333.7 136.5L336.3 132.7L344.0 138.3ZM354.3 125.6L347.2 119.2L350.4 115.8L357.3 122.4ZM306.4 227.7L296.9 227.9L296.9 222.9L306.4 223.0ZM353.4 113.0L346.7 106.2L350.3 102.8L356.8 109.7ZM558.6 99.2L564.3 91.6L568.3 94.6L562.3 102.1ZM562.1 101.9L568.0 94.4L571.9 97.6L565.7 104.9ZM565.5 104.7L571.6 97.4L575.4 100.6L569.0 107.7ZM545.3 371.1L549.9 379.4L545.3 381.9L541.0 373.4ZM376.6 367.5L371.6 375.6L367.2 372.8L372.4 364.8ZM540.6 76.8L545.0 68.4L549.6 70.8L545.0 79.2ZM552.8 83.8L557.8 75.7L562.2 78.5L556.9 86.5ZM556.7 86.3L562.0 78.4L566.3 81.3L560.8 89.1ZM560.5 88.9L566.0 81.2L570.2 84.2L564.5 91.8ZM581.9 356.5L588.2 363.5L584.1 367.2L577.9 359.9ZM578.2 359.7L584.3 367.0L580.1 370.5L574.1 363.0ZM566.5 368.8L572.0 376.5L567.5 379.6L562.2 371.7ZM562.5 371.6L567.8 379.5L563.2 382.5L558.1 374.4ZM545.6 381.6L550.0 390.1L545.0 392.5L540.9 384.0ZM541.2 383.8L545.3 392.4L540.3 394.7L536.4 386.1ZM536.7 385.9L540.6 394.6L535.6 396.8L531.9 388.0ZM523.0 391.4L526.2 400.4L521.0 402.2L518.1 393.1ZM637.6 291.6L646.5 295.0L644.3 300.3L635.5 296.7ZM635.7 296.4L644.5 300.0L642.2 305.3L633.5 301.4ZM633.6 301.1L642.3 305.0L639.9 310.3L631.3 306.1ZM631.4 305.8L640.0 310.0L637.4 315.1L629.0 310.7ZM609.4 340.9L616.9 346.8L613.2 351.3L606.0 345.1ZM606.2 344.9L613.4 351.0L609.7 355.4L602.6 349.0ZM602.8 348.8L609.9 355.1L606.0 359.4L599.0 352.9Z" fill="#d93a6b" stroke="#d93a6b" stroke-width="0.3" stroke-linejoin="round"/></g>
<path d="M561.79 226.90L557.23 226.83M561.70 229.63L557.14 229.42M557.23 226.83A93.24 93.24 0 0 1 557.14 229.42M557.19 228.12L555.33 228.07M561.54 232.35L555.13 231.88M555.33 228.07A91.38 91.38 0 0 1 555.13 231.88M560.99 237.78L556.38 237.18M560.60 240.48L556.01 239.75M556.38 237.18A93.15 93.15 0 0 1 556.01 239.75M561.30 235.07L555.18 234.45M556.20 238.47L554.72 238.25M555.18 234.45A91.65 91.65 0 0 1 554.72 238.25M558.98 248.50L554.70 247.44M558.30 251.14L554.04 249.96M554.70 247.44A93.38 93.38 0 0 1 554.04 249.96M559.60 245.84L553.06 244.43M554.38 248.71L552.18 248.14M553.06 244.43A91.11 91.11 0 0 1 552.18 248.14M560.14 243.17L551.89 241.62M552.64 246.29L550.99 245.89M551.89 241.62A89.41 89.41 0 0 1 550.99 245.89M554.97 236.35L550.35 235.79M551.47 243.76L549.10 243.26M550.35 235.79A86.99 86.99 0 0 1 549.10 243.26M557.54 253.75L553.05 252.38M556.71 256.35L552.26 254.86M553.05 252.38A93.11 93.11 0 0 1 552.26 254.86M555.80 258.92L551.67 257.41M554.83 261.47L550.74 259.84M551.67 257.41A93.40 93.40 0 0 1 550.74 259.84M552.66 253.62L549.12 252.49M551.21 258.63L547.46 257.19M549.12 252.49A89.38 89.38 0 0 1 547.46 257.19M548.32 254.85L546.91 254.35M553.78 263.99L544.68 260.06M546.91 254.35A87.88 87.88 0 0 1 544.68 260.06M552.66 266.48L548.72 264.64M551.48 268.93L547.59 266.99M548.72 264.64A93.45 93.45 0 0 1 547.59 266.99M548.16 265.82L546.54 265.03M550.22 271.35L544.80 268.45M546.54 265.03A91.65 91.65 0 0 1 544.80 268.45M548.90 273.74L545.31 271.68M547.52 276.09L543.98 273.93M545.31 271.68A93.65 93.65 0 0 1 543.98 273.93M544.65 272.81L542.54 271.57M546.07 278.40L540.53 274.81M542.54 271.57A91.20 91.20 0 0 1 540.53 274.81M545.69 266.75L542.79 265.28M541.55 273.20L539.17 271.72M542.79 265.28A88.40 88.40 0 0 1 539.17 271.72M544.55 280.67L541.16 278.33M542.97 282.89L539.65 280.46M541.16 278.33A93.68 93.68 0 0 1 539.65 280.46M540.41 279.40L538.36 277.95M541.33 285.07L536.09 281.01M538.36 277.95A91.17 91.17 0 0 1 536.09 281.01M537.88 289.29L534.53 286.39M536.06 291.32L532.80 288.33M534.53 286.39A93.38 93.38 0 0 1 532.80 288.33M539.63 287.20L534.40 282.91M533.67 287.36L531.92 285.80M534.40 282.91A91.03 91.03 0 0 1 531.92 285.80M532.26 295.24L529.23 292.13M530.28 297.11L527.34 293.92M529.23 292.13A93.46 93.46 0 0 1 527.34 293.92M534.19 293.30L529.66 288.91M528.29 293.03L526.94 291.60M529.66 288.91A91.49 91.49 0 0 1 526.94 291.60M533.17 284.37L530.39 281.99M528.32 290.27L525.42 287.34M530.39 281.99A87.37 87.37 0 0 1 525.42 287.34M537.24 279.49L532.98 276.33M527.96 284.72L526.86 283.69M532.98 276.33A85.87 85.87 0 0 1 526.86 283.69M541.05 268.54L535.81 265.59M530.03 280.10L527.35 277.88M535.81 265.59A82.39 82.39 0 0 1 527.35 277.88M545.84 257.22L539.33 254.67M531.86 271.93L530.62 271.07M539.33 254.67A80.89 80.89 0 0 1 530.62 271.07M549.81 239.54L542.30 238.28M535.45 263.13L534.12 262.42M542.30 238.28A79.39 79.39 0 0 1 534.12 262.42M555.25 229.98L541.78 229.27M539.19 250.68L537.77 250.20M541.78 229.27A77.89 77.89 0 0 1 537.77 250.20M528.25 298.93L525.33 295.58M526.17 300.69L523.35 297.26M525.33 295.58A93.36 93.36 0 0 1 523.35 297.26M524.35 296.43L523.23 295.11M524.04 302.40L520.25 297.52M523.23 295.11A91.62 91.62 0 0 1 520.25 297.52M519.65 305.63L517.16 302.03M517.38 307.15L515.00 303.48M517.16 302.03A93.43 93.43 0 0 1 515.00 303.48M512.73 309.99L510.59 306.26M510.35 311.32L508.31 307.53M510.59 306.26A93.50 93.50 0 0 1 508.31 307.53M515.08 308.60L511.91 303.44M509.45 306.90L508.60 305.37M511.91 303.44A91.74 91.74 0 0 1 508.60 305.37M510.27 304.42L509.51 303.12M507.93 312.58L504.54 305.82M509.51 303.12A90.24 90.24 0 0 1 504.54 305.82M516.08 302.76L512.95 298.10M507.04 304.51L505.89 302.38M512.95 298.10A87.81 87.81 0 0 1 505.89 302.38M521.87 304.04L515.07 294.78M509.47 300.33L508.69 299.04M515.07 294.78A86.31 86.31 0 0 1 508.69 299.04M502.99 314.89L501.12 310.59M500.48 315.94L498.73 311.59M501.12 310.59A93.11 93.11 0 0 1 498.73 311.59M505.48 313.77L502.77 307.99M499.93 311.10L499.27 309.53M502.77 307.99A91.41 91.41 0 0 1 499.27 309.53M501.03 308.78L500.20 306.91M497.93 316.93L495.01 309.02M500.20 306.91A89.37 89.37 0 0 1 495.01 309.02M497.62 308.01L497.06 306.62M495.36 317.84L492.18 308.43M497.06 306.62A87.87 87.87 0 0 1 492.18 308.43M492.77 318.67L491.46 314.44M490.15 319.44L488.96 315.17M491.46 314.44A93.37 93.37 0 0 1 488.96 315.17M490.22 314.82L489.72 313.12M487.51 320.13L486.02 314.12M489.72 313.12A91.60 91.60 0 0 1 486.02 314.12M484.85 320.75L483.98 316.75M482.18 321.29L481.42 317.27M483.98 316.75A93.70 93.70 0 0 1 481.42 317.27M479.50 321.76L478.76 317.19M476.80 322.16L476.19 317.57M478.76 317.19A93.17 93.17 0 0 1 476.19 317.57M482.70 317.02L482.05 313.79M477.48 317.39L477.08 314.66M482.05 313.79A90.41 90.41 0 0 1 477.08 314.66M471.37 322.72L471.05 318.41M468.65 322.89L468.45 318.57M471.05 318.41A93.48 93.48 0 0 1 468.45 318.57M474.09 322.48L473.44 316.20M469.75 318.50L469.63 316.52M473.44 316.20A91.49 91.49 0 0 1 469.63 316.52M471.53 316.38L471.41 314.89M465.93 322.98L465.77 315.17M471.41 314.89A89.99 89.99 0 0 1 465.77 315.17M479.57 314.26L478.83 310.04M468.59 315.07L468.40 311.21M478.83 310.04A86.12 86.12 0 0 1 468.40 311.21M463.20 323.00L463.24 318.49M460.47 322.94L460.64 318.43M463.24 318.49A93.29 93.29 0 0 1 460.64 318.43M457.75 322.80L458.04 318.20M455.03 322.59L455.45 318.00M458.04 318.20A93.19 93.19 0 0 1 455.45 318.00M461.94 318.47L462.02 314.60M456.75 318.11L457.04 314.35M462.02 314.60A89.42 89.42 0 0 1 457.04 314.35M446.92 321.50L447.65 317.43M444.25 320.98L445.08 316.94M447.65 317.43A93.67 93.67 0 0 1 445.08 316.94M449.62 321.94L450.50 315.97M446.36 317.19L446.72 315.33M450.50 315.97A91.77 91.77 0 0 1 446.72 315.33M452.32 322.30L453.22 314.82M448.61 315.67L448.86 314.19M453.22 314.82A90.27 90.27 0 0 1 448.86 314.19M459.53 314.51L459.65 312.02M451.03 314.53L451.51 311.23M459.65 312.02A86.93 86.93 0 0 1 451.51 311.23M438.94 319.73L440.03 315.62M436.31 319.00L437.52 314.92M440.03 315.62A93.54 93.54 0 0 1 437.52 314.92M441.58 320.40L443.03 314.27M438.77 315.28L439.32 313.31M443.03 314.27A91.50 91.50 0 0 1 439.32 313.31M455.57 311.72L455.78 309.58M441.17 313.81L442.85 307.30M455.78 309.58A84.78 84.78 0 0 1 442.85 307.30M473.63 310.78L473.27 307.54M449.27 308.69L449.60 306.80M473.27 307.54A82.86 82.86 0 0 1 449.60 306.80M487.88 313.64L485.21 303.75M461.41 308.02L461.46 306.52M485.21 303.75A81.36 81.36 0 0 1 461.46 306.52M494.63 307.56L491.84 300.05M473.43 306.01L473.26 304.52M491.84 300.05A79.86 79.86 0 0 1 473.26 304.52M511.93 296.98L507.51 290.37M482.68 302.84L482.33 301.39M507.51 290.37A78.36 78.36 0 0 1 482.33 301.39M433.71 318.19L435.00 314.22M431.13 317.31L432.53 313.38M435.00 314.22A93.62 93.62 0 0 1 432.53 313.38M433.76 313.81L434.51 311.61M428.57 316.36L430.92 310.30M434.51 311.61A91.31 91.31 0 0 1 430.92 310.30M495.41 296.99L494.81 295.62M432.71 310.98L437.66 297.41M494.81 295.62A76.86 76.86 0 0 1 437.66 297.41M423.54 314.24L425.45 310.05M421.08 313.08L423.10 308.94M425.45 310.05A93.20 93.20 0 0 1 423.10 308.94M426.04 315.33L428.49 309.52M424.27 309.50L424.99 307.97M428.49 309.52A91.50 91.50 0 0 1 424.99 307.97M413.89 309.18L416.03 305.59M411.56 307.75L413.81 304.22M416.03 305.59A93.61 93.61 0 0 1 413.81 304.22M416.25 310.55L419.55 304.65M414.92 304.91L416.26 302.72M419.55 304.65A91.04 91.04 0 0 1 416.26 302.72M418.64 311.85L422.47 304.53M417.89 303.70L418.65 302.41M422.47 304.53A89.54 89.54 0 0 1 418.65 302.41M420.55 303.49L421.28 302.18M409.28 306.26L414.74 298.17M421.28 302.18A88.04 88.04 0 0 1 414.74 298.17M404.85 303.08L407.35 299.79M402.70 301.40L405.29 298.19M407.35 299.79A93.67 93.67 0 0 1 405.29 298.19M406.31 299.00L407.97 296.88M400.60 299.67L405.02 294.47M407.97 296.88A90.98 90.98 0 0 1 405.02 294.47M407.04 304.70L411.95 297.86M406.48 295.69L407.49 294.45M411.95 297.86A89.38 89.38 0 0 1 407.49 294.45M409.69 296.19L410.60 295.00M398.55 297.87L405.19 290.50M410.60 295.00A87.88 87.88 0 0 1 405.19 290.50M394.60 294.11L397.74 290.99M392.70 292.15L395.93 289.12M397.74 290.99A93.37 93.37 0 0 1 395.93 289.12M390.87 290.13L394.07 287.29M389.08 288.07L392.36 285.32M394.07 287.29A93.52 93.52 0 0 1 392.36 285.32M396.83 290.06L399.13 287.84M393.21 286.31L395.74 284.13M399.13 287.84A90.18 90.18 0 0 1 395.74 284.13M396.55 296.02L402.84 289.41M397.40 286.01L398.51 285.00M402.84 289.41A88.68 88.68 0 0 1 398.51 285.00M407.85 292.80L409.27 291.09M400.64 287.24L402.80 285.13M409.27 291.09A85.66 85.66 0 0 1 402.80 285.13M417.97 300.25L421.00 295.30M405.96 288.19L408.27 285.68M421.00 295.30A82.24 82.24 0 0 1 408.27 285.68M387.36 285.95L391.03 283.04M385.70 283.79L389.45 280.99M391.03 283.04A93.11 93.11 0 0 1 389.45 280.99M390.23 282.02L391.42 281.10M384.09 281.59L389.15 278.02M391.42 281.10A91.61 91.61 0 0 1 389.15 278.02M382.55 279.34L386.09 276.99M381.07 277.05L384.67 274.80M386.09 276.99A93.56 93.56 0 0 1 384.67 274.80M378.31 272.34L381.94 270.35M377.03 269.94L380.71 268.04M381.94 270.35A93.66 93.66 0 0 1 380.71 268.04M381.32 269.20L383.40 268.09M375.82 267.49L381.67 264.69M383.40 268.09A91.31 91.31 0 0 1 381.67 264.69M379.66 274.71L386.55 270.67M382.52 266.40L383.86 265.72M386.55 270.67A89.81 89.81 0 0 1 383.86 265.72M385.37 275.90L389.78 273.05M385.17 268.22L386.48 267.50M389.78 273.05A88.31 88.31 0 0 1 386.48 267.50M390.27 279.57L395.13 275.99M388.08 270.31L390.43 268.91M395.13 275.99A85.58 85.58 0 0 1 390.43 268.91M414.40 290.80L415.31 289.60M392.69 272.51L396.72 269.84M415.31 289.60A80.74 80.74 0 0 1 396.72 269.84M426.73 308.76L431.73 297.57M405.18 280.51L406.27 279.48M431.73 297.57A79.24 79.24 0 0 1 406.27 279.48M466.41 302.02L466.36 300.52M418.10 289.79L420.35 286.63M466.36 300.52A75.36 75.36 0 0 1 420.35 286.63M521.75 296.33L510.56 282.54M442.22 297.34L442.65 295.91M510.56 282.54A73.86 73.86 0 0 1 442.65 295.91M373.60 262.51L377.84 260.76M372.59 259.98L376.88 258.35M377.84 260.76A93.21 93.21 0 0 1 376.88 258.35M370.80 254.83L374.87 253.53M370.01 252.22L374.12 251.04M374.87 253.53A93.52 93.52 0 0 1 374.12 251.04M371.66 257.42L377.78 255.28M374.48 252.29L376.60 251.65M377.78 255.28A91.32 91.32 0 0 1 376.60 251.65M369.29 249.59L373.28 248.56M368.65 246.94L372.67 246.02M373.28 248.56A93.68 93.68 0 0 1 372.67 246.02M377.17 253.47L380.02 252.54M372.96 247.29L378.18 246.03M380.02 252.54A88.32 88.32 0 0 1 378.18 246.03M377.35 259.56L383.30 257.20M379.04 249.30L380.48 248.89M383.30 257.20A86.82 86.82 0 0 1 380.48 248.89M374.67 265.02L386.08 259.94M381.78 253.08L383.20 252.60M386.08 259.94A85.32 85.32 0 0 1 383.20 252.60M478.26 297.67L477.97 296.20M384.56 256.30L396.62 251.58M477.97 296.20A72.36 72.36 0 0 1 396.62 251.58M367.16 238.89L371.32 238.31M366.82 236.19L370.99 235.72M371.32 238.31A93.60 93.60 0 0 1 370.99 235.72M366.55 233.47L371.18 233.08M366.36 230.75L370.99 230.49M371.18 233.08A93.16 93.16 0 0 1 370.99 230.49M366.24 228.03L370.90 227.90M366.20 225.30L370.86 225.30M370.90 227.90A93.14 93.14 0 0 1 370.86 225.30M371.08 231.79L374.80 231.52M370.87 226.60L374.59 226.54M374.80 231.52A89.42 89.42 0 0 1 374.59 226.54M371.15 237.01L377.04 236.26M374.66 229.03L376.42 228.96M377.04 236.26A87.66 87.66 0 0 1 376.42 228.96M367.58 241.59L379.06 239.64M376.66 232.62L378.15 232.49M379.06 239.64A86.16 86.16 0 0 1 378.15 232.49M368.08 244.27L380.97 241.71M378.53 236.07L380.02 235.88M380.97 241.71A84.66 84.66 0 0 1 380.02 235.88M366.24 222.58L370.43 222.69M366.35 219.85L370.53 220.08M370.43 222.69A93.61 93.61 0 0 1 370.53 220.08M366.53 217.13L370.98 217.50M366.80 214.42L371.23 214.91M370.98 217.50A93.34 93.34 0 0 1 371.23 214.91M371.09 216.20L373.39 216.43M367.13 211.71L373.84 212.64M373.39 216.43A91.03 91.03 0 0 1 373.84 212.64M370.47 221.38L375.80 221.60M373.60 214.53L376.34 214.86M375.80 221.60A88.27 88.27 0 0 1 376.34 214.86M367.55 209.02L372.04 209.77M368.04 206.33L372.51 207.21M372.04 209.77A93.24 93.24 0 0 1 372.51 207.21M368.60 203.66L372.62 204.57M369.24 201.01L373.23 202.03M372.62 204.57A93.68 93.68 0 0 1 373.23 202.03M372.27 208.49L375.75 209.12M372.92 203.30L376.79 204.23M375.75 209.12A89.70 89.70 0 0 1 376.79 204.23M376.00 218.22L378.83 218.45M376.24 206.67L380.40 207.55M378.83 218.45A85.44 85.44 0 0 1 380.40 207.55M369.95 198.38L374.11 199.57M370.73 195.77L374.86 197.07M374.11 199.57A93.47 93.47 0 0 1 374.86 197.07M371.59 193.18L375.78 194.63M372.52 190.62L376.67 192.18M375.78 194.63A93.36 93.36 0 0 1 376.67 192.18M374.48 198.32L378.39 199.49M376.22 193.40L379.95 194.76M378.39 199.49A89.39 89.39 0 0 1 379.95 194.76M379.14 197.11L380.56 197.58M373.52 188.08L382.69 191.84M380.56 197.58A87.89 87.89 0 0 1 382.69 191.84M374.59 185.57L378.80 187.44M375.73 183.09L379.89 185.07M378.80 187.44A93.20 93.20 0 0 1 379.89 185.07M376.94 180.65L380.65 182.55M378.21 178.24L381.87 180.24M380.65 182.55A93.63 93.63 0 0 1 381.87 180.24M379.56 175.86L383.20 177.99M380.96 173.53L384.55 175.76M383.20 177.99A93.58 93.58 0 0 1 384.55 175.76M381.25 181.39L384.92 183.33M383.87 176.87L387.38 178.99M384.92 183.33A89.48 89.48 0 0 1 387.38 178.99M379.33 186.25L384.07 188.43M386.12 181.14L387.42 181.88M384.07 188.43A87.98 87.98 0 0 1 387.42 181.88M383.97 168.98L387.78 171.65M385.57 166.77L389.30 169.55M387.78 171.65A93.15 93.15 0 0 1 389.30 169.55M382.44 171.23L387.57 174.63M388.53 170.60L389.75 171.47M387.57 174.63A91.65 91.65 0 0 1 389.75 171.47M385.68 185.12L387.72 186.16M388.64 173.04L393.54 176.43M387.72 186.16A85.69 85.69 0 0 1 393.54 176.43M381.57 194.69L385.05 195.98M390.47 181.20L391.76 181.97M385.05 195.98A84.19 84.19 0 0 1 391.76 181.97M387.23 164.61L390.48 167.17M388.95 162.49L392.13 165.14M390.48 167.17A93.66 93.66 0 0 1 392.13 165.14M390.73 160.42L394.14 163.44M392.56 158.40L395.89 161.52M394.14 163.44A93.24 93.24 0 0 1 395.89 161.52M394.45 156.44L397.36 159.32M396.40 154.53L399.23 157.48M397.36 159.32A93.71 93.71 0 0 1 399.23 157.48M398.29 158.39L399.90 160.04M398.39 152.67L402.68 157.41M399.90 160.04A91.40 91.40 0 0 1 402.68 157.41M395.01 162.47L398.27 165.44M401.28 158.71L403.04 160.58M398.27 165.44A88.84 88.84 0 0 1 403.04 160.58M391.30 166.15L396.21 170.14M400.61 162.96L401.68 164.01M396.21 170.14A87.34 87.34 0 0 1 401.68 164.01M388.08 188.82L389.85 189.67M398.87 167.01L402.69 170.42M389.85 189.67A82.22 82.22 0 0 1 402.69 170.42M400.44 150.87L403.25 154.16M402.54 149.12L405.26 152.49M403.25 154.16A93.47 93.47 0 0 1 405.26 152.49M404.25 153.32L405.64 154.99M404.68 147.44L408.63 152.61M405.64 154.99A91.30 91.30 0 0 1 408.63 152.61M407.12 153.78L408.33 155.31M406.88 145.82L411.81 152.67M408.33 155.31A89.35 89.35 0 0 1 411.81 152.67M395.59 179.59L396.84 180.42M410.06 153.97L415.27 160.85M396.84 180.42A80.72 80.72 0 0 1 415.27 160.85M379.44 212.97L385.60 213.86M405.23 169.86L406.32 170.89M385.60 213.86A79.22 79.22 0 0 1 406.32 170.89M380.44 238.80L387.29 237.69M392.65 190.78L394.00 191.43M387.29 237.69A77.72 77.72 0 0 1 394.00 191.43M411.39 142.76L413.80 146.54M413.71 141.32L416.02 145.17M413.80 146.54A93.31 93.31 0 0 1 416.02 145.17M409.11 144.26L412.80 149.70M414.90 145.85L416.01 147.63M412.80 149.70A91.22 91.22 0 0 1 416.01 147.63M414.39 148.65L415.21 149.91M416.07 139.95L420.03 147.00M415.21 149.91A89.72 89.72 0 0 1 420.03 147.00M418.46 138.65L420.57 142.66M420.89 137.41L422.89 141.48M420.57 142.66A93.26 93.26 0 0 1 422.89 141.48M421.73 142.07L422.45 143.49M423.36 136.24L425.91 141.83M422.45 143.49A91.66 91.66 0 0 1 425.91 141.83M417.60 148.41L419.18 151.04M424.17 142.64L426.35 147.15M419.18 151.04A86.66 86.66 0 0 1 426.35 147.15M428.38 134.12L429.95 138.13M430.93 133.16L432.39 137.21M429.95 138.13A93.49 93.49 0 0 1 432.39 137.21M425.85 135.15L428.28 140.89M431.16 137.66L431.84 139.47M428.28 140.89A91.57 91.57 0 0 1 431.84 139.47M430.06 140.16L430.76 141.92M433.51 132.27L436.05 140.00M430.76 141.92A89.67 89.67 0 0 1 436.05 140.00M422.72 149.01L423.93 151.25M433.39 140.92L435.28 146.14M423.93 151.25A84.11 84.11 0 0 1 435.28 146.14M441.38 130.05L442.36 134.17M444.04 129.46L444.91 133.61M442.36 134.17A93.56 93.56 0 0 1 444.91 133.61M438.74 130.72L440.36 136.80M443.63 133.88L444.08 135.89M440.36 136.80A91.50 91.50 0 0 1 444.08 135.89M452.11 128.12L452.62 132.29M454.82 127.83L455.22 132.01M452.62 132.29A93.60 93.60 0 0 1 455.22 132.01M449.41 128.49L450.39 135.01M453.92 132.14L454.18 134.52M450.39 135.01A91.21 91.21 0 0 1 454.18 134.52M446.72 128.94L448.16 136.95M452.28 134.74L452.48 136.28M448.16 136.95A89.66 89.66 0 0 1 452.48 136.28M442.22 136.33L443.39 141.09M450.32 136.59L450.78 139.61M443.39 141.09A86.60 86.60 0 0 1 450.78 139.61M447.07 140.27L447.36 141.74M457.54 127.61L458.38 140.28M447.36 141.74A85.10 85.10 0 0 1 458.38 140.28M436.11 131.46L440.16 145.07M452.85 140.83L453.04 142.32M440.16 145.07A83.60 83.60 0 0 1 453.04 142.32M460.27 127.47L460.43 131.72M462.99 127.41L463.04 131.66M460.43 131.72A93.55 93.55 0 0 1 463.04 131.66M468.45 127.50L468.24 132.11M471.17 127.66L470.83 132.26M468.24 132.11A93.19 93.19 0 0 1 470.83 132.26M465.72 127.42L465.61 133.53M469.53 132.18L469.44 133.67M465.61 133.53A91.69 91.69 0 0 1 469.44 133.67M461.73 131.68L461.86 136.96M467.53 133.58L467.40 137.00M461.86 136.96A88.27 88.27 0 0 1 467.40 137.00M473.88 127.90L473.47 132.01M476.59 128.21L476.06 132.31M473.47 132.01A93.67 93.67 0 0 1 476.06 132.31M474.76 132.15L474.53 134.21M479.29 128.60L478.32 134.73M474.53 134.21A91.60 91.60 0 0 1 478.32 134.73M481.98 129.07L481.19 133.28M484.65 129.61L483.75 133.80M481.19 133.28A93.51 93.51 0 0 1 483.75 133.80M476.43 134.45L475.97 137.78M482.47 133.53L481.43 138.71M475.97 137.78A88.23 88.23 0 0 1 481.43 138.71M478.71 138.20L478.46 139.68M487.31 130.22L484.67 140.97M478.46 139.68A86.73 86.73 0 0 1 484.67 140.97M492.57 131.67L491.28 135.87M495.17 132.50L493.76 136.67M491.28 135.87A93.40 93.40 0 0 1 493.76 136.67M489.95 130.91L488.23 137.15M492.53 136.26L491.89 138.24M488.23 137.15A91.33 91.33 0 0 1 491.89 138.24M497.74 133.40L496.17 137.66M500.28 134.38L498.60 138.59M496.17 137.66A93.26 93.26 0 0 1 498.60 138.59M490.07 137.67L489.20 140.59M497.39 138.12L495.61 142.77M489.20 140.59A88.28 88.28 0 0 1 495.61 142.77M481.58 140.27L481.20 142.06M492.42 141.62L491.33 144.82M481.20 142.06A84.90 84.90 0 0 1 491.33 144.82M507.75 137.73L505.85 141.52M510.17 138.98L508.17 142.72M505.85 141.52A93.56 93.56 0 0 1 508.17 142.72M505.29 136.54L502.65 142.21M507.01 142.11L506.09 143.90M502.65 142.21A91.55 91.55 0 0 1 506.09 143.90M502.80 135.43L499.65 142.73M504.38 143.04L503.63 144.56M499.65 142.73A89.85 89.85 0 0 1 503.63 144.56M512.55 140.30L510.46 143.97M514.90 141.69L512.70 145.30M510.46 143.97A93.58 93.58 0 0 1 512.70 145.30M511.59 144.62L510.36 146.71M517.21 143.14L513.60 148.71M510.36 146.71A91.16 91.16 0 0 1 513.60 148.71M501.65 143.62L500.59 145.91M511.99 147.69L509.97 150.95M500.59 145.91A87.33 87.33 0 0 1 509.97 150.95M486.31 143.29L485.63 145.78M505.36 148.29L502.98 152.71M485.63 145.78A82.31 82.31 0 0 1 502.98 152.71M464.63 136.93L464.58 144.43M494.50 148.75L493.93 150.18M464.58 144.43A80.77 80.77 0 0 1 493.93 150.18M446.55 143.44L447.45 147.67M479.52 145.93L479.24 147.41M447.45 147.67A79.27 79.27 0 0 1 479.24 147.41M429.51 148.48L432.11 154.27M463.33 145.93L463.34 147.43M432.11 154.27A77.77 77.77 0 0 1 463.34 147.43M387.08 214.04L388.57 214.26M447.37 149.23L447.70 150.74M388.57 214.26A76.22 76.22 0 0 1 447.70 150.74M519.48 144.66L516.86 148.45M521.70 146.24L518.98 149.96M516.86 148.45A93.19 93.19 0 0 1 518.98 149.96M523.88 147.88L521.33 151.17M526.01 149.57L523.37 152.79M521.33 151.17A93.64 93.64 0 0 1 523.37 152.79M528.10 151.33L525.38 154.47M530.13 153.15L527.33 156.20M525.38 154.47A93.65 93.65 0 0 1 527.33 156.20M522.36 151.97L520.36 154.49M526.36 155.33L524.21 157.74M520.36 154.49A90.42 90.42 0 0 1 524.21 157.74M517.93 149.20L514.73 153.71M522.30 156.09L520.52 158.20M514.73 153.71A87.66 87.66 0 0 1 520.52 158.20M532.12 155.02L528.97 158.26M534.05 156.95L530.81 160.10M528.97 158.26A93.28 93.28 0 0 1 530.81 160.10M529.90 159.17L528.31 160.76M535.92 158.93L530.95 163.51M528.31 160.76A91.04 91.04 0 0 1 530.95 163.51M517.67 155.89L516.37 157.58M529.65 162.12L525.67 165.94M516.37 157.58A85.53 85.53 0 0 1 525.67 165.94M539.50 163.04L535.91 166.00M541.21 165.17L537.53 168.03M535.91 166.00A93.14 93.14 0 0 1 537.53 168.03M536.73 167.01L535.55 167.95M542.85 167.34L537.89 170.99M535.55 167.95A91.64 91.64 0 0 1 537.89 170.99M537.74 160.96L531.97 165.99M536.74 169.45L535.55 170.37M531.97 165.99A90.14 90.14 0 0 1 535.55 170.37M544.43 169.57L541.05 171.90M545.95 171.83L542.51 174.07M541.05 171.90A93.69 93.69 0 0 1 542.51 174.07M547.41 174.14L543.57 176.49M548.80 176.48L544.90 178.72M543.57 176.49A93.30 93.30 0 0 1 544.90 178.72M541.79 172.98L538.28 175.34M544.24 177.60L540.94 179.56M538.28 175.34A89.46 89.46 0 0 1 540.94 179.56M539.64 177.43L538.37 178.23M550.13 178.86L541.46 183.52M538.37 178.23A87.96 87.96 0 0 1 541.46 183.52M539.96 180.85L538.67 181.61M551.39 181.28L541.26 186.37M538.67 181.61A86.46 86.46 0 0 1 541.26 186.37M533.79 168.15L529.78 171.43M540.00 183.97L538.68 184.69M529.78 171.43A84.96 84.96 0 0 1 538.68 184.69M552.58 183.74L548.82 185.50M553.70 186.22L549.89 187.88M548.82 185.50A93.65 93.65 0 0 1 549.89 187.88M549.36 186.68L546.99 187.75M554.75 188.74L548.48 191.26M546.99 187.75A91.04 91.04 0 0 1 548.48 191.26M547.75 189.50L546.37 190.09M555.73 191.28L547.99 194.15M546.37 190.09A89.54 89.54 0 0 1 547.99 194.15M547.20 192.11L545.81 192.66M556.64 193.85L547.40 196.98M545.81 192.66A88.04 88.04 0 0 1 547.40 196.98M557.48 196.45L553.02 197.82M558.24 199.07L553.75 200.31M553.02 197.82A93.14 93.14 0 0 1 553.75 200.31M546.63 194.81L545.23 195.33M553.40 199.06L547.07 200.91M545.23 195.33A86.54 86.54 0 0 1 547.07 200.91M534.54 177.85L532.85 178.98M546.19 198.10L542.76 199.24M532.85 178.98A82.93 82.93 0 0 1 542.76 199.24M521.17 161.59L517.73 165.42M538.50 188.77L536.20 189.89M517.73 165.42A80.37 80.37 0 0 1 536.20 189.89M540.49 239.87L533.14 238.46M429.20 288.64L430.15 286.93M533.14 238.46A70.40 70.40 0 0 1 430.15 286.93M408.21 173.26L411.89 176.68M528.14 176.77L520.82 182.30M411.89 176.68A71.20 71.20 0 0 1 520.82 182.30M493.97 288.90L492.95 286.73M467.66 154.09L467.50 157.29M492.95 286.73A68.00 68.00 0 1 1 467.50 157.29" fill="none" stroke="#000" stroke-width="1.0"/>
<g font-size="5.5" fill="#111" stroke="#111" stroke-width="0.15"><text x="663.67" y="228.68" transform="rotate(1.00 663.67 228.68)" dy="0.55em">CTBS</text>
<text x="663.49" y="234.25" transform="rotate(2.60 663.49 234.25)" dy="0.55em">VWF</text>
<text x="663.17" y="239.81" transform="rotate(4.19 663.17 239.81)" dy="0.55em">FN1</text>
<text x="662.68" y="245.35" transform="rotate(5.79 662.68 245.35)" dy="0.55em">ICOSLG</text>
<text x="662.04" y="250.88" transform="rotate(7.39 662.04 250.88)" dy="0.55em">PLXDC2</text>
<text x="661.25" y="256.40" transform="rotate(8.99 661.25 256.40)" dy="0.55em">QSOX1</text>
<text x="660.30" y="261.88" transform="rotate(10.58 660.30 261.88)" dy="0.55em">PGLYRP2</text>
<text x="659.20" y="267.34" transform="rotate(12.18 659.20 267.34)" dy="0.55em">DNAAF1</text>
<text x="657.95" y="272.77" transform="rotate(13.78 657.95 272.77)" dy="0.55em">CNDP1</text>
<text x="656.55" y="278.16" transform="rotate(15.38 656.55 278.16)" dy="0.55em">CST3</text>
<text x="655.00" y="283.51" transform="rotate(16.98 655.00 283.51)" dy="0.55em">IGLV8-61</text>
<text x="653.30" y="288.81" transform="rotate(18.57 653.30 288.81)" dy="0.55em">AZGP1</text>
<text x="651.45" y="294.06" transform="rotate(20.17 651.45 294.06)" dy="0.55em">PROS1</text>
<text x="649.46" y="299.26" transform="rotate(21.77 649.46 299.26)" dy="0.55em">MASP1</text>
<text x="647.32" y="304.40" transform="rotate(23.37 647.32 304.40)" dy="0.55em">IGHV1-69</text>
<text x="645.04" y="309.48" transform="rotate(24.96 645.04 309.48)" dy="0.55em">CCL5</text>
<text x="642.62" y="314.50" transform="rotate(26.56 642.62 314.50)" dy="0.55em">PZP</text>
<text x="640.06" y="319.44" transform="rotate(28.16 640.06 319.44)" dy="0.55em">ITIH3</text>
<text x="637.37" y="324.32" transform="rotate(29.76 637.37 324.32)" dy="0.55em">THBS1</text>
<text x="634.54" y="329.11" transform="rotate(31.35 634.54 329.11)" dy="0.55em">PPBP</text>
<text x="631.57" y="333.83" transform="rotate(32.95 631.57 333.83)" dy="0.55em">PF4V1</text>
<text x="628.48" y="338.46" transform="rotate(34.55 628.48 338.46)" dy="0.55em">PF4</text>
<text x="625.26" y="343.00" transform="rotate(36.15 625.26 343.00)" dy="0.55em">F9</text>
<text x="621.91" y="347.45" transform="rotate(37.75 621.91 347.45)" dy="0.55em">F12</text>
<text x="618.44" y="351.80" transform="rotate(39.34 618.44 351.80)" dy="0.55em">PIGR</text>
<text x="614.85" y="356.06" transform="rotate(40.94 614.85 356.06)" dy="0.55em">APOM</text>
<text x="611.14" y="360.21" transform="rotate(42.54 611.14 360.21)" dy="0.55em">SERPINA6</text>
<text x="607.32" y="364.26" transform="rotate(44.14 607.32 364.26)" dy="0.55em">APOB</text>
<text x="603.39" y="368.21" transform="rotate(45.73 603.39 368.21)" dy="0.55em">BTD</text>
<text x="599.35" y="372.04" transform="rotate(47.33 599.35 372.04)" dy="0.55em">SERPINA7</text>
<text x="595.20" y="375.75" transform="rotate(48.93 595.20 375.75)" dy="0.55em">HRG</text>
<text x="590.95" y="379.35" transform="rotate(50.53 590.95 379.35)" dy="0.55em">APOL1</text>
<text x="586.60" y="382.83" transform="rotate(52.12 586.60 382.83)" dy="0.55em">C4B; C4B 2</text>
<text x="582.16" y="386.19" transform="rotate(53.72 582.16 386.19)" dy="0.55em">HBB</text>
<text x="577.63" y="389.42" transform="rotate(55.32 577.63 389.42)" dy="0.55em">CA1</text>
<text x="573.00" y="392.53" transform="rotate(56.92 573.00 392.53)" dy="0.55em">SOD1</text>
<text x="568.30" y="395.50" transform="rotate(58.52 568.30 395.50)" dy="0.55em">HBA1; HBA2</text>
<text x="563.51" y="398.34" transform="rotate(60.11 563.51 398.34)" dy="0.55em">S100A8</text>
<text x="558.64" y="401.05" transform="rotate(61.71 558.64 401.05)" dy="0.55em">AHSG</text>
<text x="553.70" y="403.62" transform="rotate(63.31 553.70 403.62)" dy="0.55em">SAA2</text>
<text x="548.69" y="406.05" transform="rotate(64.91 548.69 406.05)" dy="0.55em">HPR</text>
<text x="543.62" y="408.34" transform="rotate(66.50 543.62 408.34)" dy="0.55em">HMGB2</text>
<text x="538.48" y="410.49" transform="rotate(68.10 538.48 410.49)" dy="0.55em">CAPN3</text>
<text x="533.29" y="412.50" transform="rotate(69.70 533.29 412.50)" dy="0.55em">FETUB</text>
<text x="528.04" y="414.35" transform="rotate(71.30 528.04 414.35)" dy="0.55em">KRT2</text>
<text x="522.74" y="416.07" transform="rotate(72.89 522.74 416.07)" dy="0.55em">KRT10</text>
<text x="517.39" y="417.63" transform="rotate(74.49 517.39 417.63)" dy="0.55em">IGHG4</text>
<text x="512.01" y="419.04" transform="rotate(76.09 512.01 419.04)" dy="0.55em">GPLD1</text>
<text x="506.58" y="420.31" transform="rotate(77.69 506.58 420.31)" dy="0.55em">LUM</text>
<text x="501.13" y="421.42" transform="rotate(79.29 501.13 421.42)" dy="0.55em">IGKV2D-29</text>
<text x="495.64" y="422.38" transform="rotate(80.88 495.64 422.38)" dy="0.55em">IGKV2-40</text>
<text x="490.13" y="423.18" transform="rotate(82.48 490.13 423.18)" dy="0.55em">ALB</text>
<text x="484.60" y="423.83" transform="rotate(84.08 484.60 423.83)" dy="0.55em">IGKV2D-11</text>
<text x="479.06" y="424.33" transform="rotate(85.68 479.06 424.33)" dy="0.55em">IGHA1;4</text>
<text x="473.50" y="424.67" transform="rotate(87.27 473.50 424.67)" dy="0.55em">TF</text>
<text x="467.93" y="424.86" transform="rotate(88.87 467.93 424.86)" dy="0.55em">SERPINA1</text>
<text x="462.36" y="424.89" transform="rotate(270.47 462.36 424.89)" text-anchor="end" dy="0.55em">SERPINA3</text>
<text x="456.80" y="424.77" transform="rotate(272.07 456.80 424.77)" text-anchor="end" dy="0.55em">C8B</text>
<text x="451.24" y="424.49" transform="rotate(273.66 451.24 424.49)" text-anchor="end" dy="0.55em">LRG1</text>
<text x="445.68" y="424.06" transform="rotate(275.26 445.68 424.06)" text-anchor="end" dy="0.55em">HPX</text>
<text x="440.15" y="423.47" transform="rotate(276.86 440.15 423.47)" text-anchor="end" dy="0.55em">GPX3</text>
<text x="434.63" y="422.73" transform="rotate(278.46 434.63 422.73)" text-anchor="end" dy="0.55em">C5A</text>
<text x="429.13" y="421.83" transform="rotate(280.06 429.13 421.83)" text-anchor="end" dy="0.55em">CP</text>
<text x="423.66" y="420.78" transform="rotate(281.65 423.66 420.78)" text-anchor="end" dy="0.55em">CPN1</text>
<text x="418.23" y="419.58" transform="rotate(283.25 418.23 419.58)" text-anchor="end" dy="0.55em">CPN2</text>
<text x="412.82" y="418.23" transform="rotate(284.85 412.82 418.23)" text-anchor="end" dy="0.55em">C4A</text>
<text x="407.46" y="416.73" transform="rotate(286.45 407.46 416.73)" text-anchor="end" dy="0.55em">HGD</text>
<text x="402.14" y="415.08" transform="rotate(288.04 402.14 415.08)" text-anchor="end" dy="0.55em">C2</text>
<text x="396.87" y="413.28" transform="rotate(289.64 396.87 413.28)" text-anchor="end" dy="0.55em">LGALS3BP</text>
<text x="391.66" y="411.34" transform="rotate(291.24 391.66 411.34)" text-anchor="end" dy="0.55em">CFB</text>
<text x="386.49" y="409.25" transform="rotate(292.84 386.49 409.25)" text-anchor="end" dy="0.55em">SAA4</text>
<text x="381.39" y="407.01" transform="rotate(294.43 381.39 407.01)" text-anchor="end" dy="0.55em">CFH</text>
<text x="376.36" y="404.64" transform="rotate(296.03 376.36 404.64)" text-anchor="end" dy="0.55em">F10</text>
<text x="371.39" y="402.13" transform="rotate(297.63 371.39 402.13)" text-anchor="end" dy="0.55em">C1S</text>
<text x="366.49" y="399.48" transform="rotate(299.23 366.49 399.48)" text-anchor="end" dy="0.55em">C1QA</text>
<text x="361.67" y="396.69" transform="rotate(300.83 361.67 396.69)" text-anchor="end" dy="0.55em">SERPINC2</text>
<text x="356.93" y="393.77" transform="rotate(302.42 356.93 393.77)" text-anchor="end" dy="0.55em">SERPING1</text>
<text x="352.27" y="390.72" transform="rotate(304.02 352.27 390.72)" text-anchor="end" dy="0.55em">APOA2</text>
<text x="347.70" y="387.54" transform="rotate(305.62 347.70 387.54)" text-anchor="end" dy="0.55em">IGFALS</text>
<text x="343.22" y="384.23" transform="rotate(307.22 343.22 384.23)" text-anchor="end" dy="0.55em">PLG</text>
<text x="338.83" y="380.80" transform="rotate(308.81 338.83 380.80)" text-anchor="end" dy="0.55em">SERPINF1</text>
<text x="334.54" y="377.25" transform="rotate(310.41 334.54 377.25)" text-anchor="end" dy="0.55em">ATRN</text>
<text x="330.35" y="373.58" transform="rotate(312.01 330.35 373.58)" text-anchor="end" dy="0.55em">VASN</text>
<text x="326.27" y="369.80" transform="rotate(313.61 326.27 369.80)" text-anchor="end" dy="0.55em">A1BG</text>
<text x="322.29" y="365.90" transform="rotate(315.20 322.29 365.90)" text-anchor="end" dy="0.55em">AMBP</text>
<text x="318.42" y="361.90" transform="rotate(316.80 318.42 361.90)" text-anchor="end" dy="0.55em">AFM</text>
<text x="314.67" y="357.79" transform="rotate(318.40 314.67 357.79)" text-anchor="end" dy="0.55em">C6</text>
<text x="311.03" y="353.57" transform="rotate(320.00 311.03 353.57)" text-anchor="end" dy="0.55em">LCAT</text>
<text x="307.51" y="349.26" transform="rotate(321.60 307.51 349.26)" text-anchor="end" dy="0.55em">C1RL</text>
<text x="304.11" y="344.85" transform="rotate(323.19 304.11 344.85)" text-anchor="end" dy="0.55em">HGFAC</text>
<text x="300.84" y="340.34" transform="rotate(324.79 300.84 340.34)" text-anchor="end" dy="0.55em">CFHR1</text>
<text x="297.69" y="335.75" transform="rotate(326.39 297.69 335.75)" text-anchor="end" dy="0.55em">SERPINC1</text>
<text x="294.67" y="331.07" transform="rotate(327.99 294.67 331.07)" text-anchor="end" dy="0.55em">APOH</text>
<text x="291.79" y="326.30" transform="rotate(329.58 291.79 326.30)" text-anchor="end" dy="0.55em">GC</text>
<text x="289.03" y="321.46" transform="rotate(331.18 289.03 321.46)" text-anchor="end" dy="0.55em">C8G</text>
<text x="286.42" y="316.55" transform="rotate(332.78 286.42 316.55)" text-anchor="end" dy="0.55em">SERPIND1</text>
<text x="283.94" y="311.56" transform="rotate(334.38 283.94 311.56)" text-anchor="end" dy="0.55em">ITIH2</text>
<text x="281.60" y="306.51" transform="rotate(335.97 281.60 306.51)" text-anchor="end" dy="0.55em">ITIH1</text>
<text x="279.41" y="301.39" transform="rotate(337.57 279.41 301.39)" text-anchor="end" dy="0.55em">APOD</text>
<text x="277.35" y="296.21" transform="rotate(339.17 277.35 296.21)" text-anchor="end" dy="0.55em">MAN1A1</text>
<text x="275.45" y="290.98" transform="rotate(340.77 275.45 290.98)" text-anchor="end" dy="0.55em">CPB2</text>
<text x="273.68" y="285.70" transform="rotate(342.37 273.68 285.70)" text-anchor="end" dy="0.55em">AGT</text>
<text x="272.07" y="280.37" transform="rotate(343.96 272.07 280.37)" text-anchor="end" dy="0.55em">RBP4</text>
<text x="270.61" y="275.00" transform="rotate(345.56 270.61 275.00)" text-anchor="end" dy="0.55em">C5</text>
<text x="269.30" y="269.59" transform="rotate(347.16 269.30 269.59)" text-anchor="end" dy="0.55em">SERPINF2</text>
<text x="268.13" y="264.14" transform="rotate(348.76 268.13 264.14)" text-anchor="end" dy="0.55em">C7</text>
<text x="267.12" y="258.66" transform="rotate(350.35 267.12 258.66)" text-anchor="end" dy="0.55em">ZNF35</text>
<text x="266.27" y="253.16" transform="rotate(351.95 266.27 253.16)" text-anchor="end" dy="0.55em">EFEMP1</text>
<text x="265.56" y="247.64" transform="rotate(353.55 265.56 247.64)" text-anchor="end" dy="0.55em">APOA4</text>
<text x="265.02" y="242.10" transform="rotate(355.15 265.02 242.10)" text-anchor="end" dy="0.55em">APOF</text>
<text x="264.62" y="236.54" transform="rotate(356.74 264.62 236.54)" text-anchor="end" dy="0.55em">ADIPOQ</text>
<text x="264.38" y="230.98" transform="rotate(358.34 264.38 230.98)" text-anchor="end" dy="0.55em">C9</text>
<text x="264.30" y="225.41" transform="rotate(359.94 264.30 225.41)" text-anchor="end" dy="0.55em">CFP</text>
<text x="264.37" y="219.84" transform="rotate(361.54 264.37 219.84)" text-anchor="end" dy="0.55em">SAA1</text>
<text x="264.60" y="214.28" transform="rotate(363.13 264.60 214.28)" text-anchor="end" dy="0.55em">FBLN1</text>
<text x="264.98" y="208.72" transform="rotate(364.73 264.98 208.72)" text-anchor="end" dy="0.55em">FRMPD1</text>
<text x="265.52" y="203.18" transform="rotate(366.33 265.52 203.18)" text-anchor="end" dy="0.55em">HBG1</text>
<text x="266.21" y="197.66" transform="rotate(367.93 266.21 197.66)" text-anchor="end" dy="0.55em">PRDX2</text>
<text x="267.05" y="192.15" transform="rotate(369.53 267.05 192.15)" text-anchor="end" dy="0.55em">CAT</text>
<text x="268.05" y="186.67" transform="rotate(371.12 268.05 186.67)" text-anchor="end" dy="0.55em">CFHR5</text>
<text x="269.20" y="181.23" transform="rotate(372.72 269.20 181.23)" text-anchor="end" dy="0.55em">F2</text>
<text x="270.50" y="175.81" transform="rotate(374.32 270.50 175.81)" text-anchor="end" dy="0.55em">F13A1</text>
<text x="271.96" y="170.44" transform="rotate(375.92 271.96 170.44)" text-anchor="end" dy="0.55em">SLC4A1</text>
<text x="273.56" y="165.10" transform="rotate(377.51 273.56 165.10)" text-anchor="end" dy="0.55em">GYPA</text>
<text x="275.31" y="159.82" transform="rotate(379.11 275.31 159.82)" text-anchor="end" dy="0.55em">LTF</text>
<text x="277.20" y="154.58" transform="rotate(380.71 277.20 154.58)" text-anchor="end" dy="0.55em">IGLV2-11</text>
<text x="279.25" y="149.40" transform="rotate(382.31 279.25 149.40)" text-anchor="end" dy="0.55em">GAPDH</text>
<text x="281.43" y="144.28" transform="rotate(383.90 281.43 144.28)" text-anchor="end" dy="0.55em">SLC2A1</text>
<text x="283.76" y="139.22" transform="rotate(385.50 283.76 139.22)" text-anchor="end" dy="0.55em">MARCO</text>
<text x="286.22" y="134.23" transform="rotate(387.10 286.22 134.23)" text-anchor="end" dy="0.55em">PRG4</text>
<text x="288.83" y="129.31" transform="rotate(388.70 288.83 129.31)" text-anchor="end" dy="0.55em">F5</text>
<text x="291.57" y="124.46" transform="rotate(390.30 291.57 124.46)" text-anchor="end" dy="0.55em">C1S</text>
<text x="294.45" y="119.69" transform="rotate(391.89 294.45 119.69)" text-anchor="end" dy="0.55em">CD59</text>
<text x="297.46" y="115.00" transform="rotate(393.49 297.46 115.00)" text-anchor="end" dy="0.55em">JCHAIN</text>
<text x="300.59" y="110.40" transform="rotate(395.09 300.59 110.40)" text-anchor="end" dy="0.55em">IGKV2D-24</text>
<text x="303.86" y="105.89" transform="rotate(396.69 303.86 105.89)" text-anchor="end" dy="0.55em">PCOLCE</text>
<text x="307.25" y="101.47" transform="rotate(398.28 307.25 101.47)" text-anchor="end" dy="0.55em">IGHV3-64</text>
<text x="310.76" y="97.15" transform="rotate(399.88 310.76 97.15)" text-anchor="end" dy="0.55em">IGHV4-39</text>
<text x="314.39" y="92.93" transform="rotate(401.48 314.39 92.93)" text-anchor="end" dy="0.55em">C1QB</text>
<text x="318.13" y="88.81" transform="rotate(403.08 318.13 88.81)" text-anchor="end" dy="0.55em">C1QC</text>
<text x="321.99" y="84.79" transform="rotate(404.67 321.99 84.79)" text-anchor="end" dy="0.55em">C8A</text>
<text x="325.96" y="80.89" transform="rotate(406.27 325.96 80.89)" text-anchor="end" dy="0.55em">C1R</text>
<text x="330.04" y="77.10" transform="rotate(407.87 330.04 77.10)" text-anchor="end" dy="0.55em">IGHV3-15</text>
<text x="334.22" y="73.42" transform="rotate(409.47 334.22 73.42)" text-anchor="end" dy="0.55em">IGLV3-21</text>
<text x="338.50" y="69.86" transform="rotate(411.07 338.50 69.86)" text-anchor="end" dy="0.55em">FCGBP</text>
<text x="342.88" y="66.42" transform="rotate(412.66 342.88 66.42)" text-anchor="end" dy="0.55em">IGHV5-10-1</text>
<text x="347.36" y="63.11" transform="rotate(414.26 347.36 63.11)" text-anchor="end" dy="0.55em">THBS4</text>
<text x="351.92" y="59.92" transform="rotate(415.86 351.92 59.92)" text-anchor="end" dy="0.55em">GSN</text>
<text x="356.57" y="56.86" transform="rotate(417.46 356.57 56.86)" text-anchor="end" dy="0.55em">F11</text>
<text x="361.31" y="53.93" transform="rotate(419.05 361.31 53.93)" text-anchor="end" dy="0.55em">CDH1</text>
<text x="366.12" y="51.13" transform="rotate(420.65 366.12 51.13)" text-anchor="end" dy="0.55em">KRT9</text>
<text x="371.01" y="48.47" transform="rotate(422.25 371.01 48.47)" text-anchor="end" dy="0.55em">DCD</text>
<text x="375.98" y="45.95" transform="rotate(423.85 375.98 45.95)" text-anchor="end" dy="0.55em">IGHV1-18</text>
<text x="381.01" y="43.56" transform="rotate(425.44 381.01 43.56)" text-anchor="end" dy="0.55em">MGP</text>
<text x="386.11" y="41.32" transform="rotate(427.04 386.11 41.32)" text-anchor="end" dy="0.55em">ADAMTSL4</text>
<text x="391.26" y="39.22" transform="rotate(428.64 391.26 39.22)" text-anchor="end" dy="0.55em">ITIH4</text>
<text x="396.48" y="37.26" transform="rotate(430.24 396.48 37.26)" text-anchor="end" dy="0.55em">IGKV3-20</text>
<text x="401.74" y="35.45" transform="rotate(431.84 401.74 35.45)" text-anchor="end" dy="0.55em">KRT1</text>
<text x="407.06" y="33.79" transform="rotate(433.43 407.06 33.79)" text-anchor="end" dy="0.55em">KRT15</text>
<text x="412.42" y="32.28" transform="rotate(435.03 412.42 32.28)" text-anchor="end" dy="0.55em">COLEC10</text>
<text x="417.82" y="30.91" transform="rotate(436.63 417.82 30.91)" text-anchor="end" dy="0.55em">SLC2A3</text>
<text x="423.25" y="29.70" transform="rotate(438.23 423.25 29.70)" text-anchor="end" dy="0.55em">TUBA1B</text>
<text x="428.72" y="28.64" transform="rotate(439.82 428.72 28.64)" text-anchor="end" dy="0.55em">ANG</text>
<text x="434.21" y="27.73" transform="rotate(441.42 434.21 27.73)" text-anchor="end" dy="0.55em">LYZ</text>
<text x="439.73" y="26.98" transform="rotate(443.02 439.73 26.98)" text-anchor="end" dy="0.55em">MMRN1</text>
<text x="445.27" y="26.38" transform="rotate(444.62 445.27 26.38)" text-anchor="end" dy="0.55em">H1-3</text>
<text x="450.82" y="25.94" transform="rotate(446.21 450.82 25.94)" text-anchor="end" dy="0.55em">ILK</text>
<text x="456.38" y="25.65" transform="rotate(447.81 456.38 25.65)" text-anchor="end" dy="0.55em">TLN1</text>
<text x="461.94" y="25.51" transform="rotate(449.41 461.94 25.51)" text-anchor="end" dy="0.55em">ACTG2</text>
<text x="467.51" y="25.53" transform="rotate(271.01 467.51 25.53)" dy="0.55em">LTBP2</text>
<text x="473.08" y="25.71" transform="rotate(272.61 473.08 25.71)" dy="0.55em">SELENOP</text>
<text x="478.64" y="26.04" transform="rotate(274.20 478.64 26.04)" dy="0.55em">PGK1</text>
<text x="484.18" y="26.52" transform="rotate(275.80 484.18 26.52)" dy="0.55em">TPI1</text>
<text x="489.71" y="27.16" transform="rotate(277.40 489.71 27.16)" dy="0.55em">VCP</text>
<text x="495.23" y="27.96" transform="rotate(279.00 495.23 27.96)" dy="0.55em">TCP1</text>
<text x="500.71" y="28.90" transform="rotate(280.59 500.71 28.90)" dy="0.55em">PCNA</text>
<text x="506.17" y="30.00" transform="rotate(282.19 506.17 30.00)" dy="0.55em">NANS2</text>
<text x="511.60" y="31.26" transform="rotate(283.79 511.60 31.26)" dy="0.55em">TTLL12</text>
<text x="516.99" y="32.66" transform="rotate(285.39 516.99 32.66)" dy="0.55em">IGFBP3</text>
<text x="522.33" y="34.21" transform="rotate(286.98 522.33 34.21)" dy="0.55em">PCNT</text>
<text x="527.64" y="35.91" transform="rotate(288.58 527.64 35.91)" dy="0.55em">APMAP</text>
<text x="532.89" y="37.76" transform="rotate(290.18 532.89 37.76)" dy="0.55em">APOA1</text>
<text x="538.09" y="39.75" transform="rotate(291.78 538.09 39.75)" dy="0.55em">C4BPB</text>
<text x="543.23" y="41.89" transform="rotate(293.38 543.23 41.89)" dy="0.55em">APOC3</text>
<text x="548.31" y="44.17" transform="rotate(294.97 548.31 44.17)" dy="0.55em">APOC2</text>
<text x="553.33" y="46.59" transform="rotate(296.57 553.33 46.59)" dy="0.55em">FGA</text>
<text x="558.27" y="49.15" transform="rotate(298.17 558.27 49.15)" dy="0.55em">FGB</text>
<text x="563.14" y="51.85" transform="rotate(299.77 563.14 51.85)" dy="0.55em">FGG</text>
<text x="567.94" y="54.68" transform="rotate(301.36 567.94 54.68)" dy="0.55em">HBD</text>
<text x="572.65" y="57.64" transform="rotate(302.96 572.65 57.64)" dy="0.55em">CCND1</text>
<text x="577.28" y="60.74" transform="rotate(304.56 577.28 60.74)" dy="0.55em">ZNF20</text>
<text x="581.82" y="63.96" transform="rotate(306.16 581.82 63.96)" dy="0.55em">HABP2</text>
<text x="586.27" y="67.31" transform="rotate(307.75 586.27 67.31)" dy="0.55em">LPA</text>
<text x="590.63" y="70.78" transform="rotate(309.35 590.63 70.78)" dy="0.55em">SELL</text>
<text x="594.88" y="74.37" transform="rotate(310.95 594.88 74.37)" dy="0.55em">A2M</text>
<text x="599.04" y="78.08" transform="rotate(312.55 599.04 78.08)" dy="0.55em">APOA5</text>
<text x="603.09" y="81.90" transform="rotate(314.15 603.09 81.90)" dy="0.55em">PLTP</text>
<text x="607.03" y="85.83" transform="rotate(315.74 607.03 85.83)" dy="0.55em">SERPINA5</text>
<text x="610.86" y="89.88" transform="rotate(317.34 610.86 89.88)" dy="0.55em">IGLC2</text>
<text x="614.57" y="94.02" transform="rotate(318.94 614.57 94.02)" dy="0.55em">TMEM30</text>
<text x="618.17" y="98.27" transform="rotate(320.54 618.17 98.27)" dy="0.55em">KNG1</text>
<text x="621.65" y="102.62" transform="rotate(322.13 621.65 102.62)" dy="0.55em">IGFBP2</text>
<text x="625.01" y="107.06" transform="rotate(323.73 625.01 107.06)" dy="0.55em">VTN</text>
<text x="628.24" y="111.60" transform="rotate(325.33 628.24 111.60)" dy="0.55em">DMKN</text>
<text x="631.34" y="116.22" transform="rotate(326.93 631.34 116.22)" dy="0.55em">C4BPA</text>
<text x="634.32" y="120.93" transform="rotate(328.52 634.32 120.93)" dy="0.55em">SLMAP</text>
<text x="637.16" y="125.72" transform="rotate(330.12 637.16 125.72)" dy="0.55em">SSC5D</text>
<text x="639.86" y="130.58" transform="rotate(331.72 639.86 130.58)" dy="0.55em">APOE</text>
<text x="642.43" y="135.53" transform="rotate(333.32 642.43 135.53)" dy="0.55em">APOC1</text>
<text x="644.86" y="140.53" transform="rotate(334.92 644.86 140.53)" dy="0.55em">LMAN2</text>
<text x="647.15" y="145.61" transform="rotate(336.51 647.15 145.61)" dy="0.55em">TGFBI</text>
<text x="649.30" y="150.75" transform="rotate(338.11 649.30 150.75)" dy="0.55em">CLU</text>
<text x="651.31" y="155.94" transform="rotate(339.71 651.31 155.94)" dy="0.55em">KLKB1</text>
<text x="653.16" y="161.19" transform="rotate(341.31 653.16 161.19)" dy="0.55em">ANXA5</text>
<text x="654.88" y="166.49" transform="rotate(342.90 654.88 166.49)" dy="0.55em">AHSG</text>
<text x="656.44" y="171.84" transform="rotate(344.50 656.44 171.84)" dy="0.55em">IGFBP4</text></g>
<g font-size="10.3" font-weight="bold"><text x="566.93" y="200.68" transform="rotate(72 566.93 200.68)" dy="0.36em" fill="#1dbdc5">HRA</text><text x="576.09" y="198.50" transform="rotate(72 576.09 198.50)" dy="0.36em" fill="#1dbdc5">HDH</text><text x="585.26" y="196.31" transform="rotate(72 585.26 196.31)" dy="0.36em" fill="#1dbdc5">HAM</text><text x="594.42" y="194.13" transform="rotate(72 594.42 194.13)" dy="0.36em" fill="#f87a70">P119</text><text x="603.58" y="191.95" transform="rotate(72 603.58 191.95)" dy="0.36em" fill="#f87a70">P107</text><text x="612.75" y="189.76" transform="rotate(72 612.75 189.76)" dy="0.36em" fill="#f87a70">P106</text><text x="621.91" y="187.58" transform="rotate(72 621.91 187.58)" dy="0.36em" fill="#f87a70">P102</text><text x="631.07" y="185.40" transform="rotate(72 631.07 185.40)" dy="0.36em" fill="#f87a70">P118</text><text x="640.24" y="183.21" transform="rotate(72 640.24 183.21)" dy="0.36em" fill="#f87a70">P113</text><text x="649.40" y="181.03" transform="rotate(72 649.40 181.03)" dy="0.36em" fill="#f87a70">P117</text></g>

<defs>
<linearGradient id="gB" x1="0" y1="0" x2="0" y2="1">
<stop offset="0" stop-color="#d6406d"/><stop offset="0.22" stop-color="#d94a75"/>
<stop offset="0.5" stop-color="#ffffff"/>
<stop offset="0.62" stop-color="#d9b0f8"/><stop offset="0.76" stop-color="#a222f0"/><stop offset="1" stop-color="#a020f0"/>
</linearGradient>
</defs>
<text x="457" y="186.5" font-size="11.5" font-weight="bold" text-anchor="middle">Expression</text>
<text x="458.8" y="199.2" font-size="11.5" font-weight="bold" text-anchor="middle">Level</text>
<rect x="451.4" y="204.1" width="10.9" height="55.2" fill="url(#gB)"/>
<g stroke="#fff" stroke-width="0.8">
<path d="M451.4 206.3h2.5M459.8 206.3h2.5M451.4 219.2h2.5M459.8 219.2h2.5M451.4 244.6h2.5M459.8 244.6h2.5M451.4 257.8h2.5M459.8 257.8h2.5"/>
</g>
<g font-size="7.6" fill="#111" stroke="#111" stroke-width="0.25">
<text x="465" y="209.2">4</text>
<text x="465" y="222.2">2</text>
<text x="465" y="235">0</text>
<text x="465" y="247.6">- 2</text>
<text x="465" y="260.6">- 4</text>
</g>

</svg></body></html>
